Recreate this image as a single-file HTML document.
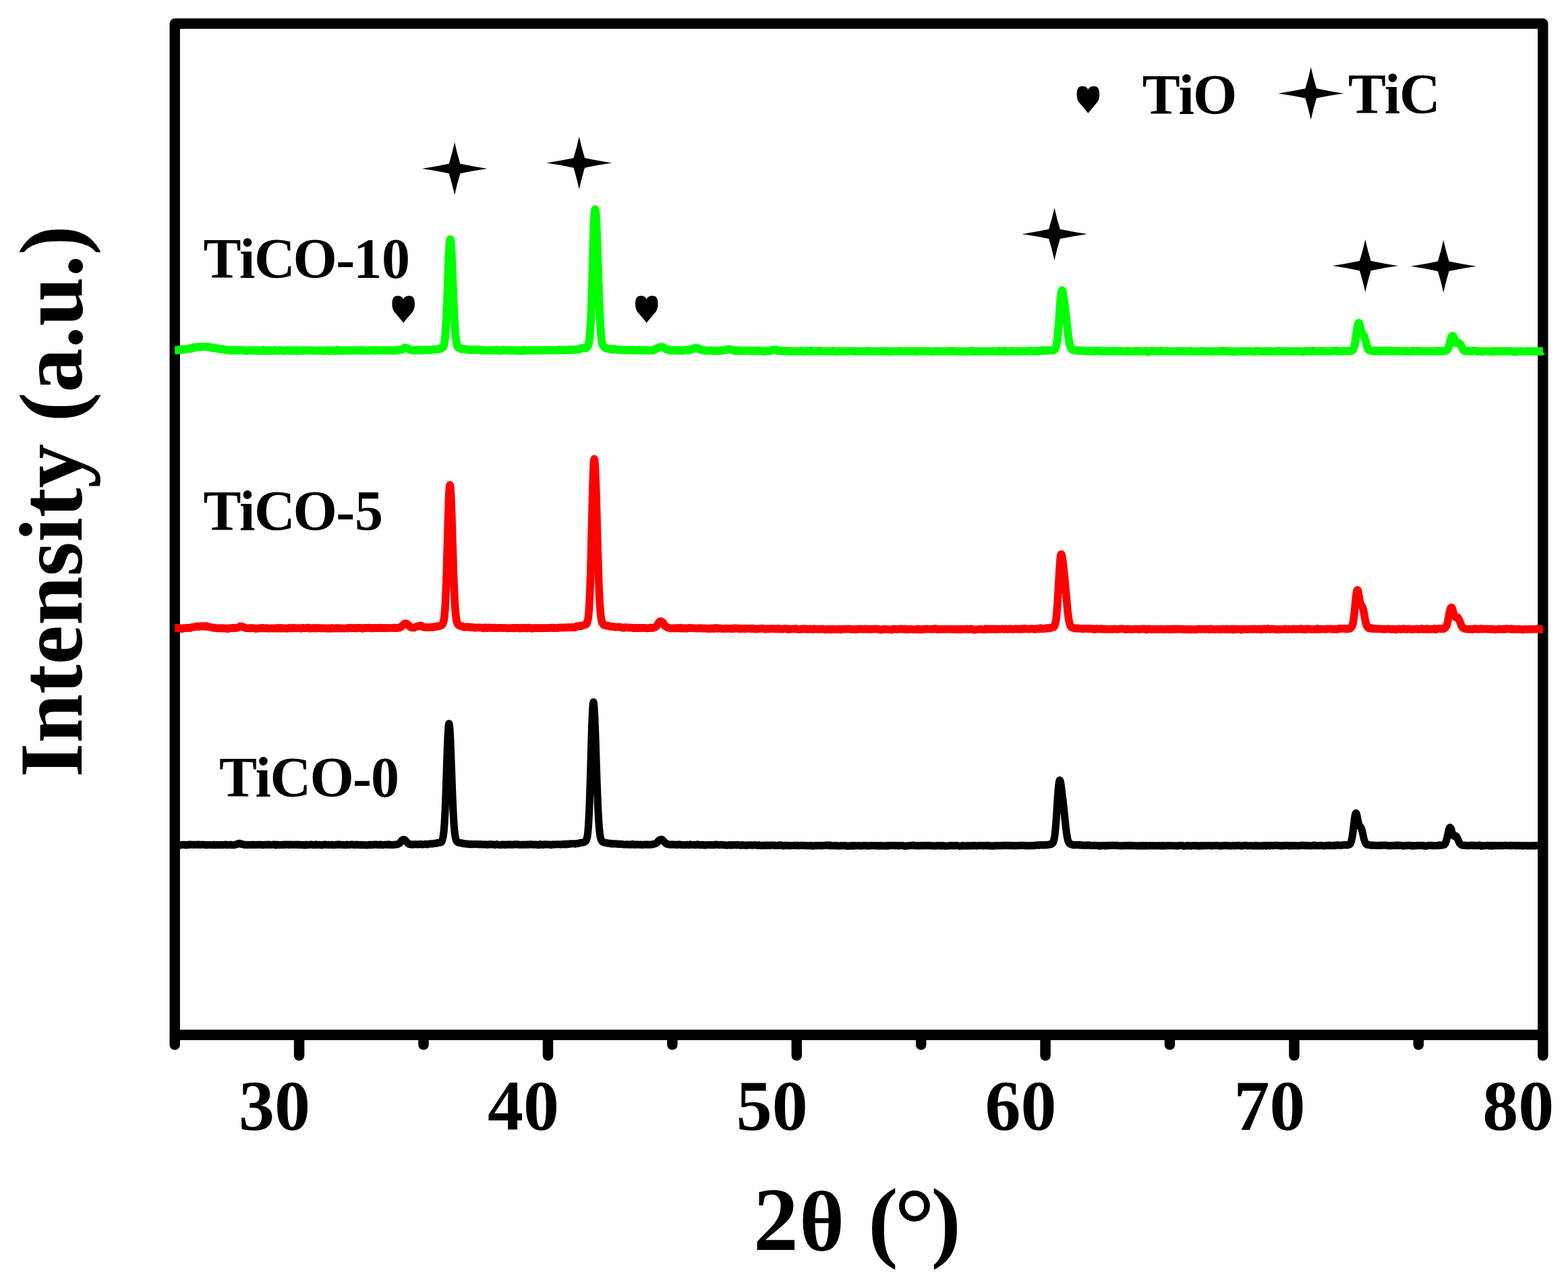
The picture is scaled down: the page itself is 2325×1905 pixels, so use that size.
<!DOCTYPE html>
<html lang="en"><head><meta charset="utf-8"><title>XRD patterns of TiCO-0, TiCO-5 and TiCO-10</title>
<style>
html,body{margin:0;padding:0;background:#fff;}
body{width:2325px;height:1905px;overflow:hidden;}
svg{display:block;}
text{font-family:"Liberation Serif","DejaVu Serif",serif;font-weight:bold;fill:#000;font-kerning:none;font-variant-ligatures:none;}
.ax{fill:none;stroke:#000;stroke-linecap:round;stroke-linejoin:round;}
.cv{fill:none;stroke-linejoin:round;stroke-linecap:butt;}
</style></head><body>
<svg width="2325" height="1905" viewBox="0 0 2325 1905">
<rect x="0" y="0" width="2325" height="1905" fill="#fff"/>
<g class="ax" stroke-width="15.4">
<rect x="259.2" y="35.0" width="2028.6" height="1499.3"/>
<line x1="259.2" y1="1535.8" x2="259.2" y2="1548.8" stroke-width="15.5"/>
<line x1="443.6" y1="1535.8" x2="443.6" y2="1564.8" stroke-width="15.5"/>
<line x1="628.0" y1="1535.8" x2="628.0" y2="1548.8" stroke-width="15.5"/>
<line x1="812.5" y1="1535.8" x2="812.5" y2="1564.8" stroke-width="15.5"/>
<line x1="996.9" y1="1535.8" x2="996.9" y2="1548.8" stroke-width="15.5"/>
<line x1="1181.3" y1="1535.8" x2="1181.3" y2="1564.8" stroke-width="15.5"/>
<line x1="1365.7" y1="1535.8" x2="1365.7" y2="1548.8" stroke-width="15.5"/>
<line x1="1550.1" y1="1535.8" x2="1550.1" y2="1564.8" stroke-width="15.5"/>
<line x1="1734.5" y1="1535.8" x2="1734.5" y2="1548.8" stroke-width="15.5"/>
<line x1="1919.0" y1="1535.8" x2="1919.0" y2="1564.8" stroke-width="15.5"/>
<line x1="2103.4" y1="1535.8" x2="2103.4" y2="1548.8" stroke-width="15.5"/>
<line x1="2287.8" y1="1535.8" x2="2287.8" y2="1564.8" stroke-width="15.5"/>
</g>
<path class="cv" stroke="#00ff00" stroke-width="12.0" d="M259.2 519.2L260.0 519.2L260.8 519.0L261.6 519.3L262.4 519.4L263.2 519.2L264.0 518.7L264.8 518.8L265.6 519.1L266.4 519.1L267.2 518.7L268.0 518.1L268.8 518.0L269.6 518.0L270.4 518.2L271.2 517.8L272.0 517.8L272.8 517.7L273.6 518.3L274.4 518.1L275.2 517.8L276.0 517.5L276.8 517.4L277.6 517.3L278.4 517.0L279.2 516.6L280.0 516.5L280.8 516.8L281.6 516.7L282.4 516.9L283.2 516.4L284.0 516.7L284.8 516.2L285.6 516.2L286.4 515.8L287.2 515.0L288.0 514.7L288.8 514.5L289.6 515.2L290.4 515.1L291.2 515.0L292.0 514.7L292.8 514.5L293.6 514.5L294.4 514.6L295.2 514.5L296.0 514.6L296.8 514.0L297.6 514.1L298.4 513.8L299.2 514.1L300.0 513.8L300.8 514.1L301.6 513.9L302.4 514.1L303.2 513.8L304.0 513.9L304.8 513.9L305.6 514.3L306.4 514.4L307.2 514.4L308.0 514.0L308.8 514.4L309.6 514.4L310.4 514.8L311.2 514.8L312.0 514.9L312.8 515.1L313.6 515.4L314.4 515.8L315.2 516.1L316.0 516.0L316.8 515.7L317.6 515.6L318.4 515.6L319.2 515.9L320.0 516.1L320.8 516.4L321.6 516.6L322.4 516.5L323.2 516.7L324.0 517.2L324.8 517.3L325.6 517.3L326.4 517.1L327.2 517.4L328.0 517.8L328.8 517.6L329.6 517.6L330.4 517.4L331.2 517.9L332.0 518.3L332.8 518.5L333.6 518.8L334.4 518.8L335.2 518.5L336.0 518.5L336.8 518.6L337.6 518.6L338.4 518.9L339.2 518.8L340.0 518.9L340.8 518.9L341.6 519.4L342.4 519.8L343.2 519.8L344.0 519.4L344.8 518.9L345.6 519.2L346.4 519.3L347.2 519.5L348.0 519.4L348.8 519.8L349.6 519.8L350.4 519.4L351.2 518.8L352.0 519.1L352.8 519.6L353.6 519.8L354.4 519.1L355.2 519.0L356.0 519.0L356.8 519.2L357.6 519.3L358.4 519.0L359.2 519.4L360.0 519.5L360.8 519.7L361.6 519.3L362.4 519.1L363.2 519.2L364.0 519.8L364.8 520.0L365.6 520.2L366.4 520.0L367.2 519.7L368.0 519.7L368.8 519.4L369.6 519.5L370.4 519.5L371.2 519.7L372.0 519.6L372.8 519.4L373.6 519.5L374.4 519.6L375.2 520.0L376.0 519.6L376.8 519.3L377.6 519.1L378.4 519.5L379.2 520.0L380.0 519.9L380.8 519.8L381.6 519.2L382.4 519.1L383.2 519.3L384.0 520.2L384.8 520.0L385.6 519.8L386.4 519.6L387.2 519.9L388.0 520.2L388.8 519.2L389.6 519.1L390.4 518.7L391.2 519.3L392.0 519.9L392.8 520.1L393.6 520.3L394.4 519.8L395.2 520.2L396.0 520.1L396.8 520.0L397.6 519.3L398.4 519.3L399.2 519.8L400.0 520.0L400.8 519.6L401.6 519.5L402.4 519.8L403.2 520.1L404.0 520.1L404.8 520.1L405.6 519.7L406.4 519.4L407.2 518.9L408.0 519.1L408.8 519.3L409.6 519.8L410.4 519.9L411.2 520.1L412.0 520.2L412.8 520.1L413.6 519.6L414.4 519.1L415.2 519.0L416.0 519.2L416.8 519.5L417.6 519.7L418.4 519.8L419.2 519.9L420.0 520.2L420.8 520.4L421.6 520.2L422.4 519.9L423.2 519.7L424.0 519.4L424.8 519.4L425.6 519.2L426.4 519.3L427.2 519.4L428.0 519.9L428.8 520.0L429.6 520.0L430.4 519.4L431.2 519.4L432.0 519.1L432.8 519.2L433.6 519.7L434.4 519.7L435.2 520.0L436.0 519.7L436.8 520.0L437.6 519.7L438.4 519.4L439.2 519.1L440.0 519.6L440.8 519.8L441.6 520.5L442.4 520.2L443.2 520.0L444.0 519.7L444.8 519.6L445.6 519.7L446.4 519.3L447.2 519.5L448.0 519.7L448.8 520.1L449.6 519.6L450.4 519.2L451.2 519.1L452.0 519.4L452.8 519.6L453.6 519.5L454.4 519.6L455.2 519.7L456.0 519.9L456.8 520.0L457.6 519.7L458.4 519.3L459.2 519.2L460.0 519.5L460.8 519.6L461.6 519.6L462.4 519.7L463.2 519.6L464.0 519.6L464.8 519.7L465.6 519.8L466.4 520.1L467.2 520.1L468.0 519.8L468.8 520.1L469.6 519.9L470.4 520.2L471.2 519.9L472.0 519.8L472.8 519.5L473.6 519.4L474.4 519.4L475.2 519.7L476.0 519.8L476.8 519.6L477.6 519.5L478.4 519.7L479.2 520.1L480.0 520.3L480.8 520.3L481.6 519.9L482.4 519.6L483.2 519.4L484.0 519.3L484.8 519.5L485.6 519.3L486.4 519.4L487.2 519.6L488.0 520.0L488.8 520.3L489.6 519.9L490.4 519.4L491.2 519.4L492.0 519.4L492.8 519.7L493.6 519.5L494.4 519.8L495.2 519.8L496.0 520.1L496.8 520.2L497.6 520.3L498.4 519.9L499.2 519.3L500.0 518.6L500.8 518.8L501.6 519.5L502.4 520.0L503.2 520.2L504.0 519.5L504.8 519.3L505.6 519.3L506.4 519.4L507.2 519.5L508.0 519.6L508.8 519.9L509.6 520.0L510.4 519.7L511.2 519.6L512.0 519.6L512.8 519.6L513.6 519.7L514.4 519.8L515.2 519.6L516.0 519.4L516.8 519.2L517.6 519.7L518.4 519.8L519.2 519.8L520.0 519.7L520.8 519.5L521.6 519.7L522.4 519.4L523.2 519.6L524.0 519.5L524.8 519.3L525.6 519.4L526.4 519.1L527.2 519.5L528.0 519.6L528.8 519.8L529.6 519.8L530.4 519.7L531.2 519.7L532.0 519.2L532.8 519.5L533.6 519.6L534.4 519.5L535.2 518.9L536.0 519.0L536.8 519.5L537.6 519.8L538.4 519.9L539.2 519.9L540.0 519.9L540.8 519.7L541.6 519.4L542.4 519.4L543.2 519.6L544.0 519.7L544.8 519.8L545.6 519.6L546.4 519.9L547.2 519.7L548.0 519.8L548.8 519.8L549.6 519.4L550.4 519.3L551.2 519.3L552.0 519.5L552.8 519.2L553.6 519.1L554.4 519.1L555.2 519.6L556.0 519.9L556.8 520.0L557.6 519.6L558.4 519.2L559.2 519.1L560.0 519.2L560.8 519.5L561.6 519.6L562.4 519.5L563.2 519.4L564.0 519.4L564.8 519.6L565.6 519.9L566.4 519.6L567.2 519.2L568.0 518.9L568.8 518.9L569.6 519.0L570.4 519.2L571.2 519.2L572.0 519.6L572.8 519.6L573.6 519.9L574.4 519.5L575.2 519.6L576.0 519.5L576.8 519.5L577.6 519.2L578.4 519.3L579.2 519.5L580.0 519.6L580.8 519.7L581.6 519.4L582.4 519.7L583.2 519.5L584.0 519.9L584.8 519.7L585.6 519.7L586.4 519.6L587.2 519.3L588.0 519.1L588.8 518.3L589.6 518.5L590.4 518.7L591.2 519.3L592.0 519.0L592.8 518.8L593.6 518.6L594.4 518.6L595.2 518.4L596.0 518.1L596.8 517.8L597.6 517.4L598.4 516.7L599.2 516.0L600.0 515.4L600.8 515.5L601.6 515.9L602.4 515.9L603.2 516.0L604.0 516.3L604.8 516.9L605.6 517.6L606.4 517.8L607.2 518.2L608.0 518.2L608.8 518.5L609.6 518.7L610.4 519.1L611.2 519.3L612.0 519.5L612.8 519.4L613.6 519.3L614.4 519.1L615.2 518.7L616.0 519.2L616.8 519.3L617.6 519.6L618.4 518.7L619.2 518.6L620.0 518.8L620.8 519.2L621.6 519.4L622.4 518.9L623.2 519.2L624.0 519.1L624.8 519.3L625.6 519.1L626.4 519.1L627.2 519.4L628.0 519.3L628.8 519.0L629.6 518.6L630.4 518.9L631.2 519.0L632.0 518.8L632.8 518.6L633.6 518.7L634.4 518.5L635.2 518.6L636.0 518.7L636.8 519.2L637.6 519.1L638.4 519.1L639.2 518.9L640.0 518.8L640.8 518.3L641.6 518.1L642.4 517.9L643.2 517.8L644.0 517.7L644.8 517.9L645.2 518.0L645.6 518.1L646.0 518.2L646.4 518.2L646.8 517.8L647.2 517.5L647.6 517.6L648.0 517.7L648.4 517.6L648.8 517.5L649.2 517.7L649.6 518.0L650.0 517.8L650.4 517.6L650.8 517.6L651.2 517.6L651.6 517.4L652.0 517.1L652.4 517.1L652.8 517.1L653.2 517.0L653.6 516.8L654.0 516.6L654.4 516.4L654.8 516.2L655.2 515.9L655.6 515.6L656.0 515.3L656.4 515.1L656.8 514.8L657.2 514.4L657.6 513.8L658.0 512.7L658.4 511.3L658.8 509.2L659.2 506.6L659.6 503.6L660.0 500.0L660.4 495.8L660.8 490.7L661.2 484.8L661.6 478.0L662.0 470.1L662.4 461.2L662.8 451.5L663.2 441.1L663.6 430.1L664.0 418.9L664.4 407.6L664.8 396.6L665.2 386.4L665.6 377.1L666.0 369.2L666.4 362.8L666.8 358.4L667.2 355.8L667.6 354.7L668.0 355.6L668.4 358.3L668.8 362.8L669.2 368.7L669.6 376.1L670.0 384.6L670.4 394.1L670.8 404.0L671.2 414.2L671.6 424.3L672.0 434.2L672.4 443.9L672.8 453.1L673.2 461.9L673.6 469.9L674.0 477.4L674.4 484.0L674.8 489.8L675.2 494.7L675.6 499.0L676.0 502.6L676.4 505.3L676.8 507.5L677.2 509.6L677.6 511.3L678.0 512.5L678.4 513.5L678.8 514.3L679.2 515.0L679.6 515.3L680.0 515.6L680.4 515.7L680.8 515.7L681.2 516.0L681.6 516.3L682.0 516.4L682.4 516.4L682.8 516.7L683.2 516.9L683.6 517.1L684.0 517.3L684.4 517.5L684.8 517.7L685.2 517.5L685.6 517.3L686.0 517.2L686.4 517.1L686.8 517.0L687.2 516.9L687.6 517.0L688.0 517.2L688.4 517.3L688.8 517.3L689.2 517.3L689.6 517.3L690.0 517.5L690.4 517.6L690.8 517.8L691.2 517.9L691.6 517.9L692.0 518.0L692.4 518.0L692.8 518.0L693.2 518.2L693.6 518.3L694.4 518.6L695.2 518.7L696.0 518.4L696.8 518.5L697.6 518.7L698.4 518.9L699.2 518.5L700.0 518.4L700.8 518.3L701.6 518.7L702.4 518.6L703.2 518.5L704.0 518.3L704.8 518.7L705.6 518.6L706.4 518.9L707.2 518.7L708.0 518.5L708.8 518.6L709.6 518.2L710.4 518.5L711.2 518.6L712.0 518.9L712.8 519.0L713.6 518.8L714.4 519.4L715.2 519.6L716.0 519.6L716.8 519.4L717.6 519.0L718.4 519.1L719.2 518.9L720.0 519.3L720.8 519.4L721.6 519.5L722.4 519.5L723.2 519.3L724.0 519.2L724.8 519.3L725.6 519.6L726.4 519.4L727.2 519.5L728.0 519.3L728.8 519.5L729.6 519.5L730.4 519.5L731.2 519.6L732.0 519.0L732.8 519.1L733.6 518.9L734.4 519.5L735.2 519.2L736.0 518.9L736.8 518.7L737.6 519.3L738.4 519.6L739.2 519.6L740.0 519.4L740.8 519.5L741.6 519.9L742.4 519.9L743.2 519.7L744.0 519.6L744.8 519.5L745.6 519.0L746.4 518.5L747.2 518.7L748.0 519.2L748.8 519.5L749.6 519.3L750.4 519.2L751.2 519.3L752.0 519.3L752.8 519.6L753.6 519.5L754.4 519.2L755.2 519.0L756.0 519.3L756.8 519.6L757.6 519.9L758.4 519.5L759.2 519.4L760.0 519.0L760.8 519.2L761.6 519.6L762.4 519.7L763.2 519.6L764.0 519.2L764.8 519.5L765.6 519.5L766.4 519.8L767.2 519.6L768.0 519.6L768.8 519.4L769.6 519.4L770.4 519.8L771.2 520.3L772.0 520.3L772.8 519.8L773.6 519.3L774.4 519.6L775.2 520.0L776.0 519.9L776.8 519.2L777.6 518.8L778.4 518.8L779.2 519.1L780.0 519.5L780.8 519.6L781.6 519.7L782.4 519.7L783.2 519.6L784.0 519.6L784.8 519.4L785.6 519.1L786.4 518.9L787.2 518.9L788.0 519.2L788.8 519.6L789.6 519.7L790.4 519.6L791.2 519.5L792.0 519.2L792.8 519.4L793.6 519.1L794.4 519.4L795.2 519.6L796.0 519.3L796.8 519.4L797.6 519.0L798.4 519.5L799.2 519.2L800.0 519.5L800.8 519.5L801.6 519.4L802.4 518.9L803.2 519.0L804.0 519.1L804.8 519.3L805.6 519.3L806.4 519.1L807.2 519.4L808.0 519.2L808.8 519.2L809.6 518.9L810.4 518.9L811.2 519.2L812.0 519.3L812.8 519.6L813.6 519.2L814.4 519.0L815.2 518.7L816.0 519.0L816.8 519.0L817.6 519.1L818.4 519.2L819.2 519.5L820.0 519.2L820.8 519.0L821.6 519.0L822.4 519.3L823.2 519.5L824.0 519.6L824.8 519.5L825.6 519.1L826.4 519.0L827.2 519.5L828.0 519.3L828.8 519.1L829.6 518.5L830.4 518.5L831.2 518.7L832.0 519.0L832.8 519.1L833.6 518.7L834.4 518.9L835.2 519.0L836.0 519.4L836.8 519.0L837.6 518.6L838.4 518.5L839.2 518.8L840.0 519.1L840.8 519.0L841.6 519.1L842.4 518.9L843.2 518.9L844.0 518.5L844.8 518.8L845.6 518.5L846.4 518.8L847.2 518.4L848.0 518.9L848.8 518.3L849.6 518.5L850.4 518.4L851.2 518.7L852.0 518.5L852.8 518.3L853.6 518.3L854.4 518.2L855.2 518.0L856.0 518.4L856.8 518.4L857.6 518.2L858.4 517.5L859.2 517.2L859.7 517.2L860.0 517.3L860.1 517.2L860.5 516.9L860.8 516.7L860.9 516.7L861.3 516.7L861.6 516.7L861.7 516.6L862.1 516.5L862.4 516.3L862.5 516.4L862.9 516.4L863.2 516.5L863.3 516.5L863.7 516.4L864.0 516.3L864.1 516.3L864.5 516.2L864.8 516.2L864.9 516.2L865.3 516.3L865.6 516.3L865.7 516.3L866.1 516.2L866.4 516.2L866.5 516.1L866.9 516.0L867.2 515.9L867.3 515.9L867.7 515.9L868.0 515.9L868.1 516.0L868.5 516.0L868.8 516.1L868.9 516.0L869.3 515.9L869.6 515.8L869.7 515.7L870.1 515.2L870.4 514.9L870.5 514.8L870.9 514.3L871.2 513.9L871.3 513.7L871.7 513.1L872.0 512.5L872.1 512.3L872.5 511.2L872.8 510.1L872.9 509.7L873.3 507.7L873.6 505.8L873.7 505.2L874.1 502.3L874.4 499.5L874.5 498.5L874.9 493.8L875.2 489.6L875.3 488.1L875.7 481.4L876.0 475.6L876.1 473.4L876.5 464.1L876.8 456.3L876.9 453.6L877.3 441.9L877.6 432.6L877.7 429.3L878.1 415.9L878.4 405.5L878.5 402.1L878.9 388.2L879.2 377.9L879.3 374.4L879.7 361.1L880.0 351.6L880.1 348.6L880.5 337.6L880.8 330.3L880.9 328.1L881.3 320.4L881.6 316.0L881.7 314.8L882.1 311.5L882.4 310.4L882.5 310.3L882.9 311.1L883.2 313.1L883.3 314.0L883.7 318.8L884.0 323.7L884.1 325.5L884.5 333.8L884.8 340.9L884.9 343.5L885.3 354.5L885.6 363.3L885.7 366.2L886.1 378.2L886.4 387.3L886.5 390.4L886.9 402.5L887.2 411.5L887.3 414.4L887.7 425.7L888.0 433.9L888.1 436.6L888.5 446.7L888.8 453.8L888.9 456.2L889.3 464.9L889.6 470.9L889.7 472.8L890.1 479.9L890.4 484.6L890.5 486.2L890.9 491.9L891.2 495.6L891.3 496.8L891.7 500.8L892.0 503.4L892.1 504.2L892.5 506.8L892.8 508.5L892.9 509.0L893.3 510.6L893.6 511.6L893.7 511.8L894.1 512.4L894.4 512.7L894.5 512.9L894.9 513.6L895.2 514.0L895.3 514.1L895.7 514.4L896.0 514.7L896.1 514.8L896.5 515.2L896.8 515.5L896.9 515.5L897.3 515.6L897.6 515.7L897.7 515.7L898.1 515.9L898.4 516.0L898.5 516.1L898.9 516.1L899.2 516.2L899.3 516.2L899.7 516.4L900.0 516.5L900.1 516.5L900.5 516.6L900.8 516.6L900.9 516.7L901.3 516.9L901.6 517.0L901.7 517.0L902.1 517.0L902.4 517.0L902.5 517.0L902.9 517.0L903.2 516.9L903.3 516.9L903.7 517.0L904.0 517.0L904.1 517.0L904.5 517.0L904.8 517.1L904.9 517.1L905.3 517.2L905.6 517.3L905.7 517.3L906.1 517.7L906.4 517.9L906.5 518.0L906.9 518.3L907.2 518.6L907.3 518.6L907.7 518.5L908.0 518.5L908.1 518.5L908.5 518.2L908.8 518.0L908.9 517.9L909.3 517.7L909.6 517.5L910.4 517.3L911.2 517.2L912.0 517.5L912.8 517.6L913.6 518.3L914.4 518.2L915.2 518.4L916.0 518.2L916.8 518.4L917.6 518.8L918.4 518.8L919.2 518.5L920.0 518.4L920.8 518.4L921.6 518.8L922.4 518.7L923.2 519.0L924.0 518.8L924.8 518.9L925.6 518.7L926.4 518.9L927.2 519.1L928.0 519.3L928.8 519.0L929.6 518.5L930.4 518.5L931.2 518.6L932.0 518.8L932.8 518.7L933.6 519.1L934.4 519.2L935.2 519.5L936.0 519.0L936.8 518.9L937.6 518.6L938.4 519.3L939.2 519.4L940.0 519.4L940.8 519.2L941.6 519.1L942.4 519.2L943.2 519.0L944.0 519.4L944.8 519.6L945.6 519.6L946.4 518.9L947.2 518.7L948.0 518.6L948.8 519.3L949.6 519.5L950.4 519.6L951.2 519.7L952.0 519.4L952.8 519.4L953.6 519.0L954.4 519.4L955.2 519.2L956.0 519.4L956.8 519.1L957.6 519.2L958.4 519.4L959.2 519.3L960.0 519.4L960.8 519.3L961.6 519.6L962.4 519.5L963.2 519.6L964.0 519.3L964.8 519.3L965.6 519.3L966.4 519.6L967.2 519.5L968.0 519.1L968.8 518.6L969.6 518.7L970.4 518.5L971.2 518.3L972.0 517.7L972.8 517.3L973.6 517.0L974.4 516.5L975.2 515.9L976.0 515.4L976.8 515.2L977.6 515.0L978.4 514.5L979.2 514.4L980.0 514.4L980.8 514.4L981.6 514.2L982.4 514.4L983.2 515.1L984.0 515.4L984.8 515.6L985.6 515.9L986.4 516.7L987.2 517.7L988.0 518.0L988.8 518.2L989.6 518.5L990.4 518.7L991.2 518.7L992.0 518.6L992.8 519.3L993.6 519.6L994.4 519.6L995.2 519.6L996.0 519.4L996.8 519.3L997.6 518.9L998.4 519.2L999.2 519.6L1000.0 519.6L1000.8 519.3L1001.6 518.9L1002.4 518.9L1003.2 519.1L1004.0 519.4L1004.8 520.0L1005.6 519.8L1006.4 519.3L1007.2 519.1L1008.0 519.3L1008.8 519.6L1009.6 519.4L1010.4 519.6L1011.2 519.9L1012.0 520.1L1012.8 519.5L1013.6 519.5L1014.4 519.1L1015.2 519.1L1016.0 518.6L1016.8 518.5L1017.6 518.5L1018.4 519.0L1019.2 519.2L1020.0 519.6L1020.8 519.3L1021.6 518.6L1022.4 518.6L1023.2 518.2L1024.0 518.7L1024.8 517.9L1025.6 517.5L1026.4 517.1L1027.2 516.8L1028.0 516.7L1028.8 516.2L1029.6 516.3L1030.4 516.3L1031.2 516.6L1032.0 516.6L1032.8 516.4L1033.6 516.4L1034.4 516.1L1035.2 516.4L1036.0 516.8L1036.8 517.6L1037.6 518.0L1038.4 518.4L1039.2 518.7L1040.0 518.6L1040.8 518.6L1041.6 518.6L1042.4 518.9L1043.2 518.9L1044.0 518.9L1044.8 518.9L1045.6 519.3L1046.4 519.5L1047.2 519.9L1048.0 519.8L1048.8 520.0L1049.6 519.9L1050.4 519.9L1051.2 519.8L1052.0 519.8L1052.8 519.9L1053.6 519.6L1054.4 519.6L1055.2 519.7L1056.0 519.9L1056.8 520.1L1057.6 520.1L1058.4 520.1L1059.2 520.2L1060.0 520.6L1060.8 520.6L1061.6 520.1L1062.4 519.8L1063.2 520.0L1064.0 520.1L1064.8 520.1L1065.6 520.1L1066.4 520.4L1067.2 520.0L1068.0 520.2L1068.8 519.7L1069.6 519.7L1070.4 519.1L1071.2 519.3L1072.0 519.5L1072.8 519.5L1073.6 519.5L1074.4 519.0L1075.2 519.0L1076.0 518.6L1076.8 518.6L1077.6 518.2L1078.4 517.9L1079.2 518.0L1080.0 518.1L1080.8 518.0L1081.6 517.8L1082.4 518.0L1083.2 518.4L1084.0 518.7L1084.8 518.5L1085.6 518.7L1086.4 518.7L1087.2 518.6L1088.0 519.0L1088.8 519.4L1089.6 520.2L1090.4 520.4L1091.2 520.1L1092.0 519.8L1092.8 519.3L1093.6 519.9L1094.4 520.1L1095.2 520.2L1096.0 519.7L1096.8 519.3L1097.6 519.5L1098.4 519.7L1099.2 519.8L1100.0 520.0L1100.8 519.9L1101.6 519.9L1102.4 519.9L1103.2 519.8L1104.0 519.9L1104.8 520.1L1105.6 520.3L1106.4 520.2L1107.2 520.1L1108.0 519.8L1108.8 519.7L1109.6 519.7L1110.4 519.9L1111.2 519.5L1112.0 519.7L1112.8 520.0L1113.6 520.4L1114.4 520.4L1115.2 519.8L1116.0 519.8L1116.8 519.7L1117.6 520.0L1118.4 520.3L1119.2 520.3L1120.0 520.4L1120.8 519.8L1121.6 520.1L1122.4 520.1L1123.2 520.3L1124.0 519.7L1124.8 519.5L1125.6 519.6L1126.4 519.8L1127.2 520.1L1128.0 520.4L1128.8 520.1L1129.6 520.3L1130.4 520.2L1131.2 520.6L1132.0 520.5L1132.8 520.9L1133.6 520.9L1134.4 520.7L1135.2 520.3L1136.0 520.0L1136.8 520.1L1137.6 520.2L1138.4 520.3L1139.2 520.0L1140.0 520.0L1140.8 520.2L1141.6 520.4L1142.4 519.9L1143.2 519.3L1144.0 519.1L1144.8 519.1L1145.6 519.0L1146.4 518.5L1147.2 518.6L1148.0 518.8L1148.8 518.8L1149.6 518.4L1150.4 518.2L1151.2 518.8L1152.0 519.4L1152.8 519.9L1153.6 519.8L1154.4 520.2L1155.2 520.3L1156.0 520.4L1156.8 520.1L1157.6 519.9L1158.4 519.9L1159.2 520.2L1160.0 520.5L1160.8 520.6L1161.6 520.4L1162.4 520.1L1163.2 519.7L1164.0 519.9L1164.8 520.1L1165.6 520.8L1166.4 520.7L1167.2 521.1L1168.0 520.5L1168.8 520.7L1169.6 520.4L1170.4 520.9L1171.2 520.9L1172.0 521.1L1172.8 520.6L1173.6 520.5L1174.4 520.5L1175.2 521.1L1176.0 521.2L1176.8 521.0L1177.6 520.9L1178.4 520.8L1179.2 520.7L1180.0 520.5L1180.8 520.7L1181.6 520.8L1182.4 520.9L1183.2 521.1L1184.0 520.9L1184.8 520.7L1185.6 520.8L1186.4 520.9L1187.2 520.7L1188.0 520.4L1188.8 520.1L1189.6 520.4L1190.4 520.5L1191.2 520.9L1192.0 521.1L1192.8 521.4L1193.6 521.3L1194.4 521.1L1195.2 520.7L1196.0 520.3L1196.8 520.3L1197.6 520.6L1198.4 520.8L1199.2 520.8L1200.0 520.3L1200.8 520.0L1201.6 519.8L1202.4 520.4L1203.2 520.8L1204.0 521.0L1204.8 520.9L1205.6 520.7L1206.4 520.6L1207.2 520.4L1208.0 520.4L1208.8 520.7L1209.6 521.0L1210.4 521.1L1211.2 520.7L1212.0 520.2L1212.8 520.0L1213.6 520.2L1214.4 520.4L1215.2 520.4L1216.0 520.2L1216.8 520.2L1217.6 520.7L1218.4 520.7L1219.2 520.8L1220.0 520.6L1220.8 520.7L1221.6 520.7L1222.4 520.6L1223.2 521.1L1224.0 521.1L1224.8 521.0L1225.6 520.7L1226.4 521.0L1227.2 521.0L1228.0 520.9L1228.8 520.5L1229.6 520.6L1230.4 520.8L1231.2 520.9L1232.0 520.9L1232.8 520.9L1233.6 520.7L1234.4 520.2L1235.2 520.0L1236.0 520.1L1236.8 521.0L1237.6 521.1L1238.4 521.0L1239.2 520.8L1240.0 520.9L1240.8 521.4L1241.6 521.2L1242.4 521.2L1243.2 520.7L1244.0 520.6L1244.8 520.5L1245.6 520.4L1246.4 520.6L1247.2 520.6L1248.0 520.9L1248.8 521.1L1249.6 520.8L1250.4 520.6L1251.2 520.6L1252.0 520.7L1252.8 521.0L1253.6 521.1L1254.4 521.0L1255.2 521.1L1256.0 520.6L1256.8 520.8L1257.6 520.4L1258.4 520.5L1259.2 520.4L1260.0 520.5L1260.8 520.4L1261.6 520.6L1262.4 520.5L1263.2 520.6L1264.0 520.5L1264.8 520.4L1265.6 520.4L1266.4 520.5L1267.2 520.9L1268.0 520.9L1268.8 520.9L1269.6 520.9L1270.4 521.0L1271.2 521.1L1272.0 521.0L1272.8 520.7L1273.6 520.6L1274.4 521.0L1275.2 520.8L1276.0 520.9L1276.8 520.7L1277.6 521.1L1278.4 521.0L1279.2 520.7L1280.0 520.7L1280.8 520.7L1281.6 521.2L1282.4 521.1L1283.2 521.1L1284.0 520.9L1284.8 520.8L1285.6 520.4L1286.4 520.1L1287.2 520.4L1288.0 520.5L1288.8 520.7L1289.6 520.6L1290.4 521.0L1291.2 520.9L1292.0 520.7L1292.8 520.6L1293.6 520.7L1294.4 520.9L1295.2 521.0L1296.0 520.7L1296.8 520.8L1297.6 520.8L1298.4 521.0L1299.2 521.0L1300.0 521.0L1300.8 521.3L1301.6 521.1L1302.4 520.9L1303.2 520.7L1304.0 520.5L1304.8 520.7L1305.6 520.6L1306.4 520.8L1307.2 520.7L1308.0 520.9L1308.8 520.8L1309.6 520.7L1310.4 520.6L1311.2 520.5L1312.0 520.5L1312.8 520.8L1313.6 521.2L1314.4 521.1L1315.2 520.8L1316.0 520.9L1316.8 521.4L1317.6 521.3L1318.4 520.9L1319.2 520.7L1320.0 521.2L1320.8 521.4L1321.6 521.2L1322.4 520.9L1323.2 521.0L1324.0 521.1L1324.8 521.0L1325.6 520.7L1326.4 520.5L1327.2 520.7L1328.0 520.7L1328.8 520.8L1329.6 520.5L1330.4 520.9L1331.2 520.8L1332.0 520.7L1332.8 520.3L1333.6 520.4L1334.4 520.5L1335.2 520.8L1336.0 520.7L1336.8 520.6L1337.6 520.3L1338.4 520.6L1339.2 520.9L1340.0 521.1L1340.8 521.1L1341.6 521.0L1342.4 520.9L1343.2 520.7L1344.0 520.5L1344.8 520.4L1345.6 520.5L1346.4 520.7L1347.2 521.0L1348.0 521.2L1348.8 520.9L1349.6 520.6L1350.4 520.5L1351.2 520.4L1352.0 520.8L1352.8 520.8L1353.6 520.7L1354.4 520.5L1355.2 520.3L1356.0 520.9L1356.8 521.3L1357.6 521.6L1358.4 521.1L1359.2 520.5L1360.0 520.5L1360.8 520.8L1361.6 521.3L1362.4 521.3L1363.2 521.1L1364.0 520.9L1364.8 520.4L1365.6 520.4L1366.4 520.5L1367.2 520.8L1368.0 520.9L1368.8 520.7L1369.6 520.5L1370.4 520.6L1371.2 520.6L1372.0 520.6L1372.8 520.6L1373.6 520.7L1374.4 520.7L1375.2 520.7L1376.0 520.9L1376.8 520.8L1377.6 520.7L1378.4 520.7L1379.2 520.8L1380.0 521.1L1380.8 521.0L1381.6 521.3L1382.4 521.1L1383.2 521.5L1384.0 521.3L1384.8 521.1L1385.6 520.8L1386.4 520.9L1387.2 520.8L1388.0 520.8L1388.8 520.3L1389.6 520.8L1390.4 520.9L1391.2 520.8L1392.0 520.8L1392.8 520.4L1393.6 520.5L1394.4 520.7L1395.2 520.8L1396.0 521.1L1396.8 520.8L1397.6 520.8L1398.4 520.9L1399.2 521.0L1400.0 520.9L1400.8 520.7L1401.6 520.6L1402.4 520.9L1403.2 520.8L1404.0 520.9L1404.8 520.7L1405.6 520.5L1406.4 520.4L1407.2 520.3L1408.0 520.4L1408.8 520.5L1409.6 520.9L1410.4 520.8L1411.2 520.5L1412.0 520.3L1412.8 520.5L1413.6 520.8L1414.4 520.6L1415.2 520.5L1416.0 520.7L1416.8 521.0L1417.6 521.2L1418.4 521.0L1419.2 521.1L1420.0 521.2L1420.8 520.9L1421.6 520.5L1422.4 520.6L1423.2 521.1L1424.0 521.4L1424.8 521.1L1425.6 521.2L1426.4 521.0L1427.2 521.2L1428.0 520.8L1428.8 520.8L1429.6 520.6L1430.4 520.9L1431.2 521.0L1432.0 520.9L1432.8 521.1L1433.6 521.4L1434.4 521.3L1435.2 520.9L1436.0 520.8L1436.8 521.1L1437.6 521.2L1438.4 521.2L1439.2 520.6L1440.0 520.7L1440.8 520.2L1441.6 520.7L1442.4 520.4L1443.2 520.6L1444.0 520.8L1444.8 520.5L1445.6 520.5L1446.4 520.4L1447.2 520.7L1448.0 520.8L1448.8 521.0L1449.6 521.0L1450.4 521.2L1451.2 520.8L1452.0 520.7L1452.8 520.9L1453.6 521.1L1454.4 521.0L1455.2 520.9L1456.0 521.1L1456.8 521.0L1457.6 520.8L1458.4 520.7L1459.2 521.1L1460.0 521.0L1460.8 521.1L1461.6 520.8L1462.4 520.8L1463.2 520.5L1464.0 520.6L1464.8 520.8L1465.6 520.9L1466.4 520.9L1467.2 520.8L1468.0 520.9L1468.8 520.9L1469.6 521.0L1470.4 521.0L1471.2 520.9L1472.0 520.6L1472.8 520.6L1473.6 520.5L1474.4 520.7L1475.2 520.6L1476.0 520.6L1476.8 520.7L1477.6 520.6L1478.4 520.7L1479.2 521.2L1480.0 521.3L1480.8 521.2L1481.6 520.2L1482.4 520.5L1483.2 520.6L1484.0 520.9L1484.8 520.8L1485.6 520.6L1486.4 520.6L1487.2 520.6L1488.0 521.0L1488.8 521.2L1489.6 520.6L1490.4 520.0L1491.2 520.4L1492.0 521.1L1492.8 521.4L1493.6 520.9L1494.4 520.7L1495.2 520.7L1496.0 520.7L1496.8 520.5L1497.6 520.6L1498.4 520.8L1499.2 520.6L1500.0 520.7L1500.8 520.3L1501.6 520.4L1502.4 520.4L1503.2 520.5L1504.0 520.7L1504.8 521.0L1505.6 521.1L1506.4 521.0L1507.2 520.9L1508.0 521.2L1508.8 521.0L1509.6 520.6L1510.4 520.6L1511.2 520.7L1512.0 520.9L1512.8 520.4L1513.6 520.5L1514.4 520.6L1515.2 520.9L1516.0 520.8L1516.8 520.7L1517.6 520.7L1518.4 520.8L1519.2 520.9L1520.0 520.7L1520.8 520.8L1521.6 520.9L1522.4 521.2L1523.2 520.8L1524.0 520.6L1524.8 520.3L1525.6 520.4L1526.4 520.4L1527.2 520.3L1528.0 520.4L1528.8 520.3L1529.6 520.5L1530.4 520.6L1531.2 520.8L1532.0 520.8L1532.8 520.8L1533.6 520.5L1534.4 520.4L1535.2 520.4L1536.0 520.3L1536.8 520.1L1537.6 520.0L1538.4 520.2L1539.2 520.4L1540.0 520.8L1540.8 520.7L1541.6 520.7L1542.4 519.9L1543.2 519.9L1544.0 519.7L1544.8 519.6L1545.6 519.1L1546.4 519.8L1547.2 519.9L1548.0 520.2L1548.8 519.6L1549.6 519.8L1550.4 519.9L1550.8 520.0L1551.2 520.0L1551.6 519.9L1552.0 519.7L1552.4 519.5L1552.8 519.4L1553.2 519.4L1553.6 519.3L1554.0 519.4L1554.4 519.5L1554.8 519.4L1555.2 519.4L1555.6 519.3L1556.0 519.2L1556.4 519.2L1556.8 519.2L1557.2 519.3L1557.6 519.4L1558.0 519.5L1558.4 519.6L1558.8 519.6L1559.2 519.5L1559.6 519.5L1560.0 519.4L1560.4 519.4L1560.8 519.5L1561.2 519.5L1561.6 519.5L1562.0 519.3L1562.4 519.0L1562.8 518.8L1563.2 518.5L1563.6 518.3L1564.0 517.9L1564.4 517.5L1564.8 517.0L1565.2 516.0L1565.6 514.7L1566.0 513.2L1566.4 511.4L1566.8 509.5L1567.2 507.2L1567.6 504.7L1568.0 501.7L1568.4 498.1L1568.8 494.1L1569.2 489.5L1569.6 484.4L1570.0 478.9L1570.4 473.2L1570.8 467.2L1571.2 461.3L1571.6 455.6L1572.0 450.2L1572.4 445.3L1572.8 441.0L1573.2 437.3L1573.6 434.5L1574.0 432.3L1574.4 431.0L1574.8 430.6L1575.2 430.9L1575.6 432.0L1576.0 433.7L1576.4 435.8L1576.8 438.4L1577.2 441.1L1577.6 444.0L1578.0 446.9L1578.4 449.9L1578.8 453.0L1579.2 456.1L1579.6 459.5L1580.0 463.0L1580.4 466.3L1580.8 469.7L1581.2 473.1L1581.6 476.7L1582.0 480.0L1582.4 483.4L1582.8 487.0L1583.2 490.6L1583.6 494.2L1584.0 497.7L1584.4 500.8L1584.8 503.7L1585.2 506.1L1585.6 508.2L1586.0 509.8L1586.4 511.0L1586.8 512.2L1587.2 513.1L1587.6 514.3L1588.0 515.3L1588.4 516.2L1588.8 517.0L1589.2 517.6L1589.6 518.0L1590.0 518.4L1590.4 518.6L1590.8 518.6L1591.2 518.6L1591.6 518.8L1592.0 519.1L1592.4 519.0L1592.8 518.9L1593.2 519.2L1593.6 519.6L1594.0 519.5L1594.4 519.4L1594.8 519.5L1595.2 519.6L1595.6 519.4L1596.0 519.3L1596.4 519.4L1596.8 519.6L1597.2 519.6L1597.6 519.7L1598.0 519.6L1598.4 519.6L1598.8 519.6L1599.2 519.6L1599.6 519.6L1600.0 519.6L1600.4 519.8L1600.8 519.9L1601.2 519.9L1601.6 519.8L1602.0 519.9L1602.4 520.0L1602.8 519.9L1603.2 519.9L1603.6 519.7L1604.0 519.6L1604.4 519.5L1604.8 519.5L1605.6 519.7L1606.4 520.2L1607.2 520.3L1608.0 520.0L1608.8 519.7L1609.6 520.0L1610.4 520.7L1611.2 521.0L1612.0 520.8L1612.8 520.5L1613.6 520.5L1614.4 520.5L1615.2 520.2L1616.0 520.1L1616.8 520.0L1617.6 520.4L1618.4 520.4L1619.2 520.5L1620.0 520.6L1620.8 520.4L1621.6 520.8L1622.4 520.8L1623.2 520.6L1624.0 520.1L1624.8 519.7L1625.6 520.0L1626.4 520.0L1627.2 520.3L1628.0 520.5L1628.8 520.4L1629.6 520.3L1630.4 520.3L1631.2 520.7L1632.0 520.5L1632.8 520.7L1633.6 520.7L1634.4 521.1L1635.2 521.1L1636.0 521.0L1636.8 520.7L1637.6 520.6L1638.4 520.8L1639.2 520.9L1640.0 520.7L1640.8 520.3L1641.6 520.5L1642.4 520.6L1643.2 520.7L1644.0 520.4L1644.8 520.3L1645.6 520.4L1646.4 520.9L1647.2 520.9L1648.0 520.8L1648.8 520.4L1649.6 520.2L1650.4 520.6L1651.2 520.6L1652.0 521.0L1652.8 520.6L1653.6 521.2L1654.4 521.1L1655.2 521.3L1656.0 520.7L1656.8 520.6L1657.6 520.2L1658.4 520.5L1659.2 520.2L1660.0 520.5L1660.8 520.1L1661.6 520.6L1662.4 520.7L1663.2 520.8L1664.0 520.8L1664.8 520.7L1665.6 521.1L1666.4 521.1L1667.2 521.0L1668.0 520.9L1668.8 520.8L1669.6 521.2L1670.4 520.9L1671.2 521.1L1672.0 520.4L1672.8 520.6L1673.6 520.7L1674.4 521.0L1675.2 520.9L1676.0 520.7L1676.8 520.7L1677.6 520.9L1678.4 520.9L1679.2 520.7L1680.0 520.9L1680.8 521.1L1681.6 521.4L1682.4 520.8L1683.2 520.3L1684.0 520.1L1684.8 520.3L1685.6 520.7L1686.4 520.7L1687.2 520.9L1688.0 520.8L1688.8 520.6L1689.6 520.8L1690.4 520.4L1691.2 520.8L1692.0 520.7L1692.8 520.9L1693.6 521.1L1694.4 520.9L1695.2 521.0L1696.0 521.1L1696.8 520.6L1697.6 520.6L1698.4 520.2L1699.2 520.7L1700.0 520.5L1700.8 520.9L1701.6 521.1L1702.4 521.8L1703.2 521.4L1704.0 521.1L1704.8 520.7L1705.6 520.8L1706.4 520.7L1707.2 520.0L1708.0 520.1L1708.8 520.0L1709.6 520.5L1710.4 520.4L1711.2 520.5L1712.0 520.7L1712.8 520.7L1713.6 520.5L1714.4 520.7L1715.2 521.0L1716.0 521.2L1716.8 520.7L1717.6 520.5L1718.4 520.8L1719.2 521.0L1720.0 520.8L1720.8 520.1L1721.6 520.3L1722.4 520.0L1723.2 520.5L1724.0 520.4L1724.8 520.7L1725.6 520.8L1726.4 521.1L1727.2 520.8L1728.0 520.4L1728.8 520.4L1729.6 520.5L1730.4 520.5L1731.2 520.3L1732.0 520.4L1732.8 520.5L1733.6 520.8L1734.4 520.9L1735.2 521.0L1736.0 520.9L1736.8 521.0L1737.6 521.0L1738.4 520.8L1739.2 520.5L1740.0 520.8L1740.8 520.9L1741.6 521.0L1742.4 520.9L1743.2 520.8L1744.0 520.9L1744.8 520.6L1745.6 520.7L1746.4 520.8L1747.2 520.9L1748.0 520.6L1748.8 520.7L1749.6 520.9L1750.4 521.2L1751.2 520.6L1752.0 520.3L1752.8 520.4L1753.6 520.9L1754.4 521.0L1755.2 520.8L1756.0 520.4L1756.8 520.5L1757.6 520.9L1758.4 520.5L1759.2 520.7L1760.0 520.9L1760.8 521.1L1761.6 520.9L1762.4 520.5L1763.2 520.6L1764.0 520.3L1764.8 520.2L1765.6 520.3L1766.4 520.5L1767.2 520.9L1768.0 521.2L1768.8 521.1L1769.6 521.0L1770.4 521.1L1771.2 521.3L1772.0 521.3L1772.8 520.8L1773.6 520.9L1774.4 520.9L1775.2 521.1L1776.0 520.9L1776.8 521.0L1777.6 520.8L1778.4 521.1L1779.2 520.9L1780.0 520.6L1780.8 520.3L1781.6 520.2L1782.4 520.4L1783.2 520.7L1784.0 521.0L1784.8 521.0L1785.6 520.8L1786.4 520.8L1787.2 520.7L1788.0 520.9L1788.8 520.8L1789.6 520.9L1790.4 521.0L1791.2 520.8L1792.0 520.8L1792.8 520.6L1793.6 520.8L1794.4 521.2L1795.2 521.5L1796.0 521.6L1796.8 521.1L1797.6 520.9L1798.4 520.6L1799.2 521.0L1800.0 521.1L1800.8 521.3L1801.6 520.9L1802.4 521.0L1803.2 521.0L1804.0 521.1L1804.8 520.7L1805.6 520.7L1806.4 520.6L1807.2 520.6L1808.0 520.8L1808.8 520.8L1809.6 521.0L1810.4 520.9L1811.2 520.8L1812.0 520.2L1812.8 519.8L1813.6 520.0L1814.4 520.6L1815.2 521.0L1816.0 520.8L1816.8 520.6L1817.6 520.7L1818.4 520.7L1819.2 520.7L1820.0 520.2L1820.8 520.4L1821.6 520.9L1822.4 521.3L1823.2 521.4L1824.0 521.0L1824.8 520.6L1825.6 520.7L1826.4 520.7L1827.2 521.0L1828.0 520.9L1828.8 521.0L1829.6 521.3L1830.4 521.7L1831.2 521.5L1832.0 521.3L1832.8 520.8L1833.6 521.0L1834.4 521.0L1835.2 521.2L1836.0 521.2L1836.8 521.1L1837.6 520.8L1838.4 520.5L1839.2 520.6L1840.0 520.8L1840.8 520.6L1841.6 520.4L1842.4 520.4L1843.2 520.9L1844.0 521.1L1844.8 520.9L1845.6 520.9L1846.4 520.5L1847.2 521.0L1848.0 520.9L1848.8 521.3L1849.6 520.7L1850.4 520.9L1851.2 521.1L1852.0 521.0L1852.8 520.4L1853.6 520.3L1854.4 520.6L1855.2 521.0L1856.0 520.9L1856.8 521.1L1857.6 521.3L1858.4 521.7L1859.2 521.5L1860.0 521.3L1860.8 520.8L1861.6 520.6L1862.4 520.2L1863.2 520.3L1864.0 520.3L1864.8 520.4L1865.6 520.4L1866.4 520.5L1867.2 520.4L1868.0 520.8L1868.8 521.0L1869.6 521.3L1870.4 521.0L1871.2 520.8L1872.0 520.7L1872.8 521.0L1873.6 521.3L1874.4 520.9L1875.2 520.8L1876.0 520.7L1876.8 521.0L1877.6 521.0L1878.4 520.7L1879.2 520.7L1880.0 520.7L1880.8 520.7L1881.6 520.4L1882.4 520.6L1883.2 520.7L1884.0 521.1L1884.8 520.7L1885.6 521.4L1886.4 521.4L1887.2 521.3L1888.0 520.9L1888.8 520.9L1889.6 521.0L1890.4 520.9L1891.2 520.9L1892.0 521.0L1892.8 520.7L1893.6 520.3L1894.4 520.1L1895.2 520.7L1896.0 521.1L1896.8 521.2L1897.6 520.9L1898.4 520.5L1899.2 520.5L1900.0 520.6L1900.8 521.0L1901.6 520.8L1902.4 521.0L1903.2 520.8L1904.0 520.6L1904.8 520.6L1905.6 520.7L1906.4 520.9L1907.2 521.1L1908.0 520.7L1908.8 521.0L1909.6 520.8L1910.4 521.3L1911.2 520.7L1912.0 520.8L1912.8 520.7L1913.6 520.6L1914.4 520.6L1915.2 520.6L1916.0 521.0L1916.8 520.9L1917.6 520.9L1918.4 520.9L1919.2 521.0L1920.0 520.7L1920.8 520.6L1921.6 520.4L1922.4 520.5L1923.2 520.5L1924.0 520.7L1924.8 520.5L1925.6 520.5L1926.4 520.6L1927.2 520.6L1928.0 520.9L1928.8 521.0L1929.6 521.4L1930.4 521.1L1931.2 521.2L1932.0 521.3L1932.8 521.6L1933.6 521.3L1934.4 521.2L1935.2 520.5L1936.0 520.4L1936.8 520.4L1937.6 520.6L1938.4 520.7L1939.2 520.3L1940.0 520.8L1940.8 520.6L1941.6 520.5L1942.4 520.4L1943.2 520.8L1944.0 521.1L1944.8 520.9L1945.6 520.3L1946.4 519.9L1947.2 519.7L1948.0 520.2L1948.8 520.6L1949.6 520.8L1950.4 520.8L1951.2 520.8L1952.0 520.9L1952.8 520.7L1953.6 520.6L1954.4 520.5L1955.2 520.7L1956.0 520.8L1956.8 520.9L1957.6 520.6L1958.4 520.5L1959.2 520.2L1960.0 520.4L1960.8 520.3L1961.6 520.8L1962.4 520.8L1963.2 521.0L1964.0 520.9L1964.8 520.8L1965.6 521.0L1966.4 520.9L1967.2 521.0L1968.0 520.8L1968.8 520.8L1969.6 520.9L1970.4 521.0L1971.2 520.9L1972.0 521.0L1972.8 520.9L1973.6 520.6L1974.4 520.4L1975.2 520.3L1976.0 520.4L1976.8 520.5L1977.6 520.4L1978.4 520.0L1979.2 520.1L1980.0 519.9L1980.8 520.5L1981.6 520.0L1982.4 520.7L1983.2 520.4L1984.0 520.6L1984.8 520.5L1985.6 520.9L1986.4 521.1L1987.2 521.0L1988.0 520.7L1988.8 520.5L1989.6 520.8L1990.4 520.9L1991.2 520.8L1992.0 520.3L1992.1 520.2L1992.5 520.0L1992.8 519.9L1992.9 519.9L1993.3 520.1L1993.6 520.3L1993.7 520.3L1994.1 520.3L1994.4 520.2L1994.5 520.3L1994.9 520.4L1995.2 520.5L1995.3 520.5L1995.7 520.2L1996.0 520.0L1996.1 520.0L1996.5 520.2L1996.8 520.3L1996.9 520.3L1997.3 520.4L1997.6 520.5L1997.7 520.5L1998.1 520.6L1998.4 520.6L1998.5 520.6L1998.9 520.4L1999.2 520.3L1999.3 520.3L1999.7 520.3L2000.0 520.4L2000.1 520.3L2000.5 520.3L2000.8 520.2L2000.9 520.2L2001.3 520.2L2001.6 520.2L2001.7 520.1L2002.1 519.8L2002.4 519.6L2002.5 519.7L2002.9 519.9L2003.2 520.1L2003.3 520.1L2003.7 519.9L2004.0 519.8L2004.1 519.8L2004.5 519.8L2004.8 519.8L2004.9 519.7L2005.3 519.3L2005.6 518.9L2005.7 518.8L2006.1 518.4L2006.4 518.0L2006.5 517.8L2006.9 516.8L2007.2 516.0L2007.3 515.8L2007.7 514.7L2008.0 513.6L2008.1 513.3L2008.5 511.8L2008.8 510.6L2008.9 510.1L2009.3 508.0L2009.6 506.3L2009.7 505.7L2010.1 503.2L2010.4 501.2L2010.5 500.4L2010.9 497.5L2011.2 495.2L2011.3 494.5L2011.7 491.7L2012.0 489.7L2012.1 489.0L2012.5 486.3L2012.8 484.6L2012.9 484.0L2013.3 482.0L2013.6 480.9L2013.7 480.5L2014.1 479.3L2014.4 478.8L2014.5 478.7L2014.9 478.7L2015.2 479.1L2015.3 479.3L2015.7 480.3L2016.0 481.3L2016.1 481.7L2016.5 483.5L2016.8 484.9L2016.9 485.4L2017.3 487.1L2017.6 488.3L2017.7 488.7L2018.1 490.3L2018.4 491.4L2018.5 491.7L2018.9 493.0L2019.2 493.8L2019.3 494.0L2019.7 494.8L2020.0 495.3L2020.1 495.4L2020.5 495.8L2020.8 496.0L2020.9 496.1L2021.3 496.4L2021.6 496.7L2021.7 496.8L2022.1 497.3L2022.4 497.8L2022.5 498.1L2022.9 499.1L2023.2 500.0L2023.3 500.3L2023.7 501.3L2024.0 502.2L2024.1 502.6L2024.5 504.2L2024.8 505.4L2024.9 505.8L2025.3 507.3L2025.6 508.4L2025.7 508.8L2026.1 510.5L2026.4 511.7L2026.5 512.0L2026.9 513.3L2027.2 514.1L2027.3 514.4L2027.7 515.5L2028.0 516.2L2028.1 516.4L2028.5 517.2L2028.8 517.8L2028.9 517.9L2029.3 518.5L2029.6 518.8L2029.7 519.0L2030.1 519.4L2030.4 519.6L2030.5 519.6L2030.9 519.5L2031.2 519.4L2031.3 519.5L2031.7 519.5L2032.0 519.6L2032.1 519.5L2032.5 519.5L2032.8 519.5L2032.9 519.5L2033.3 519.6L2033.6 519.7L2033.7 519.8L2034.1 520.1L2034.4 520.4L2034.5 520.3L2034.9 520.2L2035.2 520.1L2035.3 520.2L2035.7 520.3L2036.0 520.4L2036.1 520.4L2036.5 520.1L2036.8 519.9L2036.9 519.8L2037.3 519.8L2037.6 519.7L2037.7 519.7L2038.1 519.8L2038.4 519.9L2038.5 519.9L2038.9 520.1L2039.2 520.1L2039.3 520.2L2039.7 520.4L2040.0 520.6L2040.1 520.5L2040.5 520.4L2040.8 520.2L2040.9 520.3L2041.3 520.4L2041.6 520.5L2041.7 520.5L2042.1 520.7L2042.4 520.8L2042.5 520.7L2042.9 520.6L2043.2 520.6L2043.3 520.6L2043.7 520.5L2044.0 520.4L2044.1 520.4L2044.5 520.2L2044.8 520.1L2045.6 520.7L2046.4 520.8L2047.2 521.2L2048.0 520.9L2048.8 520.6L2049.6 520.2L2050.4 520.3L2051.2 520.5L2052.0 520.5L2052.8 520.5L2053.6 520.4L2054.4 520.2L2055.2 519.7L2056.0 519.9L2056.8 520.5L2057.6 520.6L2058.4 520.3L2059.2 519.8L2060.0 520.1L2060.8 520.3L2061.6 520.4L2062.4 520.3L2063.2 520.0L2064.0 520.4L2064.8 520.4L2065.6 520.7L2066.4 520.6L2067.2 520.7L2068.0 520.7L2068.8 520.2L2069.6 520.2L2070.4 520.1L2071.2 520.6L2072.0 520.6L2072.8 520.7L2073.6 520.6L2074.4 520.5L2075.2 520.3L2076.0 520.6L2076.8 520.8L2077.6 521.0L2078.4 521.0L2079.2 520.8L2080.0 520.9L2080.8 520.7L2081.6 520.7L2082.4 520.7L2083.2 520.5L2084.0 520.3L2084.8 520.3L2085.6 520.5L2086.4 520.6L2087.2 520.6L2088.0 520.8L2088.8 520.8L2089.6 521.1L2090.4 521.3L2091.2 521.4L2092.0 520.8L2092.8 520.7L2093.6 520.6L2094.4 520.3L2095.2 520.1L2096.0 520.3L2096.8 520.7L2097.6 520.9L2098.4 520.8L2099.2 520.8L2100.0 520.4L2100.8 520.3L2101.6 520.3L2102.4 520.4L2103.2 520.6L2104.0 520.3L2104.8 520.6L2105.6 520.7L2106.4 521.1L2107.2 520.8L2108.0 520.6L2108.8 520.5L2109.6 520.4L2110.4 520.5L2111.2 520.7L2112.0 520.9L2112.8 521.2L2113.6 521.0L2114.4 521.0L2115.2 520.6L2116.0 520.4L2116.8 520.5L2117.6 520.9L2118.4 520.9L2119.2 520.9L2120.0 520.7L2120.8 520.7L2121.6 520.6L2122.4 520.3L2123.2 520.5L2124.0 520.4L2124.8 520.8L2125.6 521.1L2126.4 521.2L2127.2 521.2L2128.0 520.5L2128.8 520.5L2129.0 520.5L2129.4 520.6L2129.6 520.6L2129.8 520.7L2130.2 520.8L2130.4 520.8L2130.6 520.8L2131.0 520.8L2131.2 520.8L2131.4 520.8L2131.8 520.6L2132.0 520.5L2132.2 520.5L2132.6 520.5L2132.8 520.5L2133.0 520.4L2133.4 520.3L2133.6 520.2L2133.8 520.2L2134.2 520.2L2134.4 520.1L2134.6 520.2L2135.0 520.2L2135.2 520.2L2135.4 520.2L2135.8 520.2L2136.0 520.2L2136.2 520.4L2136.6 520.7L2136.8 520.8L2137.0 520.8L2137.4 520.7L2137.6 520.6L2137.8 520.7L2138.2 520.9L2138.4 521.0L2138.6 520.9L2139.0 520.7L2139.2 520.6L2139.4 520.5L2139.8 520.4L2140.0 520.3L2140.2 520.3L2140.6 520.2L2140.8 520.1L2141.0 520.1L2141.4 520.1L2141.6 520.1L2141.8 520.0L2142.2 520.0L2142.4 519.9L2142.6 519.9L2143.0 519.9L2143.2 519.9L2143.4 519.9L2143.8 519.8L2144.0 519.8L2144.2 519.7L2144.6 519.5L2144.8 519.4L2145.0 519.2L2145.4 518.8L2145.6 518.5L2145.8 518.3L2146.2 517.9L2146.4 517.6L2146.6 517.3L2147.0 516.7L2147.2 516.3L2147.4 515.9L2147.8 514.9L2148.0 514.4L2148.2 513.8L2148.6 512.4L2148.8 511.7L2149.0 511.1L2149.4 509.7L2149.6 509.0L2149.8 508.3L2150.2 506.9L2150.4 506.1L2150.6 505.4L2151.0 503.8L2151.2 503.1L2151.4 502.4L2151.8 501.2L2152.0 500.6L2152.2 500.1L2152.6 499.1L2152.8 498.7L2153.0 498.4L2153.4 498.1L2153.6 498.1L2153.8 498.0L2154.2 498.0L2154.4 498.1L2154.6 498.3L2155.0 498.7L2155.2 499.0L2155.4 499.3L2155.8 500.2L2156.0 500.6L2156.2 501.1L2156.6 502.2L2156.8 502.7L2157.0 503.5L2157.4 504.9L2157.6 505.6L2157.8 506.1L2158.2 506.9L2158.4 507.3L2158.6 507.6L2159.0 508.3L2159.2 508.6L2159.4 508.7L2159.8 508.8L2160.0 508.8L2160.2 508.8L2160.6 508.9L2160.8 508.9L2161.0 508.7L2161.4 508.4L2161.6 508.2L2161.8 508.2L2162.2 508.3L2162.4 508.3L2162.6 508.3L2163.0 508.3L2163.2 508.3L2163.4 508.5L2163.8 508.9L2164.0 509.1L2164.2 509.2L2164.6 509.5L2164.8 509.7L2165.0 509.9L2165.4 510.5L2165.6 510.8L2165.8 511.2L2166.2 512.1L2166.4 512.6L2166.6 512.9L2167.0 513.5L2167.2 513.8L2167.4 514.3L2167.8 515.1L2168.0 515.5L2168.2 515.8L2168.6 516.4L2168.8 516.7L2169.0 517.1L2169.4 518.0L2169.6 518.4L2169.8 518.7L2170.2 519.1L2170.4 519.3L2170.6 519.5L2171.0 519.9L2171.2 520.1L2171.4 520.1L2171.8 520.1L2172.0 520.1L2172.2 520.2L2172.6 520.4L2172.8 520.4L2173.0 520.4L2173.4 520.3L2173.6 520.2L2173.8 520.3L2174.2 520.4L2174.4 520.5L2174.6 520.5L2175.0 520.4L2175.2 520.4L2175.4 520.4L2175.8 520.2L2176.0 520.1L2176.2 520.0L2176.6 519.9L2176.8 519.8L2177.0 519.8L2177.4 519.8L2177.6 519.8L2177.8 519.9L2178.2 520.3L2178.4 520.4L2178.6 520.4L2179.0 520.4L2179.2 520.4L2179.4 520.5L2179.8 520.6L2180.0 520.7L2180.2 520.8L2180.6 520.8L2180.8 520.8L2181.0 520.8L2181.4 520.9L2181.6 520.9L2181.8 520.8L2182.2 520.7L2182.4 520.7L2182.6 520.6L2183.0 520.3L2183.2 520.2L2183.4 520.2L2183.8 520.3L2184.0 520.3L2184.2 520.2L2184.6 520.0L2184.8 519.8L2185.0 519.8L2185.4 519.8L2185.6 519.8L2185.8 519.8L2186.2 519.8L2186.4 519.8L2186.6 519.9L2187.0 520.2L2187.2 520.3L2187.4 520.4L2187.8 520.5L2188.0 520.5L2188.2 520.5L2188.8 520.4L2189.6 520.2L2190.4 520.9L2191.2 521.2L2192.0 521.3L2192.8 520.8L2193.6 520.8L2194.4 520.5L2195.2 520.8L2196.0 520.6L2196.8 521.2L2197.6 521.4L2198.4 521.7L2199.2 521.4L2200.0 521.2L2200.8 521.2L2201.6 520.9L2202.4 520.6L2203.2 520.5L2204.0 520.6L2204.8 520.8L2205.6 521.0L2206.4 521.3L2207.2 521.3L2208.0 521.3L2208.8 521.1L2209.6 520.9L2210.4 520.6L2211.2 520.3L2212.0 520.6L2212.8 521.1L2213.6 521.6L2214.4 521.0L2215.2 520.5L2216.0 520.4L2216.8 520.5L2217.6 520.7L2218.4 520.3L2219.2 520.6L2220.0 520.6L2220.8 520.8L2221.6 520.9L2222.4 520.9L2223.2 520.7L2224.0 520.4L2224.8 520.6L2225.6 521.0L2226.4 521.0L2227.2 521.0L2228.0 520.9L2228.8 520.6L2229.6 520.5L2230.4 520.4L2231.2 520.6L2232.0 520.6L2232.8 520.9L2233.6 520.7L2234.4 520.5L2235.2 520.5L2236.0 520.8L2236.8 521.0L2237.6 520.9L2238.4 520.5L2239.2 520.5L2240.0 520.5L2240.8 521.0L2241.6 521.0L2242.4 520.9L2243.2 520.9L2244.0 521.3L2244.8 521.7L2245.6 521.3L2246.4 521.1L2247.2 521.4L2248.0 521.7L2248.8 521.7L2249.6 521.1L2250.4 520.9L2251.2 520.9L2252.0 520.7L2252.8 520.6L2253.6 520.5L2254.4 520.4L2255.2 520.6L2256.0 520.7L2256.8 521.0L2257.6 521.2L2258.4 521.1L2259.2 521.3L2260.0 521.2L2260.8 521.1L2261.6 521.3L2262.4 521.2L2263.2 521.2L2264.0 520.7L2264.8 520.7L2265.6 520.7L2266.4 520.7L2267.2 521.0L2268.0 520.9L2268.8 520.7L2269.6 520.8L2270.4 521.1L2271.2 521.5L2272.0 521.0L2272.8 521.0L2273.6 521.0L2274.4 520.9L2275.2 520.7L2276.0 520.4L2276.8 520.7L2277.6 520.8L2278.4 520.8L2279.2 520.7L2280.0 520.6L2280.8 520.7L2281.6 520.8L2282.4 520.5L2283.2 520.6L2284.0 520.8L2284.8 521.2L2285.6 521.3L2286.4 520.5L2287.2 520.4L2287.8 520.4"/>
<path class="cv" stroke="#ff0000" stroke-width="11.6" d="M259.2 930.6L260.0 930.6L260.8 930.6L261.6 930.5L262.4 931.1L263.2 931.3L264.0 931.5L264.8 931.5L265.6 931.4L266.4 931.1L267.2 931.3L268.0 931.5L268.8 931.9L269.6 932.1L270.4 932.1L271.2 931.8L272.0 931.7L272.8 931.1L273.6 931.3L274.4 931.2L275.2 931.3L276.0 930.9L276.8 931.1L277.6 930.8L278.4 931.0L279.2 930.6L280.0 930.8L280.8 930.7L281.6 931.1L282.4 931.0L283.2 930.4L284.0 930.1L284.8 929.7L285.6 929.8L286.4 929.6L287.2 929.6L288.0 929.4L288.8 929.3L289.6 929.4L290.4 929.4L291.2 929.1L292.0 928.4L292.8 928.4L293.6 928.6L294.4 928.9L295.2 929.1L296.0 928.6L296.8 928.4L297.6 928.2L298.4 928.5L299.2 928.4L300.0 928.4L300.8 928.0L301.6 928.4L302.4 928.4L303.2 928.8L304.0 928.9L304.8 928.4L305.6 928.1L306.4 928.1L307.2 928.6L308.0 929.4L308.8 929.2L309.6 929.3L310.4 929.2L311.2 929.6L312.0 929.9L312.8 929.9L313.6 930.0L314.4 930.4L315.2 930.6L316.0 930.8L316.8 930.5L317.6 930.6L318.4 930.5L319.2 931.1L320.0 931.2L320.8 931.4L321.6 931.3L322.4 931.3L323.2 931.3L324.0 931.5L324.8 931.3L325.6 931.1L326.4 931.0L327.2 931.0L328.0 931.4L328.8 931.6L329.6 931.7L330.4 931.3L331.2 931.0L332.0 931.3L332.8 931.6L333.6 931.7L334.4 931.5L335.2 931.5L336.0 931.7L336.8 931.9L337.6 932.3L338.4 931.7L339.2 931.4L340.0 931.2L340.8 931.5L341.6 931.4L342.4 931.1L343.2 931.1L344.0 931.2L344.8 930.9L345.6 930.7L346.4 930.8L347.2 931.2L348.0 931.2L348.8 931.0L349.6 930.9L350.4 930.9L351.2 930.9L352.0 930.7L352.8 930.4L353.6 930.0L354.4 929.9L355.2 929.2L356.0 928.7L356.8 928.5L357.6 928.5L358.4 928.9L359.2 928.9L360.0 929.4L360.8 929.7L361.6 929.9L362.4 930.4L363.2 930.5L364.0 931.0L364.8 931.1L365.6 931.4L366.4 931.3L367.2 931.2L368.0 931.1L368.8 931.3L369.6 931.4L370.4 931.3L371.2 931.4L372.0 931.1L372.8 931.2L373.6 931.1L374.4 931.3L375.2 931.4L376.0 931.4L376.8 931.4L377.6 931.3L378.4 931.7L379.2 932.1L380.0 932.0L380.8 931.8L381.6 931.5L382.4 931.6L383.2 931.6L384.0 931.2L384.8 931.2L385.6 931.0L386.4 931.5L387.2 931.4L388.0 931.2L388.8 930.7L389.6 930.7L390.4 931.0L391.2 931.5L392.0 931.4L392.8 931.4L393.6 931.2L394.4 931.5L395.2 931.2L396.0 931.1L396.8 931.3L397.6 931.5L398.4 931.9L399.2 931.6L400.0 931.5L400.8 931.5L401.6 931.4L402.4 931.4L403.2 931.3L404.0 931.6L404.8 931.7L405.6 931.5L406.4 931.3L407.2 931.3L408.0 931.3L408.8 931.8L409.6 931.8L410.4 931.7L411.2 931.0L412.0 930.8L412.8 931.1L413.6 931.6L414.4 931.9L415.2 931.2L416.0 930.9L416.8 930.9L417.6 931.7L418.4 931.7L419.2 931.7L420.0 931.2L420.8 931.2L421.6 931.6L422.4 931.7L423.2 931.6L424.0 931.3L424.8 931.5L425.6 931.8L426.4 932.0L427.2 931.3L428.0 930.8L428.8 930.7L429.6 930.9L430.4 931.3L431.2 931.3L432.0 931.7L432.8 931.6L433.6 931.3L434.4 930.8L435.2 930.6L436.0 930.8L436.8 931.1L437.6 931.3L438.4 931.2L439.2 931.4L440.0 931.3L440.8 931.3L441.6 931.0L442.4 931.2L443.2 931.2L444.0 931.3L444.8 931.3L445.6 931.8L446.4 931.9L447.2 931.6L448.0 931.3L448.8 930.7L449.6 930.8L450.4 930.9L451.2 931.3L452.0 931.3L452.8 931.1L453.6 931.1L454.4 931.1L455.2 930.7L456.0 930.5L456.8 930.5L457.6 931.2L458.4 931.7L459.2 931.7L460.0 931.7L460.8 931.3L461.6 931.5L462.4 931.2L463.2 931.0L464.0 931.1L464.8 931.5L465.6 931.6L466.4 931.2L467.2 930.9L468.0 930.8L468.8 931.4L469.6 931.6L470.4 931.5L471.2 931.2L472.0 931.1L472.8 931.1L473.6 931.0L474.4 931.0L475.2 931.2L476.0 931.7L476.8 931.6L477.6 931.5L478.4 931.3L479.2 931.1L480.0 931.2L480.8 931.2L481.6 931.3L482.4 931.4L483.2 931.7L484.0 931.9L484.8 931.6L485.6 931.3L486.4 931.3L487.2 931.8L488.0 931.4L488.8 931.7L489.6 931.5L490.4 931.8L491.2 931.1L492.0 930.9L492.8 931.0L493.6 931.7L494.4 931.7L495.2 931.8L496.0 931.7L496.8 931.6L497.6 931.1L498.4 931.2L499.2 931.0L500.0 931.6L500.8 931.0L501.6 931.4L502.4 931.1L503.2 931.5L504.0 931.4L504.8 931.3L505.6 931.3L506.4 931.5L507.2 931.6L508.0 931.5L508.8 931.4L509.6 931.5L510.4 931.8L511.2 931.6L512.0 931.4L512.8 931.3L513.6 931.2L514.4 931.3L515.2 931.1L516.0 931.6L516.8 931.4L517.6 931.2L518.4 930.5L519.2 930.8L520.0 931.0L520.8 931.2L521.6 931.0L522.4 931.1L523.2 931.2L524.0 931.2L524.8 930.9L525.6 931.0L526.4 930.9L527.2 931.3L528.0 931.2L528.8 931.6L529.6 931.3L530.4 931.3L531.2 930.8L532.0 930.7L532.8 930.8L533.6 930.8L534.4 930.8L535.2 931.2L536.0 931.6L536.8 931.9L537.6 931.6L538.4 931.7L539.2 931.5L540.0 931.3L540.8 930.7L541.6 930.9L542.4 930.9L543.2 931.4L544.0 931.1L544.8 930.9L545.6 930.5L546.4 930.5L547.2 930.8L548.0 930.9L548.8 931.2L549.6 931.2L550.4 931.5L551.2 930.9L552.0 931.0L552.8 931.1L553.6 931.4L554.4 931.1L555.2 930.8L556.0 930.7L556.8 931.1L557.6 931.3L558.4 931.2L559.2 931.0L560.0 931.0L560.8 931.3L561.6 931.1L562.4 930.7L563.2 930.5L564.0 930.9L564.8 930.9L565.6 931.1L566.4 930.9L567.2 931.2L568.0 931.0L568.8 931.1L569.6 930.9L570.4 930.8L571.2 931.0L572.0 931.4L572.8 931.2L573.6 931.0L574.4 931.1L575.2 931.2L576.0 931.0L576.8 930.8L577.6 930.9L578.4 931.0L579.2 931.0L580.0 931.0L580.8 931.0L581.6 930.8L582.4 931.1L583.2 930.6L584.0 930.9L584.8 930.6L585.6 931.2L586.4 931.1L587.2 931.3L588.0 930.9L588.8 931.1L589.6 931.0L590.4 930.7L591.2 930.6L592.0 930.4L592.8 930.5L593.6 930.1L594.4 929.6L595.2 928.7L596.0 928.1L596.8 927.3L597.6 926.6L598.4 925.8L599.2 924.9L600.0 924.4L600.8 924.3L601.6 924.3L602.4 924.5L603.2 924.7L604.0 925.4L604.8 926.1L605.6 927.1L606.4 927.7L607.2 928.7L608.0 929.1L608.8 929.9L609.6 930.0L610.4 930.5L611.2 930.4L612.0 930.4L612.8 930.4L613.6 930.5L614.4 930.4L615.2 930.2L616.0 929.6L616.8 929.3L617.6 929.0L618.4 928.9L619.2 928.5L620.0 928.2L620.8 928.1L621.6 928.2L622.4 927.8L623.2 927.4L624.0 927.2L624.8 927.7L625.6 928.6L626.4 929.2L627.2 929.4L628.0 929.5L628.8 929.6L629.6 930.0L630.4 930.0L631.2 930.2L632.0 930.0L632.8 930.0L633.6 929.9L634.4 930.1L635.2 930.1L636.0 930.3L636.8 930.2L637.6 930.1L638.4 929.8L639.2 929.9L640.0 929.9L640.8 930.0L641.6 929.9L642.4 929.7L643.2 929.6L644.0 929.4L644.4 929.2L644.8 928.9L645.2 928.9L645.6 928.9L646.0 928.7L646.4 928.6L646.8 928.8L647.2 929.1L647.6 928.9L648.0 928.7L648.4 928.6L648.8 928.5L649.2 928.3L649.6 928.0L650.0 928.2L650.4 928.4L650.8 928.4L651.2 928.3L651.6 928.3L652.0 928.3L652.4 927.9L652.8 927.6L653.2 927.5L653.6 927.4L654.0 927.2L654.4 927.0L654.8 926.9L655.2 926.7L655.6 926.2L656.0 925.7L656.4 924.9L656.8 924.0L657.2 923.1L657.6 921.8L658.0 920.2L658.4 918.0L658.8 915.1L659.2 911.5L659.6 906.8L660.0 901.1L660.4 894.4L660.8 886.4L661.2 877.4L661.6 867.2L662.0 855.6L662.4 842.9L662.8 829.5L663.2 815.4L663.6 801.1L664.0 786.9L664.4 773.1L664.8 760.1L665.2 748.3L665.6 738.2L666.0 729.8L666.4 723.5L666.8 720.0L667.2 718.9L667.6 720.2L668.0 724.0L668.4 729.8L668.8 737.6L669.2 747.0L669.6 757.8L670.0 769.7L670.4 782.5L670.8 796.0L671.2 809.6L671.6 822.7L672.0 835.3L672.4 847.2L672.8 858.3L673.2 868.3L673.6 877.4L674.0 885.9L674.4 893.3L674.8 899.6L675.2 905.0L675.6 909.7L676.0 913.5L676.4 916.5L676.8 918.8L677.2 920.9L677.6 922.6L678.0 923.7L678.4 924.5L678.8 925.4L679.2 926.1L679.6 926.4L680.0 926.7L680.4 927.0L680.8 927.3L681.2 927.4L681.6 927.5L682.0 927.7L682.4 927.9L682.8 928.0L683.2 928.0L683.6 928.0L684.0 928.0L684.4 928.0L684.8 928.0L685.2 928.3L685.6 928.5L686.0 928.8L686.4 929.0L686.8 929.3L687.2 929.6L687.6 929.5L688.0 929.5L688.4 929.7L688.8 929.8L689.2 929.7L689.6 929.5L690.0 929.6L690.4 929.7L690.8 929.5L691.2 929.4L691.6 929.4L692.0 929.4L692.4 929.4L692.8 929.5L693.2 929.5L693.6 929.4L694.4 929.7L695.2 929.3L696.0 929.7L696.8 929.8L697.6 930.2L698.4 929.9L699.2 929.8L700.0 929.7L700.8 930.3L701.6 930.4L702.4 930.5L703.2 930.3L704.0 930.5L704.8 930.8L705.6 930.5L706.4 930.6L707.2 930.2L708.0 930.4L708.8 930.2L709.6 930.3L710.4 930.3L711.2 930.4L712.0 930.5L712.8 930.6L713.6 930.5L714.4 930.6L715.2 931.1L716.0 931.2L716.8 931.4L717.6 930.7L718.4 930.5L719.2 930.2L720.0 930.4L720.8 931.0L721.6 931.1L722.4 931.3L723.2 930.6L724.0 930.8L724.8 930.3L725.6 930.7L726.4 930.8L727.2 930.9L728.0 930.9L728.8 930.5L729.6 930.6L730.4 930.9L731.2 931.0L732.0 931.2L732.8 930.7L733.6 930.7L734.4 930.6L735.2 931.1L736.0 931.0L736.8 931.3L737.6 931.1L738.4 931.1L739.2 930.8L740.0 930.9L740.8 930.8L741.6 931.0L742.4 930.8L743.2 931.0L744.0 930.7L744.8 931.0L745.6 931.1L746.4 931.1L747.2 931.1L748.0 930.8L748.8 930.9L749.6 931.0L750.4 931.2L751.2 931.4L752.0 931.2L752.8 931.4L753.6 931.3L754.4 931.2L755.2 931.1L756.0 931.2L756.8 931.2L757.6 931.3L758.4 931.3L759.2 931.2L760.0 930.7L760.8 930.9L761.6 931.2L762.4 931.4L763.2 931.1L764.0 930.8L764.8 930.8L765.6 930.7L766.4 931.0L767.2 930.7L768.0 930.8L768.8 930.9L769.6 931.3L770.4 931.6L771.2 931.6L772.0 931.6L772.8 931.1L773.6 930.8L774.4 930.9L775.2 931.1L776.0 931.2L776.8 930.9L777.6 930.6L778.4 930.7L779.2 931.1L780.0 931.3L780.8 931.6L781.6 931.5L782.4 931.2L783.2 930.6L784.0 930.6L784.8 930.7L785.6 930.7L786.4 930.9L787.2 931.2L788.0 931.6L788.8 931.8L789.6 931.4L790.4 931.3L791.2 931.0L792.0 931.1L792.8 931.0L793.6 930.9L794.4 931.1L795.2 931.1L796.0 931.2L796.8 930.9L797.6 931.2L798.4 931.1L799.2 931.4L800.0 931.2L800.8 931.3L801.6 930.8L802.4 931.0L803.2 931.1L804.0 931.1L804.8 931.4L805.6 931.1L806.4 931.2L807.2 930.9L808.0 931.0L808.8 931.1L809.6 931.1L810.4 931.0L811.2 931.1L812.0 930.9L812.8 931.1L813.6 931.0L814.4 931.2L815.2 931.1L816.0 931.0L816.8 930.6L817.6 930.5L818.4 930.5L819.2 930.6L820.0 931.1L820.8 930.7L821.6 931.1L822.4 930.9L823.2 931.0L824.0 931.1L824.8 931.0L825.6 931.1L826.4 931.2L827.2 931.0L828.0 930.9L828.8 930.6L829.6 930.3L830.4 930.6L831.2 930.2L832.0 930.4L832.8 930.2L833.6 930.5L834.4 930.7L835.2 930.5L836.0 930.7L836.8 930.5L837.6 930.5L838.4 930.2L839.2 930.0L840.0 930.2L840.8 930.5L841.6 930.5L842.4 930.4L843.2 929.9L844.0 930.3L844.8 930.2L845.6 930.3L846.4 930.0L847.2 930.2L848.0 930.2L848.8 929.9L849.6 929.7L850.4 929.8L851.2 930.1L852.0 930.1L852.8 930.1L853.6 929.3L854.4 929.1L855.2 928.4L856.0 928.7L856.8 928.6L857.6 928.6L858.4 928.4L858.8 928.1L859.2 927.9L859.6 927.8L860.0 927.7L860.4 927.8L860.8 928.0L861.2 928.1L861.6 928.2L862.0 928.2L862.4 928.2L862.8 927.9L863.2 927.6L863.6 927.5L864.0 927.4L864.4 927.3L864.8 927.1L865.2 927.0L865.6 926.9L866.0 926.7L866.4 926.4L866.8 926.4L867.2 926.3L867.6 926.3L868.0 926.3L868.4 926.1L868.8 925.8L869.2 925.5L869.6 925.1L870.0 924.4L870.4 923.6L870.8 922.7L871.2 921.5L871.6 919.8L872.0 917.6L872.4 914.8L872.8 911.2L873.2 906.6L873.6 901.0L874.0 894.0L874.4 885.7L874.8 876.2L875.2 865.2L875.6 852.6L876.0 838.7L876.4 823.9L876.8 808.1L877.2 791.5L877.6 774.5L878.0 758.2L878.4 742.4L878.8 727.5L879.2 714.1L879.6 702.7L880.0 693.5L880.4 686.4L880.8 682.0L881.2 680.4L881.6 681.5L882.0 685.1L882.4 691.1L882.8 699.3L883.2 709.4L883.6 720.9L884.0 733.7L884.4 747.2L884.8 761.3L885.2 775.6L885.6 789.9L886.0 804.2L886.4 818.0L886.8 831.2L887.2 843.6L887.6 855.5L888.0 866.4L888.4 875.9L888.8 884.4L889.2 891.8L889.6 898.2L890.0 903.5L890.4 908.0L890.8 912.0L891.2 915.2L891.6 917.8L892.0 919.9L892.4 921.6L892.8 923.1L893.2 923.8L893.6 924.4L894.0 925.2L894.4 925.9L894.8 926.0L895.2 926.1L895.6 926.5L896.0 926.9L896.4 926.9L896.8 926.8L897.2 926.9L897.6 927.1L898.0 927.2L898.4 927.2L898.8 927.5L899.2 927.7L899.6 927.7L900.0 927.6L900.4 927.5L900.8 927.4L901.2 927.5L901.6 927.5L902.0 927.8L902.4 928.0L902.8 928.1L903.2 928.1L903.6 928.2L904.0 928.3L904.4 928.4L904.8 928.5L905.2 928.5L905.6 928.5L906.0 928.8L906.4 929.0L906.8 928.9L907.2 928.9L907.6 929.0L908.0 929.1L908.8 928.8L909.6 928.9L910.4 929.1L911.2 929.4L912.0 929.6L912.8 929.8L913.6 929.5L914.4 929.5L915.2 929.5L916.0 929.5L916.8 929.4L917.6 929.7L918.4 929.5L919.2 929.7L920.0 929.6L920.8 929.8L921.6 930.4L922.4 930.6L923.2 930.9L924.0 930.6L924.8 930.6L925.6 930.7L926.4 930.4L927.2 930.2L928.0 930.0L928.8 930.1L929.6 930.2L930.4 930.3L931.2 930.6L932.0 930.6L932.8 930.5L933.6 930.4L934.4 930.5L935.2 930.6L936.0 930.5L936.8 930.5L937.6 930.9L938.4 930.9L939.2 931.2L940.0 930.8L940.8 930.9L941.6 930.7L942.4 931.1L943.2 930.9L944.0 930.9L944.8 930.8L945.6 931.3L946.4 930.9L947.2 931.0L948.0 930.8L948.8 930.9L949.6 930.7L950.4 931.0L951.2 931.2L952.0 931.1L952.8 930.7L953.6 930.8L954.4 930.9L955.2 930.7L956.0 930.8L956.8 931.1L957.6 931.3L958.4 931.2L959.2 931.4L960.0 931.4L960.8 931.2L961.6 931.2L962.4 930.9L963.2 931.0L964.0 930.6L964.8 930.6L965.6 930.8L966.4 931.2L967.2 931.1L968.0 930.9L968.8 930.4L969.6 930.3L970.4 930.2L971.2 929.9L972.0 929.6L972.8 928.9L973.6 928.2L974.4 927.2L975.2 925.9L976.0 924.3L976.8 923.1L977.6 921.9L978.4 921.4L979.2 921.0L980.0 921.1L980.8 921.3L981.6 921.9L982.4 922.5L983.2 923.1L984.0 924.2L984.8 926.0L985.6 927.6L986.4 928.7L987.2 928.8L988.0 929.1L988.8 929.5L989.6 930.0L990.4 930.5L991.2 930.6L992.0 930.9L992.8 931.2L993.6 931.4L994.4 931.5L995.2 931.5L996.0 931.3L996.8 931.3L997.6 931.3L998.4 931.3L999.2 931.4L1000.0 931.3L1000.8 931.5L1001.6 931.3L1002.4 931.2L1003.2 931.1L1004.0 931.2L1004.8 931.1L1005.6 931.2L1006.4 931.5L1007.2 931.3L1008.0 931.2L1008.8 930.7L1009.6 931.2L1010.4 931.5L1011.2 931.8L1012.0 931.6L1012.8 931.4L1013.6 931.2L1014.4 931.4L1015.2 931.6L1016.0 931.3L1016.8 931.4L1017.6 931.3L1018.4 931.8L1019.2 931.5L1020.0 931.1L1020.8 930.9L1021.6 930.9L1022.4 931.2L1023.2 931.0L1024.0 931.0L1024.8 930.9L1025.6 931.3L1026.4 931.1L1027.2 931.1L1028.0 931.0L1028.8 931.4L1029.6 931.4L1030.4 931.5L1031.2 931.4L1032.0 931.6L1032.8 931.6L1033.6 931.4L1034.4 931.5L1035.2 931.6L1036.0 931.5L1036.8 931.5L1037.6 931.0L1038.4 931.2L1039.2 931.3L1040.0 931.8L1040.8 931.8L1041.6 931.6L1042.4 931.4L1043.2 931.5L1044.0 931.7L1044.8 931.6L1045.6 931.5L1046.4 931.4L1047.2 931.8L1048.0 931.9L1048.8 932.0L1049.6 931.7L1050.4 931.9L1051.2 931.9L1052.0 932.1L1052.8 932.1L1053.6 931.9L1054.4 931.8L1055.2 931.3L1056.0 931.2L1056.8 931.4L1057.6 931.6L1058.4 932.1L1059.2 931.6L1060.0 931.5L1060.8 931.0L1061.6 930.8L1062.4 931.3L1063.2 931.5L1064.0 932.0L1064.8 931.7L1065.6 931.6L1066.4 931.3L1067.2 931.3L1068.0 931.6L1068.8 931.6L1069.6 932.0L1070.4 932.2L1071.2 932.1L1072.0 931.9L1072.8 931.8L1073.6 931.9L1074.4 932.2L1075.2 931.9L1076.0 931.7L1076.8 931.5L1077.6 931.7L1078.4 931.9L1079.2 932.0L1080.0 931.8L1080.8 931.6L1081.6 931.8L1082.4 931.7L1083.2 932.1L1084.0 931.8L1084.8 932.2L1085.6 932.1L1086.4 932.1L1087.2 931.9L1088.0 931.3L1088.8 931.4L1089.6 931.4L1090.4 931.9L1091.2 931.8L1092.0 931.6L1092.8 931.4L1093.6 931.5L1094.4 931.6L1095.2 932.2L1096.0 932.2L1096.8 932.4L1097.6 931.9L1098.4 932.1L1099.2 931.8L1100.0 931.9L1100.8 931.7L1101.6 932.2L1102.4 931.9L1103.2 932.3L1104.0 931.7L1104.8 932.1L1105.6 931.9L1106.4 932.3L1107.2 932.0L1108.0 931.9L1108.8 931.9L1109.6 931.8L1110.4 931.9L1111.2 931.9L1112.0 931.8L1112.8 932.1L1113.6 931.8L1114.4 932.2L1115.2 931.5L1116.0 931.6L1116.8 931.8L1117.6 932.3L1118.4 932.3L1119.2 932.3L1120.0 932.4L1120.8 932.6L1121.6 932.3L1122.4 932.4L1123.2 932.4L1124.0 932.4L1124.8 932.2L1125.6 932.0L1126.4 932.0L1127.2 932.1L1128.0 932.0L1128.8 931.8L1129.6 931.7L1130.4 931.6L1131.2 931.6L1132.0 932.1L1132.8 932.0L1133.6 932.6L1134.4 932.5L1135.2 932.8L1136.0 932.4L1136.8 932.0L1137.6 932.0L1138.4 932.4L1139.2 932.5L1140.0 932.4L1140.8 932.3L1141.6 932.1L1142.4 932.0L1143.2 931.7L1144.0 932.1L1144.8 932.3L1145.6 932.2L1146.4 932.2L1147.2 931.9L1148.0 932.3L1148.8 932.3L1149.6 932.4L1150.4 932.3L1151.2 932.2L1152.0 932.5L1152.8 932.1L1153.6 932.1L1154.4 931.8L1155.2 932.0L1156.0 932.4L1156.8 932.6L1157.6 932.6L1158.4 932.4L1159.2 932.5L1160.0 932.5L1160.8 932.7L1161.6 932.3L1162.4 932.2L1163.2 932.0L1164.0 932.1L1164.8 932.2L1165.6 932.0L1166.4 932.2L1167.2 932.4L1168.0 933.0L1168.8 932.7L1169.6 932.8L1170.4 932.4L1171.2 932.6L1172.0 932.4L1172.8 932.5L1173.6 932.7L1174.4 932.6L1175.2 932.5L1176.0 932.3L1176.8 932.6L1177.6 932.4L1178.4 932.5L1179.2 932.1L1180.0 932.2L1180.8 932.1L1181.6 932.5L1182.4 932.8L1183.2 933.0L1184.0 933.0L1184.8 933.0L1185.6 933.2L1186.4 933.0L1187.2 932.9L1188.0 932.4L1188.8 932.5L1189.6 932.2L1190.4 932.4L1191.2 932.4L1192.0 932.7L1192.8 932.4L1193.6 932.2L1194.4 932.1L1195.2 932.4L1196.0 932.7L1196.8 933.0L1197.6 933.0L1198.4 933.0L1199.2 932.5L1200.0 932.5L1200.8 932.2L1201.6 932.5L1202.4 932.5L1203.2 932.6L1204.0 933.0L1204.8 933.3L1205.6 933.1L1206.4 932.6L1207.2 932.2L1208.0 932.6L1208.8 932.6L1209.6 932.7L1210.4 932.7L1211.2 932.7L1212.0 932.7L1212.8 932.5L1213.6 932.8L1214.4 932.9L1215.2 932.7L1216.0 932.6L1216.8 932.4L1217.6 932.7L1218.4 932.7L1219.2 932.5L1220.0 932.4L1220.8 932.6L1221.6 932.8L1222.4 933.1L1223.2 933.1L1224.0 933.5L1224.8 933.1L1225.6 933.1L1226.4 932.8L1227.2 933.1L1228.0 932.6L1228.8 932.6L1229.6 932.6L1230.4 933.2L1231.2 933.4L1232.0 933.6L1232.8 933.1L1233.6 933.1L1234.4 932.5L1235.2 932.8L1236.0 932.9L1236.8 933.0L1237.6 933.1L1238.4 932.9L1239.2 933.0L1240.0 933.0L1240.8 933.2L1241.6 933.1L1242.4 932.7L1243.2 932.5L1244.0 932.7L1244.8 933.1L1245.6 933.3L1246.4 933.5L1247.2 933.2L1248.0 933.0L1248.8 932.7L1249.6 932.6L1250.4 932.6L1251.2 932.5L1252.0 932.7L1252.8 932.8L1253.6 932.7L1254.4 932.8L1255.2 932.6L1256.0 932.6L1256.8 932.4L1257.6 932.4L1258.4 932.3L1259.2 932.4L1260.0 932.7L1260.8 932.9L1261.6 933.1L1262.4 932.8L1263.2 932.9L1264.0 932.8L1264.8 933.1L1265.6 933.0L1266.4 933.2L1267.2 933.4L1268.0 933.1L1268.8 933.0L1269.6 932.6L1270.4 932.9L1271.2 933.3L1272.0 933.1L1272.8 932.8L1273.6 932.3L1274.4 932.5L1275.2 932.7L1276.0 932.5L1276.8 932.4L1277.6 932.4L1278.4 932.6L1279.2 932.6L1280.0 933.0L1280.8 933.0L1281.6 932.9L1282.4 932.4L1283.2 932.3L1284.0 932.4L1284.8 932.7L1285.6 932.6L1286.4 932.8L1287.2 932.9L1288.0 932.8L1288.8 932.8L1289.6 932.5L1290.4 933.0L1291.2 933.0L1292.0 933.0L1292.8 932.7L1293.6 932.6L1294.4 932.6L1295.2 932.5L1296.0 932.4L1296.8 932.3L1297.6 932.6L1298.4 932.8L1299.2 932.7L1300.0 932.4L1300.8 932.5L1301.6 932.7L1302.4 932.9L1303.2 932.8L1304.0 933.2L1304.8 933.5L1305.6 933.7L1306.4 933.6L1307.2 933.4L1308.0 933.4L1308.8 933.2L1309.6 933.0L1310.4 932.6L1311.2 932.6L1312.0 932.6L1312.8 932.9L1313.6 932.9L1314.4 933.1L1315.2 933.3L1316.0 933.0L1316.8 933.0L1317.6 932.9L1318.4 933.3L1319.2 933.3L1320.0 933.4L1320.8 933.4L1321.6 933.5L1322.4 933.6L1323.2 933.1L1324.0 932.7L1324.8 932.4L1325.6 932.5L1326.4 932.5L1327.2 932.5L1328.0 932.8L1328.8 932.7L1329.6 932.9L1330.4 932.9L1331.2 933.1L1332.0 932.8L1332.8 932.7L1333.6 932.6L1334.4 932.6L1335.2 932.3L1336.0 932.2L1336.8 932.4L1337.6 932.8L1338.4 932.9L1339.2 932.8L1340.0 932.6L1340.8 932.3L1341.6 932.4L1342.4 932.7L1343.2 933.1L1344.0 933.5L1344.8 933.3L1345.6 933.3L1346.4 932.8L1347.2 933.0L1348.0 932.8L1348.8 932.9L1349.6 932.9L1350.4 932.8L1351.2 932.9L1352.0 932.9L1352.8 933.0L1353.6 933.0L1354.4 933.1L1355.2 933.2L1356.0 933.1L1356.8 933.0L1357.6 932.8L1358.4 932.8L1359.2 933.1L1360.0 932.8L1360.8 932.4L1361.6 932.4L1362.4 933.0L1363.2 933.5L1364.0 933.1L1364.8 933.2L1365.6 932.9L1366.4 933.3L1367.2 933.0L1368.0 933.2L1368.8 933.0L1369.6 933.1L1370.4 932.7L1371.2 932.4L1372.0 932.4L1372.8 932.5L1373.6 932.4L1374.4 932.8L1375.2 932.5L1376.0 932.8L1376.8 932.6L1377.6 932.7L1378.4 932.7L1379.2 932.7L1380.0 932.8L1380.8 932.5L1381.6 932.7L1382.4 932.7L1383.2 932.9L1384.0 932.7L1384.8 932.5L1385.6 932.1L1386.4 932.0L1387.2 932.1L1388.0 932.7L1388.8 932.9L1389.6 933.1L1390.4 932.9L1391.2 932.8L1392.0 932.8L1392.8 932.9L1393.6 933.2L1394.4 933.1L1395.2 933.1L1396.0 932.9L1396.8 932.8L1397.6 932.8L1398.4 932.8L1399.2 933.0L1400.0 932.8L1400.8 932.9L1401.6 932.9L1402.4 932.8L1403.2 932.7L1404.0 932.6L1404.8 932.5L1405.6 932.6L1406.4 932.9L1407.2 932.8L1408.0 932.8L1408.8 932.7L1409.6 932.7L1410.4 932.5L1411.2 932.4L1412.0 933.2L1412.8 933.2L1413.6 933.3L1414.4 932.9L1415.2 933.2L1416.0 933.0L1416.8 932.9L1417.6 932.5L1418.4 932.6L1419.2 933.3L1420.0 933.5L1420.8 933.4L1421.6 933.2L1422.4 933.3L1423.2 933.0L1424.0 932.6L1424.8 932.5L1425.6 932.9L1426.4 933.3L1427.2 933.3L1428.0 933.1L1428.8 932.9L1429.6 932.5L1430.4 932.5L1431.2 932.6L1432.0 932.5L1432.8 932.4L1433.6 932.4L1434.4 933.0L1435.2 933.1L1436.0 933.2L1436.8 932.9L1437.6 932.6L1438.4 932.7L1439.2 932.4L1440.0 932.8L1440.8 932.4L1441.6 932.9L1442.4 932.7L1443.2 933.3L1444.0 933.4L1444.8 933.8L1445.6 933.4L1446.4 933.2L1447.2 933.2L1448.0 933.2L1448.8 933.3L1449.6 933.1L1450.4 933.2L1451.2 933.0L1452.0 932.8L1452.8 932.7L1453.6 932.7L1454.4 932.5L1455.2 932.7L1456.0 932.7L1456.8 933.2L1457.6 933.1L1458.4 933.5L1459.2 933.4L1460.0 933.0L1460.8 932.7L1461.6 932.2L1462.4 932.5L1463.2 932.3L1464.0 933.1L1464.8 932.8L1465.6 932.9L1466.4 932.3L1467.2 932.6L1468.0 932.9L1468.8 933.0L1469.6 932.5L1470.4 932.2L1471.2 932.2L1472.0 932.9L1472.8 932.9L1473.6 933.0L1474.4 932.5L1475.2 933.0L1476.0 933.0L1476.8 933.2L1477.6 932.8L1478.4 932.4L1479.2 932.5L1480.0 932.6L1480.8 932.6L1481.6 932.7L1482.4 932.8L1483.2 932.9L1484.0 932.6L1484.8 932.4L1485.6 932.3L1486.4 932.4L1487.2 932.4L1488.0 932.6L1488.8 932.8L1489.6 932.9L1490.4 932.3L1491.2 932.2L1492.0 932.5L1492.8 932.8L1493.6 932.8L1494.4 932.9L1495.2 932.8L1496.0 932.4L1496.8 932.3L1497.6 932.3L1498.4 932.5L1499.2 932.4L1500.0 932.8L1500.8 933.0L1501.6 933.0L1502.4 932.8L1503.2 932.8L1504.0 932.7L1504.8 932.4L1505.6 932.2L1506.4 932.4L1507.2 932.4L1508.0 932.6L1508.8 932.4L1509.6 932.3L1510.4 932.3L1511.2 932.5L1512.0 933.0L1512.8 932.6L1513.6 932.4L1514.4 932.1L1515.2 932.5L1516.0 932.3L1516.8 932.7L1517.6 932.4L1518.4 932.4L1519.2 931.7L1520.0 931.8L1520.8 932.0L1521.6 932.3L1522.4 932.5L1523.2 932.5L1524.0 932.6L1524.8 932.5L1525.6 932.7L1526.4 932.6L1527.2 932.5L1528.0 932.1L1528.8 932.0L1529.6 932.0L1530.4 932.3L1531.2 932.1L1532.0 932.3L1532.8 932.5L1533.6 932.9L1534.4 932.9L1535.2 932.7L1536.0 932.2L1536.8 931.9L1537.6 931.8L1538.4 932.3L1539.2 932.5L1540.0 932.6L1540.8 931.8L1541.6 931.4L1542.4 931.1L1543.2 931.8L1544.0 932.1L1544.8 932.3L1545.6 932.0L1546.4 932.2L1547.2 931.9L1548.0 931.9L1548.8 932.0L1549.6 932.1L1549.7 932.1L1550.1 931.9L1550.4 931.8L1550.5 931.7L1550.9 931.5L1551.2 931.3L1551.3 931.2L1551.7 931.1L1552.0 931.0L1552.1 931.1L1552.5 931.3L1552.8 931.4L1552.9 931.4L1553.3 931.4L1553.6 931.3L1553.7 931.3L1554.1 931.3L1554.4 931.3L1554.5 931.3L1554.9 931.1L1555.2 930.9L1555.3 931.0L1555.7 931.1L1556.0 931.2L1556.1 931.3L1556.5 931.4L1556.8 931.4L1556.9 931.4L1557.3 931.2L1557.6 931.1L1557.7 931.1L1558.1 930.8L1558.4 930.6L1558.5 930.6L1558.9 930.3L1559.2 930.1L1559.3 930.0L1559.7 930.0L1560.0 929.9L1560.1 929.9L1560.5 929.9L1560.8 929.9L1560.9 929.9L1561.3 929.9L1561.6 929.8L1561.7 929.8L1562.1 929.9L1562.4 929.8L1562.5 929.7L1562.9 929.1L1563.2 928.5L1563.3 928.4L1563.7 927.5L1564.0 926.8L1564.1 926.5L1564.5 925.1L1564.8 923.9L1564.9 923.5L1565.3 921.8L1565.6 920.2L1565.7 919.5L1566.1 916.7L1566.4 914.2L1566.5 913.2L1566.9 909.0L1567.2 905.4L1567.3 904.2L1567.7 899.0L1568.0 894.8L1568.1 893.3L1568.5 887.2L1568.8 882.4L1568.9 880.7L1569.3 873.8L1569.6 868.5L1569.7 866.7L1570.1 859.4L1570.4 854.1L1570.5 852.3L1570.9 845.3L1571.2 840.4L1571.3 839.0L1571.7 833.6L1572.0 830.2L1572.1 829.1L1572.5 825.5L1572.8 823.4L1572.9 823.0L1573.3 821.8L1573.6 821.5L1573.7 821.5L1574.1 822.0L1574.4 822.9L1574.5 823.3L1574.9 825.4L1575.2 827.4L1575.3 828.0L1575.7 830.9L1576.0 833.3L1576.1 834.1L1576.5 837.6L1576.8 840.3L1576.9 841.3L1577.3 845.0L1577.6 847.9L1577.7 848.9L1578.1 852.8L1578.4 855.8L1578.5 856.8L1578.9 860.7L1579.2 863.7L1579.3 864.8L1579.7 868.9L1580.0 872.0L1580.1 873.0L1580.5 877.2L1580.8 880.3L1580.9 881.5L1581.3 886.0L1581.6 889.5L1581.7 890.6L1582.1 895.0L1582.4 898.3L1582.5 899.4L1582.9 903.7L1583.2 906.8L1583.3 907.7L1583.7 911.2L1584.0 913.6L1584.1 914.3L1584.5 917.0L1584.8 918.9L1584.9 919.4L1585.3 921.3L1585.6 922.4L1585.7 922.9L1586.1 924.5L1586.4 925.5L1586.5 925.8L1586.9 927.0L1587.2 927.8L1587.3 928.0L1587.7 928.8L1588.0 929.4L1588.1 929.5L1588.5 929.8L1588.8 930.0L1588.9 930.1L1589.3 930.1L1589.6 930.2L1589.7 930.2L1590.1 930.4L1590.4 930.5L1590.5 930.6L1590.9 930.7L1591.2 930.8L1591.3 930.8L1591.7 931.0L1592.0 931.1L1592.1 931.1L1592.5 931.0L1592.8 931.0L1592.9 931.1L1593.3 931.2L1593.6 931.4L1593.7 931.4L1594.1 931.3L1594.4 931.3L1594.5 931.4L1594.9 931.6L1595.2 931.7L1595.3 931.7L1595.7 931.5L1596.0 931.3L1596.1 931.3L1596.5 931.5L1596.8 931.6L1596.9 931.5L1597.3 931.4L1597.6 931.3L1597.7 931.3L1598.1 931.5L1598.4 931.7L1598.5 931.7L1598.9 931.6L1599.2 931.5L1599.3 931.5L1599.7 931.6L1600.0 931.6L1600.1 931.6L1600.5 931.7L1600.8 931.8L1600.9 931.8L1601.3 931.7L1601.6 931.7L1601.7 931.7L1602.1 931.8L1602.4 931.9L1602.5 931.8L1602.9 931.8L1603.2 931.8L1603.3 931.8L1603.7 931.9L1604.0 932.0L1604.8 932.4L1605.6 932.5L1606.4 932.4L1607.2 932.1L1608.0 931.8L1608.8 931.9L1609.6 931.8L1610.4 931.8L1611.2 931.8L1612.0 931.9L1612.8 932.2L1613.6 932.2L1614.4 931.9L1615.2 931.9L1616.0 931.9L1616.8 932.3L1617.6 932.2L1618.4 932.1L1619.2 932.3L1620.0 932.0L1620.8 932.3L1621.6 932.4L1622.4 933.2L1623.2 933.1L1624.0 932.5L1624.8 932.1L1625.6 932.2L1626.4 932.1L1627.2 932.4L1628.0 932.3L1628.8 932.6L1629.6 932.3L1630.4 932.3L1631.2 932.6L1632.0 932.4L1632.8 932.4L1633.6 932.1L1634.4 932.6L1635.2 932.9L1636.0 932.7L1636.8 932.6L1637.6 932.3L1638.4 932.8L1639.2 932.9L1640.0 932.8L1640.8 932.7L1641.6 932.6L1642.4 932.6L1643.2 932.9L1644.0 932.8L1644.8 932.7L1645.6 932.6L1646.4 932.7L1647.2 932.8L1648.0 933.0L1648.8 932.9L1649.6 933.0L1650.4 932.6L1651.2 932.2L1652.0 932.2L1652.8 932.5L1653.6 932.8L1654.4 932.8L1655.2 932.7L1656.0 932.8L1656.8 932.9L1657.6 932.7L1658.4 932.7L1659.2 932.6L1660.0 932.6L1660.8 932.3L1661.6 932.2L1662.4 932.2L1663.2 932.1L1664.0 932.3L1664.8 932.2L1665.6 932.4L1666.4 932.5L1667.2 932.9L1668.0 932.9L1668.8 933.1L1669.6 933.3L1670.4 933.1L1671.2 932.6L1672.0 932.2L1672.8 932.2L1673.6 932.5L1674.4 932.9L1675.2 932.9L1676.0 933.0L1676.8 933.0L1677.6 933.2L1678.4 933.1L1679.2 932.9L1680.0 932.9L1680.8 932.7L1681.6 932.7L1682.4 932.6L1683.2 932.6L1684.0 932.5L1684.8 932.5L1685.6 932.6L1686.4 932.9L1687.2 932.9L1688.0 932.9L1688.8 932.6L1689.6 932.9L1690.4 932.8L1691.2 932.8L1692.0 932.6L1692.8 932.7L1693.6 932.6L1694.4 932.4L1695.2 932.2L1696.0 932.6L1696.8 932.4L1697.6 932.3L1698.4 932.4L1699.2 932.8L1700.0 933.6L1700.8 933.4L1701.6 933.2L1702.4 932.4L1703.2 932.4L1704.0 932.3L1704.8 932.7L1705.6 932.9L1706.4 933.3L1707.2 933.3L1708.0 933.0L1708.8 932.7L1709.6 932.8L1710.4 932.8L1711.2 932.8L1712.0 932.7L1712.8 933.2L1713.6 933.0L1714.4 932.9L1715.2 932.7L1716.0 932.7L1716.8 933.0L1717.6 933.1L1718.4 932.9L1719.2 932.7L1720.0 932.6L1720.8 932.7L1721.6 932.5L1722.4 932.5L1723.2 932.9L1724.0 933.1L1724.8 933.1L1725.6 932.8L1726.4 933.0L1727.2 933.0L1728.0 933.1L1728.8 932.7L1729.6 932.6L1730.4 932.6L1731.2 932.7L1732.0 932.9L1732.8 932.5L1733.6 932.9L1734.4 932.7L1735.2 933.3L1736.0 932.9L1736.8 932.8L1737.6 932.4L1738.4 932.6L1739.2 932.9L1740.0 933.3L1740.8 933.2L1741.6 932.9L1742.4 932.2L1743.2 932.2L1744.0 932.4L1744.8 932.6L1745.6 932.9L1746.4 932.5L1747.2 932.6L1748.0 932.4L1748.8 932.8L1749.6 932.8L1750.4 932.7L1751.2 932.4L1752.0 932.5L1752.8 932.7L1753.6 933.0L1754.4 933.4L1755.2 933.1L1756.0 932.8L1756.8 932.7L1757.6 932.9L1758.4 932.9L1759.2 932.9L1760.0 933.1L1760.8 932.9L1761.6 932.8L1762.4 932.8L1763.2 933.3L1764.0 933.5L1764.8 933.3L1765.6 933.2L1766.4 932.8L1767.2 932.8L1768.0 932.9L1768.8 933.1L1769.6 933.2L1770.4 933.1L1771.2 933.3L1772.0 933.4L1772.8 933.4L1773.6 933.2L1774.4 932.9L1775.2 932.7L1776.0 932.6L1776.8 932.5L1777.6 932.3L1778.4 932.7L1779.2 932.8L1780.0 932.9L1780.8 932.8L1781.6 932.6L1782.4 932.8L1783.2 932.7L1784.0 932.7L1784.8 932.5L1785.6 932.5L1786.4 933.0L1787.2 932.7L1788.0 932.8L1788.8 932.5L1789.6 932.8L1790.4 932.6L1791.2 932.7L1792.0 932.9L1792.8 933.4L1793.6 932.9L1794.4 932.8L1795.2 932.3L1796.0 932.3L1796.8 932.5L1797.6 932.8L1798.4 933.2L1799.2 933.1L1800.0 933.0L1800.8 933.4L1801.6 933.3L1802.4 933.1L1803.2 932.7L1804.0 932.8L1804.8 932.9L1805.6 933.0L1806.4 932.9L1807.2 932.9L1808.0 932.8L1808.8 933.2L1809.6 933.1L1810.4 933.1L1811.2 932.6L1812.0 932.7L1812.8 932.6L1813.6 932.7L1814.4 932.6L1815.2 932.9L1816.0 933.3L1816.8 933.0L1817.6 932.8L1818.4 932.4L1819.2 933.0L1820.0 933.0L1820.8 933.2L1821.6 933.0L1822.4 932.7L1823.2 932.9L1824.0 932.8L1824.8 933.2L1825.6 932.5L1826.4 932.4L1827.2 932.4L1828.0 932.9L1828.8 933.6L1829.6 933.4L1830.4 933.3L1831.2 932.4L1832.0 932.7L1832.8 932.8L1833.6 933.0L1834.4 932.7L1835.2 932.7L1836.0 932.7L1836.8 932.8L1837.6 932.9L1838.4 932.7L1839.2 933.0L1840.0 933.1L1840.8 933.7L1841.6 933.1L1842.4 933.0L1843.2 932.5L1844.0 932.6L1844.8 932.5L1845.6 932.7L1846.4 932.9L1847.2 932.8L1848.0 933.0L1848.8 932.8L1849.6 933.1L1850.4 932.9L1851.2 933.0L1852.0 933.0L1852.8 932.7L1853.6 932.9L1854.4 932.6L1855.2 932.8L1856.0 932.5L1856.8 932.4L1857.6 932.5L1858.4 932.9L1859.2 932.9L1860.0 932.6L1860.8 932.2L1861.6 932.5L1862.4 932.6L1863.2 932.9L1864.0 932.9L1864.8 933.1L1865.6 932.7L1866.4 933.0L1867.2 932.7L1868.0 932.5L1868.8 932.4L1869.6 932.7L1870.4 933.5L1871.2 933.0L1872.0 932.8L1872.8 932.4L1873.6 932.7L1874.4 932.7L1875.2 932.3L1876.0 932.4L1876.8 932.6L1877.6 933.1L1878.4 932.7L1879.2 932.1L1880.0 932.0L1880.8 932.0L1881.6 932.7L1882.4 932.6L1883.2 933.1L1884.0 932.8L1884.8 932.7L1885.6 932.3L1886.4 932.3L1887.2 932.5L1888.0 932.6L1888.8 932.9L1889.6 932.8L1890.4 933.0L1891.2 932.8L1892.0 932.7L1892.8 932.7L1893.6 933.0L1894.4 933.3L1895.2 933.4L1896.0 933.2L1896.8 933.0L1897.6 933.0L1898.4 932.9L1899.2 933.0L1900.0 933.1L1900.8 933.0L1901.6 932.8L1902.4 932.9L1903.2 932.8L1904.0 932.8L1904.8 932.5L1905.6 932.4L1906.4 932.2L1907.2 932.7L1908.0 932.8L1908.8 933.2L1909.6 933.0L1910.4 933.1L1911.2 932.9L1912.0 932.8L1912.8 932.6L1913.6 932.8L1914.4 932.7L1915.2 932.9L1916.0 933.1L1916.8 932.9L1917.6 932.7L1918.4 932.2L1919.2 932.4L1920.0 932.6L1920.8 932.8L1921.6 932.9L1922.4 932.6L1923.2 932.8L1924.0 932.8L1924.8 932.9L1925.6 932.8L1926.4 932.6L1927.2 932.7L1928.0 932.2L1928.8 932.5L1929.6 932.2L1930.4 932.8L1931.2 932.7L1932.0 933.2L1932.8 932.8L1933.6 932.9L1934.4 932.7L1935.2 933.2L1936.0 933.4L1936.8 932.8L1937.6 932.4L1938.4 932.0L1939.2 932.5L1940.0 932.6L1940.8 932.5L1941.6 932.5L1942.4 932.6L1943.2 933.0L1944.0 933.1L1944.8 933.1L1945.6 932.9L1946.4 933.0L1947.2 933.0L1948.0 932.8L1948.8 932.8L1949.6 932.8L1950.4 933.2L1951.2 932.9L1952.0 932.5L1952.8 932.3L1953.6 931.9L1954.4 932.4L1955.2 932.4L1956.0 933.1L1956.8 932.7L1957.6 932.8L1958.4 932.6L1959.2 932.8L1960.0 932.7L1960.8 932.8L1961.6 932.7L1962.4 932.8L1963.2 932.6L1964.0 932.6L1964.8 932.6L1965.6 932.9L1966.4 932.8L1967.2 932.7L1968.0 932.3L1968.8 932.4L1969.6 932.3L1970.4 932.5L1971.2 932.3L1972.0 932.4L1972.8 932.4L1973.6 932.2L1974.4 932.4L1975.2 932.6L1976.0 933.1L1976.8 933.0L1977.6 932.9L1978.4 932.6L1979.2 932.5L1980.0 932.5L1980.8 932.7L1981.6 932.9L1982.4 933.2L1983.2 933.1L1984.0 932.7L1984.8 932.2L1985.6 931.7L1986.4 931.7L1987.2 931.6L1988.0 931.8L1988.8 932.1L1989.6 932.0L1990.3 932.1L1990.4 932.1L1990.7 932.0L1991.1 931.8L1991.2 931.8L1991.5 931.8L1991.9 931.9L1992.0 931.9L1992.3 931.9L1992.7 931.8L1992.8 931.7L1993.1 931.8L1993.5 931.9L1993.6 931.9L1993.9 931.9L1994.3 931.7L1994.4 931.7L1994.7 931.9L1995.1 932.1L1995.2 932.2L1995.5 932.2L1995.9 932.3L1996.0 932.3L1996.3 932.4L1996.7 932.5L1996.8 932.6L1997.1 932.4L1997.5 932.2L1997.6 932.1L1997.9 932.2L1998.3 932.2L1998.4 932.2L1998.7 932.1L1999.1 931.9L1999.2 931.9L1999.5 932.0L1999.9 932.0L2000.0 932.1L2000.3 931.9L2000.7 931.7L2000.8 931.6L2001.1 931.7L2001.5 931.8L2001.6 931.8L2001.9 931.6L2002.3 931.3L2002.4 931.3L2002.7 931.1L2003.1 930.8L2003.2 930.7L2003.5 930.3L2003.9 929.7L2004.0 929.6L2004.3 929.1L2004.7 928.4L2004.8 928.2L2005.1 927.5L2005.5 926.4L2005.6 926.1L2005.9 924.9L2006.3 923.1L2006.4 922.6L2006.7 920.9L2007.1 918.3L2007.2 917.6L2007.5 915.3L2007.9 911.9L2008.0 911.0L2008.3 908.3L2008.7 904.5L2008.8 903.5L2009.1 900.4L2009.5 896.2L2009.6 895.2L2009.9 892.1L2010.3 888.0L2010.4 887.1L2010.7 884.4L2011.1 881.2L2011.2 880.5L2011.5 878.5L2011.9 876.4L2012.0 876.0L2012.3 875.1L2012.7 874.6L2012.8 874.6L2013.1 874.7L2013.5 875.5L2013.6 875.8L2013.9 877.1L2014.3 879.3L2014.4 880.0L2014.7 881.7L2015.1 884.2L2015.2 884.8L2015.5 886.7L2015.9 889.0L2016.0 889.6L2016.3 891.0L2016.7 892.7L2016.8 893.1L2017.1 894.2L2017.5 895.3L2017.6 895.6L2017.9 896.4L2018.3 897.3L2018.4 897.5L2018.7 897.9L2019.1 898.4L2019.2 898.5L2019.5 898.8L2019.9 899.4L2020.0 899.5L2020.3 900.0L2020.7 900.9L2020.8 901.2L2021.1 902.1L2021.5 903.7L2021.6 904.1L2021.9 905.5L2022.3 907.7L2022.4 908.2L2022.7 910.0L2023.1 912.4L2023.2 913.0L2023.5 914.7L2023.9 917.0L2024.0 917.6L2024.3 919.2L2024.7 921.3L2024.8 921.8L2025.1 922.9L2025.5 924.3L2025.6 924.6L2025.9 925.7L2026.3 927.0L2026.4 927.3L2026.7 927.9L2027.1 928.5L2027.2 928.6L2027.5 929.2L2027.9 929.8L2028.0 929.9L2028.3 930.2L2028.7 930.5L2028.8 930.6L2029.1 930.9L2029.5 931.4L2029.6 931.5L2029.9 931.6L2030.3 931.6L2030.4 931.6L2030.7 931.5L2031.1 931.3L2031.2 931.2L2031.5 931.1L2031.9 930.9L2032.0 930.9L2032.3 930.9L2032.7 930.8L2032.8 930.8L2033.1 931.1L2033.5 931.5L2033.6 931.6L2033.9 931.7L2034.3 931.9L2034.4 932.0L2034.7 932.1L2035.1 932.3L2035.2 932.3L2035.5 932.2L2035.9 931.9L2036.0 931.9L2036.3 931.9L2036.7 931.8L2036.8 931.8L2037.1 931.9L2037.5 932.0L2037.6 932.0L2037.9 932.0L2038.3 932.1L2038.4 932.1L2038.7 932.0L2039.1 931.9L2039.2 931.8L2039.5 931.8L2039.9 931.8L2040.0 931.8L2040.3 931.9L2040.7 932.0L2040.8 932.0L2041.1 932.1L2041.5 932.3L2041.6 932.4L2041.9 932.4L2042.3 932.4L2042.4 932.4L2042.7 932.3L2043.2 932.2L2044.0 932.3L2044.8 932.2L2045.6 932.2L2046.4 932.4L2047.2 932.3L2048.0 932.5L2048.8 932.5L2049.6 932.6L2050.4 932.9L2051.2 932.5L2052.0 932.6L2052.8 932.4L2053.6 932.7L2054.4 932.9L2055.2 932.6L2056.0 932.6L2056.8 932.4L2057.6 932.4L2058.4 932.3L2059.2 932.3L2060.0 932.3L2060.8 932.6L2061.6 932.5L2062.4 933.0L2063.2 932.9L2064.0 933.1L2064.8 932.7L2065.6 932.7L2066.4 932.5L2067.2 932.7L2068.0 933.0L2068.8 933.3L2069.6 933.5L2070.4 933.1L2071.2 933.0L2072.0 932.8L2072.8 932.7L2073.6 932.3L2074.4 932.3L2075.2 932.2L2076.0 932.6L2076.8 932.7L2077.6 933.0L2078.4 932.8L2079.2 932.5L2080.0 932.5L2080.8 932.1L2081.6 932.2L2082.4 932.3L2083.2 932.7L2084.0 933.0L2084.8 933.0L2085.6 933.0L2086.4 932.6L2087.2 932.7L2088.0 932.5L2088.8 932.5L2089.6 932.4L2090.4 932.2L2091.2 932.7L2092.0 933.0L2092.8 933.2L2093.6 933.3L2094.4 933.0L2095.2 933.2L2096.0 932.9L2096.8 932.9L2097.6 932.6L2098.4 932.7L2099.2 932.7L2100.0 932.7L2100.8 932.4L2101.6 932.3L2102.4 932.5L2103.2 932.5L2104.0 933.0L2104.8 932.7L2105.6 932.7L2106.4 932.3L2107.2 932.4L2108.0 931.8L2108.8 932.2L2109.6 932.4L2110.4 933.0L2111.2 932.9L2112.0 932.9L2112.8 932.6L2113.6 932.9L2114.4 933.0L2115.2 932.8L2116.0 932.1L2116.8 932.2L2117.6 932.3L2118.4 932.9L2119.2 932.9L2120.0 933.0L2120.8 932.9L2121.6 932.7L2122.4 932.7L2123.2 932.5L2124.0 932.9L2124.8 932.7L2125.6 932.8L2126.4 932.1L2127.1 931.9L2127.2 931.8L2127.5 931.9L2127.9 932.0L2128.0 932.0L2128.3 932.3L2128.7 932.6L2128.8 932.7L2129.1 932.9L2129.5 933.1L2129.6 933.2L2129.9 933.0L2130.3 932.9L2130.4 932.8L2130.7 932.7L2131.1 932.4L2131.2 932.4L2131.5 932.3L2131.9 932.1L2132.0 932.1L2132.3 932.1L2132.7 932.0L2132.8 932.0L2133.1 932.0L2133.5 931.9L2133.6 931.9L2133.9 931.9L2134.3 932.0L2134.4 932.0L2134.7 932.0L2135.1 931.9L2135.2 931.9L2135.5 932.0L2135.9 932.2L2136.0 932.2L2136.3 932.1L2136.7 932.0L2136.8 932.0L2137.1 932.0L2137.5 932.0L2137.6 932.0L2137.9 932.0L2138.3 932.0L2138.4 932.0L2138.7 932.1L2139.1 932.3L2139.2 932.3L2139.5 932.3L2139.9 932.3L2140.0 932.3L2140.3 932.1L2140.7 931.8L2140.8 931.8L2141.1 931.7L2141.5 931.6L2141.6 931.5L2141.9 931.3L2142.3 931.1L2142.4 931.0L2142.7 930.8L2143.1 930.4L2143.2 930.3L2143.5 930.0L2143.9 929.4L2144.0 929.2L2144.3 928.8L2144.7 928.1L2144.8 927.8L2145.1 927.2L2145.5 926.2L2145.6 925.9L2145.9 924.8L2146.3 923.2L2146.4 922.8L2146.7 921.5L2147.1 919.5L2147.2 919.0L2147.5 917.3L2147.9 915.0L2148.0 914.4L2148.3 912.8L2148.7 910.7L2148.8 910.2L2149.1 908.7L2149.5 906.7L2149.6 906.3L2149.9 905.2L2150.3 903.9L2150.4 903.6L2150.7 902.6L2151.1 901.5L2151.2 901.3L2151.5 900.9L2151.9 900.7L2152.0 900.7L2152.3 900.6L2152.7 900.8L2152.8 901.0L2153.1 901.5L2153.5 902.6L2153.6 902.9L2153.9 903.8L2154.3 905.2L2154.4 905.5L2154.7 906.7L2155.1 908.2L2155.2 908.6L2155.5 909.8L2155.9 911.2L2156.0 911.6L2156.3 912.3L2156.7 913.0L2156.8 913.2L2157.1 913.8L2157.5 914.4L2157.6 914.6L2157.9 914.9L2158.3 915.1L2158.4 915.1L2158.7 915.3L2159.1 915.6L2159.2 915.6L2159.5 915.4L2159.9 915.2L2160.0 915.1L2160.3 915.1L2160.7 915.1L2160.8 915.1L2161.1 915.2L2161.5 915.4L2161.6 915.5L2161.9 916.0L2162.3 916.8L2162.4 917.1L2162.7 917.6L2163.1 918.4L2163.2 918.6L2163.5 919.1L2163.9 919.8L2164.0 919.9L2164.3 920.6L2164.7 921.5L2164.8 921.7L2165.1 922.5L2165.5 923.5L2165.6 923.7L2165.9 924.6L2166.3 925.8L2166.4 926.0L2166.7 926.8L2167.1 927.8L2167.2 928.0L2167.5 928.5L2167.9 929.2L2168.0 929.3L2168.3 929.7L2168.7 930.2L2168.8 930.4L2169.1 930.5L2169.5 930.7L2169.6 930.8L2169.9 931.0L2170.3 931.3L2170.4 931.3L2170.7 931.6L2171.1 931.8L2171.2 931.9L2171.5 931.9L2171.9 932.0L2172.0 932.0L2172.3 932.0L2172.7 932.0L2172.8 932.0L2173.1 932.1L2173.5 932.2L2173.6 932.3L2173.9 932.4L2174.3 932.5L2174.4 932.6L2174.7 932.7L2175.1 932.8L2175.2 932.8L2175.5 932.8L2175.9 932.7L2176.0 932.7L2176.3 932.7L2176.7 932.5L2176.8 932.5L2177.1 932.5L2177.5 932.6L2177.6 932.6L2177.9 932.6L2178.3 932.6L2178.4 932.6L2178.7 932.7L2179.1 932.9L2179.2 932.9L2179.5 933.0L2179.9 933.0L2180.0 933.0L2180.3 932.9L2180.7 932.7L2180.8 932.7L2181.1 932.8L2181.5 933.0L2181.6 933.0L2181.9 932.9L2182.3 932.7L2182.4 932.6L2182.7 932.8L2183.1 933.1L2183.2 933.1L2183.5 933.1L2183.9 933.0L2184.0 933.0L2184.3 932.9L2184.7 932.9L2184.8 932.9L2185.1 932.7L2185.5 932.4L2185.6 932.4L2185.9 932.2L2186.3 932.1L2186.4 932.1L2187.2 932.1L2188.0 932.3L2188.8 932.4L2189.6 932.5L2190.4 932.7L2191.2 932.9L2192.0 932.7L2192.8 932.4L2193.6 932.4L2194.4 932.7L2195.2 932.5L2196.0 932.0L2196.8 932.0L2197.6 932.4L2198.4 932.6L2199.2 932.6L2200.0 932.4L2200.8 932.5L2201.6 932.3L2202.4 932.4L2203.2 932.5L2204.0 932.7L2204.8 932.3L2205.6 932.3L2206.4 932.5L2207.2 932.7L2208.0 932.8L2208.8 932.6L2209.6 932.5L2210.4 933.0L2211.2 933.0L2212.0 933.1L2212.8 932.3L2213.6 932.6L2214.4 932.9L2215.2 933.1L2216.0 933.1L2216.8 933.0L2217.6 933.5L2218.4 933.3L2219.2 933.1L2220.0 933.0L2220.8 932.9L2221.6 932.8L2222.4 932.3L2223.2 932.3L2224.0 932.4L2224.8 933.0L2225.6 932.9L2226.4 933.0L2227.2 932.6L2228.0 932.7L2228.8 932.5L2229.6 933.0L2230.4 932.7L2231.2 933.2L2232.0 932.8L2232.8 932.4L2233.6 932.0L2234.4 932.1L2235.2 932.2L2236.0 932.2L2236.8 932.3L2237.6 932.4L2238.4 932.4L2239.2 932.8L2240.0 932.8L2240.8 933.0L2241.6 932.1L2242.4 932.3L2243.2 932.5L2244.0 932.9L2244.8 933.1L2245.6 933.1L2246.4 933.0L2247.2 932.7L2248.0 932.7L2248.8 932.9L2249.6 933.1L2250.4 932.7L2251.2 933.0L2252.0 932.7L2252.8 933.0L2253.6 932.7L2254.4 933.2L2255.2 933.1L2256.0 933.0L2256.8 933.0L2257.6 933.4L2258.4 933.6L2259.2 933.5L2260.0 933.0L2260.8 933.0L2261.6 932.6L2262.4 932.8L2263.2 932.7L2264.0 932.9L2264.8 932.9L2265.6 933.1L2266.4 932.8L2267.2 932.9L2268.0 932.7L2268.8 933.0L2269.6 932.8L2270.4 932.9L2271.2 932.8L2272.0 933.0L2272.8 932.8L2273.6 932.8L2274.4 932.7L2275.2 932.8L2276.0 932.8L2276.8 932.8L2277.6 932.7L2278.4 932.5L2279.2 932.4L2280.0 932.2L2280.8 932.5L2281.6 932.4L2282.4 932.9L2283.2 932.9L2284.0 933.1L2284.8 932.8L2285.6 933.0L2286.4 933.1L2287.2 933.0L2287.8 933.0"/>
<path class="cv" stroke="#000000" stroke-width="11.1" d="M259.2 1252.6L260.0 1252.6L260.8 1252.6L261.6 1252.6L262.4 1252.9L263.2 1252.7L264.0 1252.6L264.8 1252.5L265.6 1252.7L266.4 1253.0L267.2 1252.9L268.0 1252.9L268.8 1252.6L269.6 1252.4L270.4 1252.4L271.2 1252.4L272.0 1252.4L272.8 1252.4L273.6 1252.4L274.4 1252.6L275.2 1252.7L276.0 1252.9L276.8 1252.7L277.6 1252.4L278.4 1252.3L279.2 1252.4L280.0 1252.6L280.8 1252.2L281.6 1252.0L282.4 1252.0L283.2 1252.2L284.0 1252.2L284.8 1252.3L285.6 1252.3L286.4 1252.4L287.2 1252.3L288.0 1252.3L288.8 1252.2L289.6 1252.2L290.4 1252.3L291.2 1252.4L292.0 1252.3L292.8 1252.2L293.6 1252.1L294.4 1252.1L295.2 1252.1L296.0 1252.5L296.8 1252.5L297.6 1252.5L298.4 1252.3L299.2 1252.2L300.0 1252.2L300.8 1252.2L301.6 1252.3L302.4 1252.3L303.2 1252.4L304.0 1252.5L304.8 1252.7L305.6 1252.6L306.4 1252.7L307.2 1252.7L308.0 1252.7L308.8 1252.5L309.6 1252.5L310.4 1252.5L311.2 1252.5L312.0 1252.5L312.8 1252.5L313.6 1252.5L314.4 1252.6L315.2 1252.6L316.0 1252.7L316.8 1252.3L317.6 1252.3L318.4 1252.3L319.2 1252.7L320.0 1252.7L320.8 1252.5L321.6 1252.4L322.4 1252.5L323.2 1252.7L324.0 1252.8L324.8 1252.7L325.6 1252.6L326.4 1252.5L327.2 1252.3L328.0 1252.4L328.8 1252.5L329.6 1252.7L330.4 1252.6L331.2 1252.5L332.0 1252.5L332.8 1252.3L333.6 1252.3L334.4 1252.1L335.2 1252.2L336.0 1252.4L336.8 1252.7L337.6 1252.8L338.4 1252.5L339.2 1252.4L340.0 1252.5L340.8 1252.6L341.6 1252.3L342.4 1252.2L343.2 1252.3L344.0 1252.7L344.8 1252.8L345.6 1252.8L346.4 1252.8L347.2 1252.6L348.0 1252.5L348.8 1252.2L349.6 1252.0L350.4 1251.6L351.2 1251.6L352.0 1251.4L352.8 1251.2L353.6 1250.7L354.4 1250.3L355.2 1250.3L356.0 1250.6L356.8 1251.1L357.6 1251.3L358.4 1251.5L359.2 1251.2L360.0 1251.6L360.8 1252.0L361.6 1252.3L362.4 1252.4L363.2 1252.2L364.0 1252.4L364.8 1252.4L365.6 1252.3L366.4 1252.6L367.2 1252.6L368.0 1252.6L368.8 1252.5L369.6 1252.3L370.4 1252.4L371.2 1252.5L372.0 1252.5L372.8 1252.5L373.6 1252.2L374.4 1252.5L375.2 1252.2L376.0 1252.2L376.8 1252.2L377.6 1252.6L378.4 1252.5L379.2 1252.3L380.0 1252.3L380.8 1252.3L381.6 1252.5L382.4 1252.4L383.2 1252.4L384.0 1252.3L384.8 1252.3L385.6 1252.3L386.4 1252.4L387.2 1252.4L388.0 1252.4L388.8 1252.5L389.6 1252.7L390.4 1252.7L391.2 1252.6L392.0 1252.3L392.8 1252.3L393.6 1252.2L394.4 1252.3L395.2 1252.4L396.0 1252.5L396.8 1252.2L397.6 1252.1L398.4 1252.1L399.2 1252.4L400.0 1252.4L400.8 1252.4L401.6 1252.5L402.4 1252.5L403.2 1252.4L404.0 1252.2L404.8 1252.3L405.6 1252.1L406.4 1252.0L407.2 1252.1L408.0 1252.6L408.8 1253.0L409.6 1252.6L410.4 1252.2L411.2 1252.1L412.0 1252.3L412.8 1252.5L413.6 1252.5L414.4 1252.7L415.2 1252.5L416.0 1252.5L416.8 1252.5L417.6 1252.6L418.4 1252.5L419.2 1252.1L420.0 1252.3L420.8 1252.3L421.6 1252.6L422.4 1252.2L423.2 1252.1L424.0 1252.2L424.8 1252.3L425.6 1252.3L426.4 1252.0L427.2 1252.1L428.0 1252.4L428.8 1252.6L429.6 1252.3L430.4 1252.1L431.2 1252.1L432.0 1252.2L432.8 1252.2L433.6 1252.3L434.4 1252.4L435.2 1252.4L436.0 1252.4L436.8 1252.1L437.6 1252.2L438.4 1252.3L439.2 1252.4L440.0 1252.3L440.8 1252.0L441.6 1252.2L442.4 1252.4L443.2 1252.6L444.0 1252.2L444.8 1252.4L445.6 1252.3L446.4 1252.7L447.2 1252.5L448.0 1252.5L448.8 1252.3L449.6 1252.6L450.4 1252.9L451.2 1253.0L452.0 1252.6L452.8 1252.3L453.6 1252.4L454.4 1252.4L455.2 1252.8L456.0 1252.6L456.8 1252.6L457.6 1252.2L458.4 1252.4L459.2 1252.2L460.0 1252.3L460.8 1252.0L461.6 1252.0L462.4 1252.1L463.2 1252.3L464.0 1252.6L464.8 1252.7L465.6 1252.6L466.4 1252.6L467.2 1252.2L468.0 1252.0L468.8 1252.2L469.6 1252.5L470.4 1252.6L471.2 1252.3L472.0 1252.2L472.8 1252.4L473.6 1252.5L474.4 1252.4L475.2 1252.5L476.0 1252.7L476.8 1252.9L477.6 1252.8L478.4 1252.5L479.2 1252.4L480.0 1252.2L480.8 1252.2L481.6 1252.0L482.4 1252.1L483.2 1252.2L484.0 1252.4L484.8 1252.5L485.6 1252.5L486.4 1252.5L487.2 1252.3L488.0 1252.3L488.8 1252.5L489.6 1252.6L490.4 1252.5L491.2 1252.3L492.0 1252.3L492.8 1252.3L493.6 1252.6L494.4 1252.6L495.2 1252.7L496.0 1252.6L496.8 1252.5L497.6 1252.4L498.4 1252.4L499.2 1252.4L500.0 1252.3L500.8 1251.9L501.6 1252.0L502.4 1252.2L503.2 1252.4L504.0 1252.1L504.8 1252.2L505.6 1252.2L506.4 1252.4L507.2 1252.2L508.0 1252.4L508.8 1252.4L509.6 1252.6L510.4 1252.5L511.2 1252.6L512.0 1252.6L512.8 1252.7L513.6 1252.3L514.4 1252.1L515.2 1252.1L516.0 1252.4L516.8 1252.5L517.6 1252.5L518.4 1252.5L519.2 1252.4L520.0 1252.2L520.8 1252.1L521.6 1252.0L522.4 1252.1L523.2 1252.2L524.0 1252.4L524.8 1252.5L525.6 1252.6L526.4 1252.4L527.2 1252.2L528.0 1252.1L528.8 1252.3L529.6 1252.5L530.4 1252.4L531.2 1252.4L532.0 1252.3L532.8 1252.5L533.6 1252.6L534.4 1252.7L535.2 1252.4L536.0 1252.4L536.8 1252.4L537.6 1252.6L538.4 1252.6L539.2 1252.6L540.0 1252.8L540.8 1252.8L541.6 1252.6L542.4 1252.8L543.2 1252.8L544.0 1253.0L544.8 1252.7L545.6 1252.7L546.4 1252.4L547.2 1252.5L548.0 1252.3L548.8 1252.6L549.6 1252.2L550.4 1252.5L551.2 1252.3L552.0 1252.7L552.8 1252.6L553.6 1252.3L554.4 1252.1L555.2 1252.1L556.0 1252.3L556.8 1252.1L557.6 1252.0L558.4 1252.1L559.2 1252.2L560.0 1252.3L560.8 1252.5L561.6 1252.6L562.4 1252.6L563.2 1252.2L564.0 1252.0L564.8 1252.0L565.6 1252.4L566.4 1252.5L567.2 1252.8L568.0 1252.5L568.8 1252.6L569.6 1252.3L570.4 1252.3L571.2 1252.2L572.0 1252.3L572.8 1252.1L573.6 1252.2L574.4 1252.3L575.2 1252.4L576.0 1251.9L576.8 1251.9L577.6 1252.1L578.4 1252.4L579.2 1252.5L580.0 1252.3L580.8 1252.5L581.6 1252.4L582.4 1252.5L583.2 1252.4L584.0 1252.3L584.8 1252.3L585.6 1252.0L586.4 1252.0L587.2 1252.0L588.0 1252.0L588.8 1251.8L589.6 1251.6L590.4 1251.4L591.2 1250.9L592.0 1250.5L592.8 1249.7L593.6 1249.0L594.4 1247.9L595.2 1246.9L596.0 1245.7L596.8 1245.1L597.6 1244.8L598.4 1244.7L599.2 1244.7L600.0 1244.9L600.8 1245.8L601.6 1246.5L602.4 1247.4L603.2 1248.3L604.0 1249.2L604.8 1250.0L605.6 1250.5L606.4 1251.4L607.2 1251.5L608.0 1251.8L608.8 1251.6L609.6 1252.0L610.4 1252.1L611.2 1252.1L612.0 1251.9L612.8 1251.7L613.6 1251.9L614.4 1251.9L615.2 1251.9L616.0 1251.6L616.8 1251.7L617.6 1251.7L618.4 1251.8L619.2 1252.0L620.0 1252.0L620.8 1251.9L621.6 1251.5L622.4 1251.5L623.2 1251.5L624.0 1251.4L624.8 1251.7L625.6 1251.8L626.4 1252.1L627.2 1252.0L628.0 1251.8L628.8 1251.8L629.6 1251.5L630.4 1251.5L631.2 1251.2L632.0 1251.4L632.8 1251.6L633.6 1252.0L634.4 1251.7L635.2 1251.6L636.0 1251.2L636.8 1251.1L637.6 1250.7L638.4 1250.8L639.2 1250.9L640.0 1251.0L640.8 1251.1L641.6 1250.9L642.4 1250.7L643.0 1250.5L643.2 1250.5L643.4 1250.5L643.8 1250.4L644.0 1250.4L644.2 1250.4L644.6 1250.4L644.8 1250.4L645.0 1250.4L645.4 1250.2L645.6 1250.1L645.8 1250.2L646.2 1250.2L646.4 1250.2L646.6 1250.3L647.0 1250.3L647.2 1250.3L647.4 1250.2L647.8 1250.0L648.0 1249.9L648.2 1249.8L648.6 1249.6L648.8 1249.5L649.0 1249.4L649.4 1249.3L649.6 1249.2L649.8 1249.2L650.2 1249.2L650.4 1249.2L650.6 1249.2L651.0 1249.3L651.2 1249.3L651.4 1249.2L651.8 1249.1L652.0 1249.0L652.2 1249.0L652.6 1249.0L652.8 1249.0L653.0 1249.0L653.4 1248.9L653.6 1248.8L653.8 1248.7L654.2 1248.6L654.4 1248.4L654.6 1248.2L655.0 1247.6L655.2 1247.3L655.4 1246.8L655.8 1245.7L656.0 1245.1L656.2 1244.4L656.6 1242.8L656.8 1241.8L657.0 1240.8L657.4 1238.3L657.6 1236.9L657.8 1235.3L658.2 1231.4L658.4 1229.2L658.6 1226.8L659.0 1221.3L659.2 1218.1L659.4 1214.7L659.8 1207.0L660.0 1202.8L660.2 1198.2L660.6 1188.3L660.8 1183.0L661.0 1177.5L661.4 1166.1L661.6 1160.1L661.8 1154.2L662.2 1142.1L662.4 1136.0L662.6 1130.0L663.0 1118.4L663.2 1112.8L663.4 1107.4L663.8 1097.5L664.0 1093.0L664.2 1088.9L664.6 1081.8L664.8 1079.0L665.0 1076.8L665.4 1073.7L665.6 1073.0L665.8 1072.7L666.2 1073.7L666.4 1074.9L666.6 1076.7L667.0 1081.6L667.2 1084.7L667.4 1088.2L667.8 1096.2L668.0 1100.7L668.2 1105.4L668.6 1115.6L668.8 1120.9L669.0 1126.4L669.4 1137.5L669.6 1143.1L669.8 1148.7L670.2 1159.8L670.4 1165.2L670.6 1170.5L671.0 1180.6L671.2 1185.5L671.4 1190.1L671.8 1198.8L672.0 1202.9L672.2 1206.8L672.6 1213.9L672.8 1217.2L673.0 1220.1L673.4 1225.5L673.6 1227.8L673.8 1230.1L674.2 1234.1L674.4 1235.9L674.6 1237.4L675.0 1239.9L675.2 1241.0L675.4 1242.0L675.8 1243.8L676.0 1244.5L676.2 1245.0L676.6 1245.9L676.8 1246.2L677.0 1246.6L677.4 1247.3L677.6 1247.6L677.8 1247.9L678.2 1248.3L678.4 1248.4L678.6 1248.5L679.0 1248.7L679.2 1248.8L679.4 1248.9L679.8 1249.1L680.0 1249.1L680.2 1249.1L680.6 1249.1L680.8 1249.1L681.0 1249.2L681.4 1249.4L681.6 1249.5L681.8 1249.5L682.2 1249.5L682.4 1249.5L682.6 1249.6L683.0 1249.8L683.2 1249.9L683.4 1249.8L683.8 1249.7L684.0 1249.7L684.2 1249.7L684.6 1249.8L684.8 1249.8L685.0 1249.9L685.4 1250.0L685.6 1250.1L685.8 1250.2L686.2 1250.3L686.4 1250.4L686.6 1250.4L687.0 1250.6L687.2 1250.7L687.4 1250.6L687.8 1250.5L688.0 1250.5L688.2 1250.5L688.6 1250.6L688.8 1250.7L689.0 1250.7L689.4 1250.7L689.6 1250.7L689.8 1250.8L690.2 1250.9L690.4 1251.0L690.6 1251.0L691.0 1251.0L691.2 1251.1L691.4 1251.1L691.8 1251.0L692.0 1251.0L692.8 1251.0L693.6 1251.2L694.4 1251.2L695.2 1251.4L696.0 1251.5L696.8 1251.8L697.6 1251.5L698.4 1251.4L699.2 1251.3L700.0 1251.7L700.8 1251.7L701.6 1251.7L702.4 1251.6L703.2 1251.5L704.0 1251.6L704.8 1251.5L705.6 1251.6L706.4 1251.7L707.2 1251.6L708.0 1251.6L708.8 1251.7L709.6 1251.7L710.4 1251.8L711.2 1251.9L712.0 1251.8L712.8 1251.6L713.6 1251.6L714.4 1251.9L715.2 1252.0L716.0 1251.9L716.8 1252.0L717.6 1252.0L718.4 1252.0L719.2 1251.9L720.0 1251.9L720.8 1252.1L721.6 1252.4L722.4 1252.4L723.2 1252.0L724.0 1251.9L724.8 1252.2L725.6 1252.1L726.4 1251.9L727.2 1251.6L728.0 1251.8L728.8 1251.7L729.6 1252.0L730.4 1252.0L731.2 1251.9L732.0 1252.0L732.8 1252.3L733.6 1252.4L734.4 1252.4L735.2 1252.0L736.0 1251.9L736.8 1251.6L737.6 1252.0L738.4 1252.0L739.2 1252.4L740.0 1252.5L740.8 1252.5L741.6 1252.4L742.4 1252.4L743.2 1252.6L744.0 1252.3L744.8 1252.1L745.6 1252.0L746.4 1252.0L747.2 1252.2L748.0 1252.3L748.8 1252.5L749.6 1252.6L750.4 1252.3L751.2 1252.2L752.0 1252.0L752.8 1252.2L753.6 1252.1L754.4 1252.2L755.2 1251.9L756.0 1252.0L756.8 1251.9L757.6 1252.3L758.4 1252.3L759.2 1252.4L760.0 1252.1L760.8 1252.1L761.6 1252.2L762.4 1252.1L763.2 1251.9L764.0 1251.7L764.8 1251.7L765.6 1251.9L766.4 1251.8L767.2 1252.1L768.0 1251.9L768.8 1252.1L769.6 1252.2L770.4 1252.4L771.2 1252.3L772.0 1252.3L772.8 1252.3L773.6 1252.4L774.4 1252.3L775.2 1252.2L776.0 1252.2L776.8 1252.1L777.6 1252.2L778.4 1252.2L779.2 1252.4L780.0 1252.1L780.8 1252.2L781.6 1252.0L782.4 1252.2L783.2 1252.1L784.0 1252.2L784.8 1251.9L785.6 1251.9L786.4 1251.8L787.2 1251.9L788.0 1251.8L788.8 1251.8L789.6 1252.1L790.4 1252.3L791.2 1252.2L792.0 1252.2L792.8 1252.1L793.6 1252.2L794.4 1252.0L795.2 1252.1L796.0 1252.2L796.8 1252.6L797.6 1252.6L798.4 1252.7L799.2 1252.2L800.0 1251.9L800.8 1251.5L801.6 1251.7L802.4 1251.8L803.2 1252.2L804.0 1252.2L804.8 1252.5L805.6 1252.2L806.4 1252.2L807.2 1251.8L808.0 1252.0L808.8 1251.9L809.6 1252.0L810.4 1251.9L811.2 1252.0L812.0 1251.9L812.8 1252.1L813.6 1252.1L814.4 1252.3L815.2 1252.1L816.0 1252.4L816.8 1252.4L817.6 1252.6L818.4 1252.1L819.2 1252.1L820.0 1251.8L820.8 1252.1L821.6 1252.0L822.4 1252.1L823.2 1252.0L824.0 1251.9L824.8 1251.8L825.6 1251.7L826.4 1251.8L827.2 1251.7L828.0 1251.7L828.8 1251.7L829.6 1251.8L830.4 1252.0L831.2 1252.1L832.0 1251.9L832.8 1251.6L833.6 1251.5L834.4 1251.8L835.2 1251.9L836.0 1251.7L836.8 1251.3L837.6 1251.2L838.4 1251.4L839.2 1251.9L840.0 1251.9L840.8 1251.5L841.6 1251.1L842.4 1251.2L843.2 1251.4L844.0 1251.4L844.8 1251.1L845.6 1250.9L846.4 1250.7L847.2 1251.0L848.0 1251.0L848.8 1250.9L849.6 1250.7L850.4 1250.7L851.2 1250.8L852.0 1250.8L852.8 1251.1L853.6 1251.1L854.4 1250.9L855.2 1250.6L856.0 1250.5L856.8 1250.4L857.1 1250.4L857.5 1250.5L857.6 1250.5L857.9 1250.3L858.3 1250.1L858.4 1250.0L858.7 1250.0L859.1 1249.9L859.2 1249.9L859.5 1249.7L859.9 1249.5L860.0 1249.5L860.3 1249.5L860.7 1249.4L860.8 1249.4L861.1 1249.4L861.5 1249.3L861.6 1249.3L861.9 1249.3L862.3 1249.2L862.4 1249.2L862.7 1249.2L863.1 1249.3L863.2 1249.3L863.5 1249.2L863.9 1249.1L864.0 1249.0L864.3 1248.9L864.7 1248.8L864.8 1248.8L865.1 1248.7L865.5 1248.5L865.6 1248.5L865.9 1248.4L866.3 1248.3L866.4 1248.2L866.7 1248.2L867.1 1248.0L867.2 1248.0L867.5 1247.8L867.9 1247.6L868.0 1247.5L868.3 1247.1L868.7 1246.6L868.8 1246.4L869.1 1246.0L869.5 1245.2L869.6 1245.0L869.9 1244.1L870.3 1242.6L870.4 1242.2L870.7 1240.9L871.1 1238.6L871.2 1237.9L871.5 1235.5L871.9 1231.5L872.0 1230.4L872.3 1226.7L872.7 1221.0L872.8 1219.3L873.1 1213.9L873.5 1205.5L873.6 1203.3L873.9 1196.1L874.3 1185.6L874.4 1182.8L874.7 1174.0L875.1 1161.3L875.2 1158.1L875.5 1148.0L875.9 1134.2L876.0 1130.7L876.3 1120.1L876.7 1106.2L876.8 1102.7L877.1 1092.8L877.5 1080.3L877.6 1077.3L877.9 1069.0L878.3 1059.3L878.4 1057.2L878.7 1051.4L879.1 1045.7L879.2 1044.6L879.5 1042.1L879.9 1040.8L880.0 1040.8L880.3 1041.8L880.7 1044.9L880.8 1046.1L881.1 1050.0L881.5 1056.8L881.6 1058.8L881.9 1065.2L882.3 1074.9L882.4 1077.5L882.7 1085.6L883.1 1097.1L883.2 1100.0L883.5 1109.1L883.9 1121.4L884.0 1124.5L884.3 1133.8L884.7 1146.0L884.8 1149.0L885.1 1157.7L885.5 1168.7L885.6 1171.4L885.9 1179.2L886.3 1188.9L886.4 1191.2L886.7 1197.7L887.1 1205.5L887.2 1207.4L887.5 1212.8L887.9 1219.3L888.0 1220.8L888.3 1224.8L888.7 1229.4L888.8 1230.4L889.1 1233.3L889.5 1236.6L889.6 1237.3L889.9 1239.1L890.3 1241.2L890.4 1241.6L890.7 1242.8L891.1 1244.1L891.2 1244.4L891.5 1245.1L891.9 1245.8L892.0 1246.0L892.3 1246.5L892.7 1247.1L892.8 1247.2L893.1 1247.6L893.5 1248.0L893.6 1248.1L893.9 1248.3L894.3 1248.6L894.4 1248.6L894.7 1248.7L895.1 1248.7L895.2 1248.7L895.5 1248.8L895.9 1249.0L896.0 1249.0L896.3 1249.1L896.7 1249.1L896.8 1249.2L897.1 1249.2L897.5 1249.3L897.6 1249.3L897.9 1249.4L898.3 1249.4L898.4 1249.4L898.7 1249.5L899.1 1249.5L899.2 1249.5L899.5 1249.6L899.9 1249.7L900.0 1249.8L900.3 1249.8L900.7 1249.9L900.8 1249.9L901.1 1250.0L901.5 1250.3L901.6 1250.3L901.9 1250.3L902.3 1250.3L902.4 1250.3L902.7 1250.3L903.1 1250.3L903.2 1250.3L903.5 1250.2L903.9 1250.0L904.0 1250.0L904.3 1250.1L904.7 1250.2L904.8 1250.2L905.1 1250.3L905.5 1250.5L905.6 1250.6L905.9 1250.8L906.3 1251.0L906.4 1251.0L906.7 1251.0L907.2 1251.1L908.0 1250.8L908.8 1250.9L909.6 1251.0L910.4 1250.9L911.2 1250.7L912.0 1250.7L912.8 1250.9L913.6 1251.1L914.4 1251.1L915.2 1251.0L916.0 1251.0L916.8 1251.2L917.6 1251.5L918.4 1251.4L919.2 1251.5L920.0 1251.2L920.8 1251.4L921.6 1251.3L922.4 1251.4L923.2 1251.6L924.0 1251.9L924.8 1252.0L925.6 1252.0L926.4 1252.0L927.2 1252.1L928.0 1251.9L928.8 1251.8L929.6 1251.7L930.4 1251.8L931.2 1251.8L932.0 1252.2L932.8 1252.3L933.6 1252.3L934.4 1252.0L935.2 1252.1L936.0 1252.1L936.8 1251.7L937.6 1251.4L938.4 1251.4L939.2 1252.0L940.0 1252.3L940.8 1252.4L941.6 1252.3L942.4 1252.1L943.2 1252.2L944.0 1252.1L944.8 1252.2L945.6 1252.1L946.4 1252.2L947.2 1252.2L948.0 1252.2L948.8 1252.1L949.6 1252.0L950.4 1252.2L951.2 1252.4L952.0 1252.5L952.8 1252.4L953.6 1252.4L954.4 1252.3L955.2 1252.0L956.0 1252.0L956.8 1252.0L957.6 1252.2L958.4 1252.1L959.2 1252.0L960.0 1252.2L960.8 1252.2L961.6 1252.1L962.4 1252.2L963.2 1252.2L964.0 1252.4L964.8 1252.1L965.6 1251.9L966.4 1251.9L967.2 1251.9L968.0 1251.9L968.8 1251.6L969.6 1251.2L970.4 1251.1L971.2 1250.7L972.0 1250.6L972.8 1249.9L973.6 1249.6L974.4 1248.8L975.2 1248.1L976.0 1247.0L976.8 1246.3L977.6 1245.4L978.4 1245.0L979.2 1244.6L980.0 1244.5L980.8 1244.5L981.6 1244.7L982.4 1245.3L983.2 1246.3L984.0 1247.3L984.8 1248.0L985.6 1248.8L986.4 1249.5L987.2 1250.3L988.0 1250.8L988.8 1251.2L989.6 1251.5L990.4 1251.7L991.2 1251.5L992.0 1251.9L992.8 1251.9L993.6 1252.2L994.4 1252.3L995.2 1252.2L996.0 1252.1L996.8 1251.9L997.6 1252.0L998.4 1252.2L999.2 1252.3L1000.0 1252.3L1000.8 1252.1L1001.6 1252.3L1002.4 1252.3L1003.2 1252.4L1004.0 1252.4L1004.8 1252.5L1005.6 1252.1L1006.4 1251.9L1007.2 1251.9L1008.0 1252.0L1008.8 1252.2L1009.6 1252.4L1010.4 1252.5L1011.2 1252.6L1012.0 1252.5L1012.8 1252.6L1013.6 1252.5L1014.4 1252.7L1015.2 1252.8L1016.0 1252.7L1016.8 1252.5L1017.6 1252.4L1018.4 1252.4L1019.2 1252.3L1020.0 1252.4L1020.8 1252.6L1021.6 1252.7L1022.4 1252.3L1023.2 1252.0L1024.0 1251.9L1024.8 1252.2L1025.6 1252.3L1026.4 1252.4L1027.2 1252.5L1028.0 1252.5L1028.8 1252.3L1029.6 1252.3L1030.4 1252.3L1031.2 1252.7L1032.0 1252.6L1032.8 1252.3L1033.6 1252.1L1034.4 1251.8L1035.2 1252.0L1036.0 1252.2L1036.8 1252.6L1037.6 1252.8L1038.4 1252.6L1039.2 1252.8L1040.0 1252.7L1040.8 1252.6L1041.6 1252.3L1042.4 1252.5L1043.2 1252.9L1044.0 1253.0L1044.8 1253.1L1045.6 1252.9L1046.4 1253.0L1047.2 1252.6L1048.0 1252.6L1048.8 1252.5L1049.6 1252.5L1050.4 1252.5L1051.2 1252.5L1052.0 1252.7L1052.8 1252.7L1053.6 1252.6L1054.4 1252.6L1055.2 1252.7L1056.0 1252.7L1056.8 1252.7L1057.6 1252.6L1058.4 1252.8L1059.2 1252.7L1060.0 1252.5L1060.8 1252.2L1061.6 1252.0L1062.4 1252.1L1063.2 1252.2L1064.0 1252.4L1064.8 1252.5L1065.6 1252.5L1066.4 1252.7L1067.2 1252.7L1068.0 1252.5L1068.8 1252.3L1069.6 1252.3L1070.4 1252.6L1071.2 1252.6L1072.0 1252.7L1072.8 1252.5L1073.6 1252.7L1074.4 1252.7L1075.2 1253.0L1076.0 1252.9L1076.8 1253.0L1077.6 1253.1L1078.4 1253.2L1079.2 1253.0L1080.0 1252.9L1080.8 1252.7L1081.6 1252.6L1082.4 1252.7L1083.2 1252.9L1084.0 1253.1L1084.8 1252.6L1085.6 1252.6L1086.4 1252.6L1087.2 1252.9L1088.0 1252.7L1088.8 1252.7L1089.6 1252.5L1090.4 1252.8L1091.2 1252.7L1092.0 1253.0L1092.8 1252.6L1093.6 1252.5L1094.4 1252.4L1095.2 1252.6L1096.0 1252.9L1096.8 1253.0L1097.6 1253.0L1098.4 1253.2L1099.2 1252.9L1100.0 1253.1L1100.8 1252.5L1101.6 1252.8L1102.4 1252.7L1103.2 1253.1L1104.0 1253.1L1104.8 1253.3L1105.6 1253.1L1106.4 1253.2L1107.2 1253.1L1108.0 1253.2L1108.8 1253.2L1109.6 1253.0L1110.4 1252.8L1111.2 1252.7L1112.0 1253.0L1112.8 1252.9L1113.6 1253.0L1114.4 1252.7L1115.2 1253.1L1116.0 1253.0L1116.8 1253.1L1117.6 1252.9L1118.4 1252.9L1119.2 1252.6L1120.0 1252.6L1120.8 1252.9L1121.6 1253.1L1122.4 1253.3L1123.2 1253.1L1124.0 1253.4L1124.8 1253.1L1125.6 1252.8L1126.4 1252.9L1127.2 1253.2L1128.0 1253.6L1128.8 1253.6L1129.6 1253.6L1130.4 1253.5L1131.2 1253.2L1132.0 1253.4L1132.8 1253.4L1133.6 1253.3L1134.4 1253.0L1135.2 1253.1L1136.0 1253.3L1136.8 1253.5L1137.6 1253.2L1138.4 1253.0L1139.2 1253.1L1140.0 1253.2L1140.8 1253.4L1141.6 1253.3L1142.4 1253.3L1143.2 1253.3L1144.0 1253.0L1144.8 1252.9L1145.6 1253.0L1146.4 1253.1L1147.2 1253.1L1148.0 1253.0L1148.8 1253.2L1149.6 1253.4L1150.4 1253.3L1151.2 1253.4L1152.0 1253.4L1152.8 1253.5L1153.6 1253.2L1154.4 1253.3L1155.2 1252.9L1156.0 1252.9L1156.8 1252.8L1157.6 1253.2L1158.4 1253.0L1159.2 1253.1L1160.0 1253.4L1160.8 1253.8L1161.6 1254.0L1162.4 1253.8L1163.2 1253.4L1164.0 1253.3L1164.8 1253.2L1165.6 1253.4L1166.4 1253.3L1167.2 1253.5L1168.0 1253.4L1168.8 1253.6L1169.6 1253.7L1170.4 1253.5L1171.2 1253.5L1172.0 1253.4L1172.8 1253.7L1173.6 1253.7L1174.4 1253.6L1175.2 1253.5L1176.0 1253.5L1176.8 1253.3L1177.6 1253.3L1178.4 1253.3L1179.2 1253.5L1180.0 1253.4L1180.8 1253.3L1181.6 1253.3L1182.4 1253.4L1183.2 1253.7L1184.0 1253.7L1184.8 1253.6L1185.6 1253.5L1186.4 1253.4L1187.2 1253.4L1188.0 1253.2L1188.8 1253.3L1189.6 1253.3L1190.4 1253.5L1191.2 1253.6L1192.0 1253.6L1192.8 1253.4L1193.6 1253.3L1194.4 1253.6L1195.2 1253.6L1196.0 1253.8L1196.8 1253.5L1197.6 1253.8L1198.4 1253.7L1199.2 1253.8L1200.0 1253.7L1200.8 1253.7L1201.6 1253.4L1202.4 1253.4L1203.2 1253.5L1204.0 1253.9L1204.8 1254.1L1205.6 1254.1L1206.4 1254.0L1207.2 1253.7L1208.0 1253.7L1208.8 1253.6L1209.6 1253.8L1210.4 1253.5L1211.2 1253.6L1212.0 1253.6L1212.8 1253.7L1213.6 1253.6L1214.4 1253.4L1215.2 1253.5L1216.0 1253.6L1216.8 1253.8L1217.6 1253.9L1218.4 1253.7L1219.2 1253.6L1220.0 1253.5L1220.8 1253.5L1221.6 1253.7L1222.4 1253.5L1223.2 1253.3L1224.0 1253.1L1224.8 1253.0L1225.6 1253.0L1226.4 1253.0L1227.2 1253.2L1228.0 1253.6L1228.8 1253.3L1229.6 1253.7L1230.4 1253.2L1231.2 1253.6L1232.0 1253.3L1232.8 1253.7L1233.6 1253.7L1234.4 1253.8L1235.2 1253.7L1236.0 1253.8L1236.8 1253.6L1237.6 1253.8L1238.4 1253.5L1239.2 1253.7L1240.0 1253.6L1240.8 1253.9L1241.6 1253.8L1242.4 1253.8L1243.2 1253.9L1244.0 1254.0L1244.8 1254.0L1245.6 1254.0L1246.4 1253.8L1247.2 1253.5L1248.0 1253.6L1248.8 1253.7L1249.6 1253.8L1250.4 1253.8L1251.2 1253.7L1252.0 1253.8L1252.8 1253.4L1253.6 1253.7L1254.4 1253.8L1255.2 1254.3L1256.0 1254.2L1256.8 1254.2L1257.6 1254.0L1258.4 1254.2L1259.2 1254.1L1260.0 1254.1L1260.8 1253.9L1261.6 1253.8L1262.4 1253.5L1263.2 1253.5L1264.0 1254.0L1264.8 1254.3L1265.6 1254.1L1266.4 1253.6L1267.2 1253.5L1268.0 1253.7L1268.8 1253.8L1269.6 1253.8L1270.4 1253.8L1271.2 1253.8L1272.0 1253.8L1272.8 1253.7L1273.6 1253.7L1274.4 1253.6L1275.2 1253.9L1276.0 1254.0L1276.8 1254.1L1277.6 1253.7L1278.4 1253.9L1279.2 1253.8L1280.0 1253.6L1280.8 1253.4L1281.6 1253.5L1282.4 1253.8L1283.2 1253.8L1284.0 1253.7L1284.8 1253.7L1285.6 1253.6L1286.4 1253.8L1287.2 1254.0L1288.0 1254.2L1288.8 1254.1L1289.6 1253.8L1290.4 1253.7L1291.2 1253.4L1292.0 1253.5L1292.8 1253.4L1293.6 1253.6L1294.4 1253.5L1295.2 1253.5L1296.0 1253.7L1296.8 1253.7L1297.6 1253.9L1298.4 1253.7L1299.2 1253.7L1300.0 1253.6L1300.8 1253.6L1301.6 1253.7L1302.4 1253.8L1303.2 1254.2L1304.0 1254.0L1304.8 1253.8L1305.6 1253.5L1306.4 1253.6L1307.2 1254.0L1308.0 1253.9L1308.8 1254.0L1309.6 1253.9L1310.4 1253.8L1311.2 1254.0L1312.0 1253.9L1312.8 1254.0L1313.6 1253.6L1314.4 1253.5L1315.2 1254.0L1316.0 1254.2L1316.8 1254.0L1317.6 1253.5L1318.4 1253.6L1319.2 1253.6L1320.0 1253.6L1320.8 1253.4L1321.6 1253.5L1322.4 1253.5L1323.2 1253.5L1324.0 1253.3L1324.8 1253.5L1325.6 1253.4L1326.4 1253.7L1327.2 1253.6L1328.0 1253.7L1328.8 1253.8L1329.6 1253.7L1330.4 1253.5L1331.2 1253.7L1332.0 1253.6L1332.8 1253.9L1333.6 1253.7L1334.4 1253.6L1335.2 1253.5L1336.0 1253.5L1336.8 1253.3L1337.6 1253.6L1338.4 1253.7L1339.2 1253.9L1340.0 1253.9L1340.8 1254.0L1341.6 1254.3L1342.4 1254.1L1343.2 1254.0L1344.0 1254.1L1344.8 1254.0L1345.6 1253.8L1346.4 1253.8L1347.2 1253.7L1348.0 1253.8L1348.8 1253.6L1349.6 1253.5L1350.4 1253.5L1351.2 1253.2L1352.0 1253.4L1352.8 1253.2L1353.6 1253.1L1354.4 1253.0L1355.2 1253.3L1356.0 1253.7L1356.8 1253.7L1357.6 1253.8L1358.4 1253.8L1359.2 1253.8L1360.0 1253.5L1360.8 1253.6L1361.6 1253.7L1362.4 1253.8L1363.2 1253.8L1364.0 1253.9L1364.8 1253.8L1365.6 1253.7L1366.4 1253.5L1367.2 1253.4L1368.0 1253.7L1368.8 1253.8L1369.6 1253.7L1370.4 1253.5L1371.2 1253.7L1372.0 1253.7L1372.8 1253.7L1373.6 1253.5L1374.4 1253.4L1375.2 1253.3L1376.0 1253.4L1376.8 1253.4L1377.6 1253.6L1378.4 1253.5L1379.2 1253.6L1380.0 1253.8L1380.8 1253.7L1381.6 1253.8L1382.4 1253.9L1383.2 1254.0L1384.0 1254.0L1384.8 1253.8L1385.6 1253.9L1386.4 1253.7L1387.2 1254.0L1388.0 1253.7L1388.8 1253.7L1389.6 1253.5L1390.4 1253.7L1391.2 1253.6L1392.0 1253.5L1392.8 1253.5L1393.6 1253.8L1394.4 1253.9L1395.2 1254.1L1396.0 1253.9L1396.8 1253.7L1397.6 1253.5L1398.4 1253.4L1399.2 1253.7L1400.0 1254.0L1400.8 1254.0L1401.6 1254.1L1402.4 1254.2L1403.2 1254.3L1404.0 1254.1L1404.8 1254.1L1405.6 1254.0L1406.4 1253.9L1407.2 1253.7L1408.0 1253.7L1408.8 1253.7L1409.6 1253.7L1410.4 1253.6L1411.2 1253.4L1412.0 1253.5L1412.8 1253.8L1413.6 1253.8L1414.4 1253.8L1415.2 1253.9L1416.0 1253.6L1416.8 1253.6L1417.6 1253.3L1418.4 1253.5L1419.2 1253.5L1420.0 1253.6L1420.8 1253.8L1421.6 1254.0L1422.4 1254.0L1423.2 1254.3L1424.0 1254.3L1424.8 1254.2L1425.6 1253.9L1426.4 1253.6L1427.2 1253.7L1428.0 1253.6L1428.8 1254.0L1429.6 1253.9L1430.4 1254.0L1431.2 1253.9L1432.0 1253.8L1432.8 1254.0L1433.6 1253.8L1434.4 1254.1L1435.2 1253.8L1436.0 1253.9L1436.8 1253.6L1437.6 1253.8L1438.4 1253.8L1439.2 1254.0L1440.0 1253.8L1440.8 1253.8L1441.6 1253.6L1442.4 1253.8L1443.2 1253.6L1444.0 1253.6L1444.8 1253.4L1445.6 1253.6L1446.4 1253.8L1447.2 1253.8L1448.0 1253.9L1448.8 1253.9L1449.6 1253.9L1450.4 1253.9L1451.2 1253.6L1452.0 1253.4L1452.8 1253.5L1453.6 1253.4L1454.4 1253.5L1455.2 1253.5L1456.0 1253.7L1456.8 1253.9L1457.6 1253.7L1458.4 1253.6L1459.2 1253.6L1460.0 1253.5L1460.8 1253.7L1461.6 1253.6L1462.4 1253.8L1463.2 1253.5L1464.0 1253.2L1464.8 1253.3L1465.6 1253.5L1466.4 1253.8L1467.2 1253.9L1468.0 1253.9L1468.8 1254.1L1469.6 1254.0L1470.4 1253.8L1471.2 1253.7L1472.0 1254.0L1472.8 1254.3L1473.6 1254.1L1474.4 1253.9L1475.2 1253.7L1476.0 1253.6L1476.8 1253.6L1477.6 1253.6L1478.4 1253.7L1479.2 1253.8L1480.0 1253.7L1480.8 1253.7L1481.6 1253.6L1482.4 1253.5L1483.2 1253.7L1484.0 1253.5L1484.8 1253.6L1485.6 1253.7L1486.4 1253.7L1487.2 1253.8L1488.0 1253.3L1488.8 1253.2L1489.6 1253.2L1490.4 1253.5L1491.2 1253.4L1492.0 1253.4L1492.8 1253.6L1493.6 1253.7L1494.4 1253.4L1495.2 1253.2L1496.0 1253.4L1496.8 1253.4L1497.6 1253.6L1498.4 1253.6L1499.2 1253.8L1500.0 1253.7L1500.8 1253.4L1501.6 1253.3L1502.4 1253.4L1503.2 1253.5L1504.0 1253.9L1504.8 1253.8L1505.6 1253.8L1506.4 1253.6L1507.2 1253.6L1508.0 1253.5L1508.8 1253.6L1509.6 1253.6L1510.4 1253.8L1511.2 1253.6L1512.0 1253.4L1512.8 1253.2L1513.6 1253.2L1514.4 1253.4L1515.2 1253.4L1516.0 1253.5L1516.8 1253.4L1517.6 1253.2L1518.4 1253.5L1519.2 1253.6L1520.0 1253.7L1520.8 1253.4L1521.6 1253.5L1522.4 1253.7L1523.2 1254.0L1524.0 1253.8L1524.8 1253.8L1525.6 1253.7L1526.4 1253.8L1527.2 1253.7L1528.0 1253.6L1528.8 1253.6L1529.6 1253.7L1530.4 1253.6L1531.2 1253.5L1532.0 1253.3L1532.8 1253.6L1533.6 1253.7L1534.4 1253.6L1535.2 1253.4L1536.0 1253.0L1536.8 1252.9L1537.6 1252.8L1538.4 1252.9L1539.2 1253.1L1540.0 1253.2L1540.8 1253.3L1541.6 1252.9L1542.4 1252.7L1543.2 1252.5L1544.0 1252.6L1544.8 1252.8L1545.6 1252.9L1546.4 1253.0L1547.2 1252.7L1547.4 1252.7L1547.8 1252.7L1548.0 1252.7L1548.2 1252.6L1548.6 1252.6L1548.8 1252.6L1549.0 1252.6L1549.4 1252.7L1549.6 1252.8L1549.8 1252.7L1550.2 1252.5L1550.4 1252.5L1550.6 1252.5L1551.0 1252.5L1551.2 1252.5L1551.4 1252.4L1551.8 1252.4L1552.0 1252.4L1552.2 1252.4L1552.6 1252.5L1552.8 1252.6L1553.0 1252.6L1553.4 1252.5L1553.6 1252.4L1553.8 1252.4L1554.2 1252.3L1554.4 1252.2L1554.6 1252.2L1555.0 1252.1L1555.2 1252.0L1555.4 1251.9L1555.8 1251.9L1556.0 1251.8L1556.2 1251.9L1556.6 1251.9L1556.8 1252.0L1557.0 1252.0L1557.4 1251.9L1557.6 1251.9L1557.8 1251.8L1558.2 1251.7L1558.4 1251.6L1558.6 1251.5L1559.0 1251.3L1559.2 1251.2L1559.4 1251.1L1559.8 1250.8L1560.0 1250.6L1560.2 1250.5L1560.6 1250.2L1560.8 1250.0L1561.0 1249.7L1561.4 1249.0L1561.6 1248.6L1561.8 1248.2L1562.2 1247.1L1562.4 1246.5L1562.6 1245.8L1563.0 1244.1L1563.2 1243.1L1563.4 1242.0L1563.8 1239.6L1564.0 1238.2L1564.2 1236.7L1564.6 1233.2L1564.8 1231.3L1565.0 1229.2L1565.4 1224.6L1565.6 1222.1L1565.8 1219.6L1566.2 1214.1L1566.4 1211.2L1566.6 1208.2L1567.0 1202.0L1567.2 1198.8L1567.4 1195.6L1567.8 1189.4L1568.0 1186.4L1568.2 1183.4L1568.6 1177.7L1568.8 1175.0L1569.0 1172.4L1569.4 1167.8L1569.6 1165.7L1569.8 1163.9L1570.2 1161.0L1570.4 1159.8L1570.6 1158.7L1571.0 1157.2L1571.2 1156.8L1571.4 1156.7L1571.8 1157.1L1572.0 1157.6L1572.2 1158.2L1572.6 1159.8L1572.8 1160.8L1573.0 1162.1L1573.4 1164.9L1573.6 1166.4L1573.8 1167.9L1574.2 1171.0L1574.4 1172.7L1574.6 1174.3L1575.0 1177.7L1575.2 1179.3L1575.4 1180.9L1575.8 1184.2L1576.0 1185.8L1576.2 1187.5L1576.6 1191.0L1576.8 1192.8L1577.0 1194.6L1577.4 1198.3L1577.6 1200.1L1577.8 1202.0L1578.2 1205.9L1578.4 1207.8L1578.6 1209.7L1579.0 1213.6L1579.2 1215.5L1579.4 1217.4L1579.8 1221.2L1580.0 1223.0L1580.2 1224.8L1580.6 1228.3L1580.8 1230.0L1581.0 1231.5L1581.4 1234.5L1581.6 1235.8L1581.8 1237.2L1582.2 1239.7L1582.4 1240.8L1582.6 1241.8L1583.0 1243.8L1583.2 1244.6L1583.4 1245.4L1583.8 1246.7L1584.0 1247.3L1584.2 1247.8L1584.6 1248.6L1584.8 1249.0L1585.0 1249.3L1585.4 1249.9L1585.6 1250.2L1585.8 1250.4L1586.2 1250.8L1586.4 1251.0L1586.6 1251.1L1587.0 1251.4L1587.2 1251.4L1587.4 1251.5L1587.8 1251.5L1588.0 1251.4L1588.2 1251.5L1588.6 1251.7L1588.8 1251.8L1589.0 1251.8L1589.4 1251.9L1589.6 1251.9L1589.8 1252.0L1590.2 1252.4L1590.4 1252.5L1590.6 1252.6L1591.0 1252.6L1591.2 1252.7L1591.4 1252.7L1591.8 1252.7L1592.0 1252.8L1592.2 1252.7L1592.6 1252.6L1592.8 1252.5L1593.0 1252.5L1593.4 1252.5L1593.6 1252.4L1593.8 1252.5L1594.2 1252.6L1594.4 1252.7L1594.6 1252.7L1595.0 1252.6L1595.2 1252.6L1595.4 1252.6L1595.8 1252.6L1596.0 1252.6L1596.2 1252.6L1596.6 1252.5L1596.8 1252.5L1597.0 1252.6L1597.4 1252.7L1597.6 1252.8L1597.8 1252.8L1598.2 1252.6L1598.4 1252.6L1598.6 1252.6L1599.0 1252.6L1599.2 1252.6L1599.4 1252.5L1599.8 1252.4L1600.0 1252.4L1600.2 1252.5L1600.6 1252.6L1600.8 1252.7L1601.0 1252.8L1601.4 1253.0L1601.6 1253.1L1602.4 1252.9L1603.2 1252.9L1604.0 1252.8L1604.8 1252.9L1605.6 1253.2L1606.4 1253.3L1607.2 1253.3L1608.0 1253.2L1608.8 1253.0L1609.6 1253.1L1610.4 1253.1L1611.2 1253.1L1612.0 1253.2L1612.8 1253.1L1613.6 1253.0L1614.4 1253.1L1615.2 1252.9L1616.0 1253.3L1616.8 1253.2L1617.6 1253.6L1618.4 1253.5L1619.2 1253.5L1620.0 1253.6L1620.8 1253.4L1621.6 1253.5L1622.4 1253.2L1623.2 1253.3L1624.0 1253.3L1624.8 1253.5L1625.6 1253.5L1626.4 1253.5L1627.2 1253.3L1628.0 1253.4L1628.8 1253.7L1629.6 1254.1L1630.4 1254.2L1631.2 1253.8L1632.0 1253.8L1632.8 1253.5L1633.6 1253.6L1634.4 1253.5L1635.2 1253.7L1636.0 1253.7L1636.8 1253.5L1637.6 1253.5L1638.4 1253.7L1639.2 1254.1L1640.0 1254.0L1640.8 1253.9L1641.6 1253.4L1642.4 1253.3L1643.2 1253.2L1644.0 1253.5L1644.8 1253.6L1645.6 1253.4L1646.4 1253.2L1647.2 1253.2L1648.0 1253.5L1648.8 1253.5L1649.6 1253.3L1650.4 1253.1L1651.2 1253.4L1652.0 1253.4L1652.8 1253.5L1653.6 1253.4L1654.4 1253.4L1655.2 1253.4L1656.0 1253.1L1656.8 1253.3L1657.6 1253.4L1658.4 1253.7L1659.2 1253.8L1660.0 1253.7L1660.8 1253.8L1661.6 1253.9L1662.4 1254.0L1663.2 1253.9L1664.0 1253.7L1664.8 1253.7L1665.6 1253.6L1666.4 1253.6L1667.2 1253.7L1668.0 1253.6L1668.8 1253.6L1669.6 1253.7L1670.4 1253.7L1671.2 1253.8L1672.0 1253.6L1672.8 1253.3L1673.6 1253.3L1674.4 1253.4L1675.2 1253.8L1676.0 1253.8L1676.8 1253.5L1677.6 1253.4L1678.4 1253.6L1679.2 1253.7L1680.0 1253.7L1680.8 1253.5L1681.6 1253.6L1682.4 1253.7L1683.2 1253.8L1684.0 1253.9L1684.8 1254.0L1685.6 1253.9L1686.4 1253.8L1687.2 1253.8L1688.0 1253.9L1688.8 1253.8L1689.6 1253.7L1690.4 1253.9L1691.2 1253.9L1692.0 1253.6L1692.8 1253.6L1693.6 1253.7L1694.4 1253.9L1695.2 1253.5L1696.0 1253.6L1696.8 1253.7L1697.6 1254.0L1698.4 1253.7L1699.2 1253.6L1700.0 1253.7L1700.8 1253.8L1701.6 1254.0L1702.4 1253.9L1703.2 1253.9L1704.0 1253.5L1704.8 1253.5L1705.6 1253.5L1706.4 1253.5L1707.2 1253.9L1708.0 1253.9L1708.8 1253.9L1709.6 1253.6L1710.4 1253.7L1711.2 1253.8L1712.0 1253.7L1712.8 1253.7L1713.6 1253.8L1714.4 1253.9L1715.2 1253.9L1716.0 1253.9L1716.8 1253.7L1717.6 1253.6L1718.4 1253.6L1719.2 1253.7L1720.0 1253.7L1720.8 1253.7L1721.6 1254.0L1722.4 1254.1L1723.2 1253.6L1724.0 1253.4L1724.8 1253.5L1725.6 1254.1L1726.4 1254.0L1727.2 1254.0L1728.0 1253.9L1728.8 1253.9L1729.6 1253.6L1730.4 1253.5L1731.2 1253.6L1732.0 1253.8L1732.8 1253.7L1733.6 1253.6L1734.4 1253.5L1735.2 1253.6L1736.0 1253.6L1736.8 1253.8L1737.6 1253.7L1738.4 1253.8L1739.2 1253.8L1740.0 1253.8L1740.8 1253.7L1741.6 1253.7L1742.4 1253.8L1743.2 1253.9L1744.0 1253.8L1744.8 1253.9L1745.6 1253.7L1746.4 1253.9L1747.2 1253.7L1748.0 1253.7L1748.8 1253.5L1749.6 1253.5L1750.4 1253.4L1751.2 1253.5L1752.0 1253.4L1752.8 1253.6L1753.6 1253.6L1754.4 1254.0L1755.2 1254.2L1756.0 1254.4L1756.8 1254.1L1757.6 1254.0L1758.4 1254.0L1759.2 1253.8L1760.0 1253.7L1760.8 1253.4L1761.6 1253.5L1762.4 1253.6L1763.2 1253.8L1764.0 1254.0L1764.8 1254.1L1765.6 1254.1L1766.4 1254.0L1767.2 1253.7L1768.0 1253.5L1768.8 1253.6L1769.6 1253.7L1770.4 1253.6L1771.2 1253.7L1772.0 1253.7L1772.8 1253.7L1773.6 1253.6L1774.4 1253.8L1775.2 1254.1L1776.0 1253.8L1776.8 1253.7L1777.6 1254.0L1778.4 1254.3L1779.2 1254.1L1780.0 1253.7L1780.8 1253.5L1781.6 1253.4L1782.4 1253.8L1783.2 1253.8L1784.0 1254.0L1784.8 1253.8L1785.6 1253.7L1786.4 1253.5L1787.2 1253.5L1788.0 1253.6L1788.8 1253.6L1789.6 1253.6L1790.4 1253.6L1791.2 1253.6L1792.0 1253.5L1792.8 1253.4L1793.6 1253.6L1794.4 1253.6L1795.2 1254.0L1796.0 1253.9L1796.8 1254.0L1797.6 1253.9L1798.4 1253.7L1799.2 1253.5L1800.0 1253.5L1800.8 1253.6L1801.6 1253.7L1802.4 1253.7L1803.2 1253.6L1804.0 1253.5L1804.8 1253.4L1805.6 1253.6L1806.4 1253.7L1807.2 1254.0L1808.0 1254.0L1808.8 1253.9L1809.6 1253.9L1810.4 1253.8L1811.2 1254.1L1812.0 1253.9L1812.8 1253.6L1813.6 1253.7L1814.4 1253.8L1815.2 1253.8L1816.0 1253.4L1816.8 1253.3L1817.6 1253.5L1818.4 1253.5L1819.2 1253.7L1820.0 1253.5L1820.8 1253.7L1821.6 1253.8L1822.4 1254.0L1823.2 1254.0L1824.0 1253.8L1824.8 1253.7L1825.6 1253.9L1826.4 1253.6L1827.2 1253.6L1828.0 1253.4L1828.8 1253.6L1829.6 1253.7L1830.4 1253.9L1831.2 1253.9L1832.0 1253.8L1832.8 1253.6L1833.6 1253.6L1834.4 1253.4L1835.2 1253.5L1836.0 1253.4L1836.8 1253.6L1837.6 1253.3L1838.4 1253.6L1839.2 1253.7L1840.0 1254.0L1840.8 1254.2L1841.6 1253.9L1842.4 1253.8L1843.2 1253.6L1844.0 1253.5L1844.8 1253.4L1845.6 1253.3L1846.4 1253.4L1847.2 1253.4L1848.0 1253.6L1848.8 1253.6L1849.6 1253.9L1850.4 1253.8L1851.2 1253.8L1852.0 1253.8L1852.8 1253.7L1853.6 1253.8L1854.4 1253.6L1855.2 1253.7L1856.0 1253.7L1856.8 1253.8L1857.6 1254.0L1858.4 1254.0L1859.2 1254.1L1860.0 1253.8L1860.8 1253.7L1861.6 1253.3L1862.4 1253.6L1863.2 1253.5L1864.0 1254.0L1864.8 1253.9L1865.6 1253.8L1866.4 1253.9L1867.2 1253.9L1868.0 1253.8L1868.8 1253.7L1869.6 1253.9L1870.4 1254.0L1871.2 1253.9L1872.0 1253.8L1872.8 1253.9L1873.6 1253.6L1874.4 1253.3L1875.2 1253.3L1876.0 1253.6L1876.8 1253.9L1877.6 1254.1L1878.4 1253.9L1879.2 1253.8L1880.0 1253.6L1880.8 1253.4L1881.6 1253.4L1882.4 1253.7L1883.2 1253.9L1884.0 1253.7L1884.8 1253.5L1885.6 1253.4L1886.4 1253.4L1887.2 1253.5L1888.0 1253.6L1888.8 1253.8L1889.6 1253.7L1890.4 1253.5L1891.2 1253.2L1892.0 1253.1L1892.8 1253.3L1893.6 1253.4L1894.4 1253.5L1895.2 1253.6L1896.0 1253.4L1896.8 1253.3L1897.6 1253.5L1898.4 1253.7L1899.2 1254.0L1900.0 1253.8L1900.8 1253.9L1901.6 1253.6L1902.4 1253.9L1903.2 1253.8L1904.0 1253.8L1904.8 1253.4L1905.6 1253.3L1906.4 1253.3L1907.2 1253.4L1908.0 1253.5L1908.8 1253.4L1909.6 1253.5L1910.4 1253.8L1911.2 1254.0L1912.0 1254.0L1912.8 1253.7L1913.6 1253.6L1914.4 1253.4L1915.2 1253.4L1916.0 1253.6L1916.8 1253.8L1917.6 1253.9L1918.4 1253.7L1919.2 1253.6L1920.0 1253.6L1920.8 1253.6L1921.6 1253.8L1922.4 1253.6L1923.2 1253.6L1924.0 1253.7L1924.8 1253.7L1925.6 1253.9L1926.4 1253.9L1927.2 1253.8L1928.0 1253.6L1928.8 1253.4L1929.6 1253.5L1930.4 1253.2L1931.2 1253.1L1932.0 1253.2L1932.8 1253.5L1933.6 1253.6L1934.4 1253.6L1935.2 1253.3L1936.0 1253.3L1936.8 1253.5L1937.6 1253.7L1938.4 1253.8L1939.2 1253.6L1940.0 1253.7L1940.8 1253.8L1941.6 1253.8L1942.4 1253.9L1943.2 1253.7L1944.0 1253.8L1944.8 1253.6L1945.6 1253.7L1946.4 1253.4L1947.2 1253.5L1948.0 1253.1L1948.8 1253.1L1949.6 1253.1L1950.4 1253.4L1951.2 1253.8L1952.0 1253.6L1952.8 1253.8L1953.6 1253.6L1954.4 1253.6L1955.2 1253.6L1956.0 1253.6L1956.8 1253.6L1957.6 1253.4L1958.4 1253.4L1959.2 1253.6L1960.0 1253.7L1960.8 1253.5L1961.6 1253.7L1962.4 1253.8L1963.2 1254.0L1964.0 1253.9L1964.8 1253.7L1965.6 1253.7L1966.4 1253.5L1967.2 1253.7L1968.0 1253.5L1968.8 1253.5L1969.6 1253.0L1970.4 1253.2L1971.2 1253.3L1972.0 1253.8L1972.8 1253.8L1973.6 1253.6L1974.4 1253.5L1975.2 1253.2L1976.0 1253.4L1976.8 1253.5L1977.6 1253.8L1978.4 1253.5L1979.2 1253.3L1980.0 1253.0L1980.8 1253.2L1981.6 1253.1L1982.4 1253.1L1983.2 1253.0L1984.0 1252.8L1984.8 1252.9L1985.6 1253.2L1986.4 1253.3L1987.2 1253.3L1988.0 1253.1L1988.1 1253.1L1988.5 1253.2L1988.8 1253.2L1988.9 1253.2L1989.3 1253.2L1989.6 1253.2L1989.7 1253.1L1990.1 1253.1L1990.4 1253.0L1990.5 1253.0L1990.9 1252.9L1991.2 1252.8L1991.3 1252.8L1991.7 1252.7L1992.0 1252.6L1992.1 1252.6L1992.5 1252.8L1992.8 1252.9L1992.9 1252.9L1993.3 1252.8L1993.6 1252.8L1993.7 1252.8L1994.1 1252.8L1994.4 1252.8L1994.5 1252.8L1994.9 1252.6L1995.2 1252.4L1995.3 1252.5L1995.7 1252.5L1996.0 1252.6L1996.1 1252.6L1996.5 1252.7L1996.8 1252.8L1996.9 1252.8L1997.3 1252.8L1997.6 1252.9L1997.7 1252.9L1998.1 1252.8L1998.4 1252.7L1998.5 1252.7L1998.9 1252.5L1999.2 1252.4L1999.3 1252.4L1999.7 1252.2L2000.0 1252.1L2000.1 1252.1L2000.5 1252.1L2000.8 1252.0L2000.9 1252.0L2001.3 1251.8L2001.6 1251.6L2001.7 1251.5L2002.1 1250.9L2002.4 1250.4L2002.5 1250.2L2002.9 1249.3L2003.2 1248.5L2003.3 1248.2L2003.7 1246.9L2004.0 1245.7L2004.1 1245.4L2004.5 1243.7L2004.8 1242.2L2004.9 1241.7L2005.3 1239.3L2005.6 1237.3L2005.7 1236.6L2006.1 1233.5L2006.4 1231.1L2006.5 1230.3L2006.9 1226.8L2007.2 1224.2L2007.3 1223.4L2007.7 1220.0L2008.0 1217.6L2008.1 1216.8L2008.5 1213.7L2008.8 1211.7L2008.9 1211.0L2009.3 1208.8L2009.6 1207.6L2009.7 1207.2L2010.1 1206.0L2010.4 1205.5L2010.5 1205.4L2010.9 1205.5L2011.2 1206.0L2011.3 1206.2L2011.7 1207.6L2012.0 1208.9L2012.1 1209.3L2012.5 1211.3L2012.8 1212.8L2012.9 1213.4L2013.3 1215.5L2013.6 1217.0L2013.7 1217.4L2014.1 1219.1L2014.4 1220.3L2014.5 1220.6L2014.9 1222.0L2015.2 1222.9L2015.3 1223.1L2015.7 1224.0L2016.0 1224.5L2016.1 1224.7L2016.5 1225.2L2016.8 1225.5L2016.9 1225.6L2017.3 1226.0L2017.6 1226.4L2017.7 1226.5L2018.1 1227.2L2018.4 1227.9L2018.5 1228.1L2018.9 1229.1L2019.2 1230.0L2019.3 1230.3L2019.7 1231.6L2020.0 1232.7L2020.1 1233.2L2020.5 1234.9L2020.8 1236.3L2020.9 1236.7L2021.3 1238.6L2021.6 1240.0L2021.7 1240.4L2022.1 1242.2L2022.4 1243.5L2022.5 1243.9L2022.9 1245.2L2023.2 1246.1L2023.3 1246.4L2023.7 1247.6L2024.0 1248.3L2024.1 1248.5L2024.5 1249.3L2024.8 1249.9L2024.9 1250.1L2025.3 1250.7L2025.6 1251.2L2025.7 1251.3L2026.1 1251.6L2026.4 1251.9L2026.5 1251.9L2026.9 1252.1L2027.2 1252.3L2027.3 1252.3L2027.7 1252.3L2028.0 1252.3L2028.1 1252.3L2028.5 1252.4L2028.8 1252.4L2028.9 1252.4L2029.3 1252.5L2029.6 1252.5L2029.7 1252.5L2030.1 1252.6L2030.4 1252.6L2030.5 1252.6L2030.9 1252.7L2031.2 1252.7L2031.3 1252.7L2031.7 1252.9L2032.0 1253.0L2032.1 1253.1L2032.5 1253.2L2032.8 1253.3L2032.9 1253.3L2033.3 1253.3L2033.6 1253.3L2033.7 1253.3L2034.1 1253.1L2034.4 1253.0L2034.5 1253.0L2034.9 1253.0L2035.2 1253.0L2035.3 1253.0L2035.7 1253.0L2036.0 1253.0L2036.1 1253.0L2036.5 1253.2L2036.8 1253.3L2036.9 1253.3L2037.3 1253.2L2037.6 1253.2L2037.7 1253.2L2038.1 1253.2L2038.4 1253.3L2038.5 1253.3L2038.9 1253.2L2039.2 1253.2L2039.3 1253.2L2039.7 1253.4L2040.0 1253.4L2040.1 1253.4L2040.5 1253.4L2040.8 1253.4L2041.6 1253.5L2042.4 1253.4L2043.2 1253.3L2044.0 1253.2L2044.8 1253.3L2045.6 1253.4L2046.4 1253.3L2047.2 1253.2L2048.0 1253.4L2048.8 1253.4L2049.6 1253.2L2050.4 1253.1L2051.2 1253.0L2052.0 1253.1L2052.8 1253.0L2053.6 1253.1L2054.4 1253.1L2055.2 1253.1L2056.0 1253.2L2056.8 1253.3L2057.6 1253.7L2058.4 1253.6L2059.2 1253.7L2060.0 1253.8L2060.8 1253.9L2061.6 1253.8L2062.4 1253.6L2063.2 1253.5L2064.0 1253.4L2064.8 1253.4L2065.6 1253.5L2066.4 1253.6L2067.2 1253.5L2068.0 1253.3L2068.8 1253.4L2069.6 1253.4L2070.4 1253.5L2071.2 1253.2L2072.0 1253.0L2072.8 1252.9L2073.6 1253.1L2074.4 1253.5L2075.2 1253.7L2076.0 1253.6L2076.8 1253.4L2077.6 1253.4L2078.4 1253.6L2079.2 1253.9L2080.0 1253.9L2080.8 1254.1L2081.6 1253.9L2082.4 1253.8L2083.2 1253.4L2084.0 1253.6L2084.8 1253.5L2085.6 1253.7L2086.4 1253.2L2087.2 1253.4L2088.0 1253.1L2088.8 1253.4L2089.6 1253.3L2090.4 1253.2L2091.2 1253.4L2092.0 1253.6L2092.8 1254.0L2093.6 1254.0L2094.4 1253.7L2095.2 1253.7L2096.0 1253.6L2096.8 1254.0L2097.6 1253.8L2098.4 1253.6L2099.2 1253.6L2100.0 1253.7L2100.8 1253.5L2101.6 1253.4L2102.4 1253.2L2103.2 1253.5L2104.0 1253.7L2104.8 1253.7L2105.6 1253.6L2106.4 1253.5L2107.2 1253.3L2108.0 1253.2L2108.8 1253.4L2109.6 1253.8L2110.4 1253.9L2111.2 1253.7L2112.0 1253.6L2112.8 1253.9L2113.6 1254.2L2114.4 1254.3L2115.2 1254.0L2116.0 1253.8L2116.8 1253.6L2117.6 1253.4L2118.4 1253.4L2119.2 1253.4L2120.0 1253.4L2120.8 1253.4L2121.6 1253.2L2122.4 1253.5L2123.2 1253.4L2124.0 1253.8L2124.8 1253.7L2125.6 1253.7L2126.4 1253.8L2127.2 1253.6L2127.3 1253.6L2127.7 1253.7L2128.0 1253.7L2128.1 1253.7L2128.5 1253.6L2128.8 1253.5L2128.9 1253.5L2129.3 1253.5L2129.6 1253.5L2129.7 1253.5L2130.1 1253.5L2130.4 1253.5L2130.5 1253.5L2130.9 1253.5L2131.2 1253.6L2131.3 1253.6L2131.7 1253.6L2132.0 1253.6L2132.1 1253.6L2132.5 1253.6L2132.8 1253.6L2132.9 1253.5L2133.3 1253.4L2133.6 1253.3L2133.7 1253.2L2134.1 1253.0L2134.4 1252.8L2134.5 1252.8L2134.9 1252.7L2135.2 1252.7L2135.3 1252.8L2135.7 1252.9L2136.0 1253.0L2136.1 1253.0L2136.5 1253.1L2136.8 1253.2L2136.9 1253.2L2137.3 1253.2L2137.6 1253.2L2137.7 1253.1L2138.1 1253.0L2138.4 1252.8L2138.5 1252.8L2138.9 1252.8L2139.2 1252.8L2139.3 1252.8L2139.7 1252.6L2140.0 1252.5L2140.1 1252.5L2140.5 1252.4L2140.8 1252.4L2140.9 1252.4L2141.3 1252.3L2141.6 1252.1L2141.7 1252.1L2142.1 1251.8L2142.4 1251.6L2142.5 1251.4L2142.9 1250.8L2143.2 1250.2L2143.3 1249.9L2143.7 1248.8L2144.0 1247.9L2144.1 1247.6L2144.5 1246.3L2144.8 1245.3L2144.9 1244.9L2145.3 1243.5L2145.6 1242.3L2145.7 1241.9L2146.1 1240.2L2146.4 1238.8L2146.5 1238.3L2146.9 1236.5L2147.2 1235.1L2147.3 1234.6L2147.7 1232.7L2148.0 1231.3L2148.1 1230.9L2148.5 1229.5L2148.8 1228.5L2148.9 1228.3L2149.3 1227.4L2149.6 1226.9L2149.7 1226.9L2150.1 1226.7L2150.4 1226.9L2150.5 1226.9L2150.9 1227.4L2151.2 1227.9L2151.3 1228.1L2151.7 1229.1L2152.0 1230.0L2152.1 1230.3L2152.5 1231.8L2152.8 1232.9L2152.9 1233.3L2153.3 1234.7L2153.6 1235.7L2153.7 1236.0L2154.1 1237.0L2154.4 1237.7L2154.5 1237.9L2154.9 1238.4L2155.2 1238.7L2155.3 1238.9L2155.7 1239.2L2156.0 1239.4L2156.1 1239.5L2156.5 1239.5L2156.8 1239.5L2156.9 1239.5L2157.3 1239.3L2157.6 1239.3L2157.7 1239.2L2158.1 1239.1L2158.4 1239.1L2158.5 1239.1L2158.9 1239.3L2159.2 1239.5L2159.3 1239.6L2159.7 1240.2L2160.0 1240.8L2160.1 1240.9L2160.5 1241.7L2160.8 1242.3L2160.9 1242.5L2161.3 1243.4L2161.6 1244.1L2161.7 1244.3L2162.1 1245.2L2162.4 1245.8L2162.5 1246.1L2162.9 1247.1L2163.2 1247.8L2163.3 1248.1L2163.7 1248.9L2164.0 1249.5L2164.1 1249.7L2164.5 1250.3L2164.8 1250.7L2164.9 1250.9L2165.3 1251.3L2165.6 1251.6L2165.7 1251.7L2166.1 1251.9L2166.4 1252.1L2166.5 1252.2L2166.9 1252.5L2167.2 1252.7L2167.3 1252.7L2167.7 1252.8L2168.0 1252.9L2168.1 1252.9L2168.5 1253.1L2168.8 1253.2L2168.9 1253.2L2169.3 1253.2L2169.6 1253.2L2169.7 1253.2L2170.1 1253.3L2170.4 1253.3L2170.5 1253.3L2170.9 1253.4L2171.2 1253.5L2171.3 1253.4L2171.7 1253.4L2172.0 1253.3L2172.1 1253.3L2172.5 1253.4L2172.8 1253.4L2172.9 1253.4L2173.3 1253.4L2173.6 1253.3L2173.7 1253.3L2174.1 1253.2L2174.4 1253.2L2174.5 1253.2L2174.9 1253.3L2175.2 1253.3L2175.3 1253.3L2175.7 1253.4L2176.0 1253.5L2176.1 1253.5L2176.5 1253.7L2176.8 1253.8L2176.9 1253.8L2177.3 1253.6L2177.6 1253.5L2177.7 1253.5L2178.1 1253.6L2178.4 1253.6L2178.5 1253.6L2178.9 1253.4L2179.2 1253.3L2179.3 1253.3L2179.7 1253.3L2180.0 1253.3L2180.1 1253.2L2180.5 1253.2L2180.8 1253.1L2180.9 1253.1L2181.3 1253.2L2181.6 1253.2L2182.4 1253.5L2183.2 1253.4L2184.0 1253.6L2184.8 1253.3L2185.6 1253.4L2186.4 1253.3L2187.2 1253.6L2188.0 1253.8L2188.8 1253.8L2189.6 1253.6L2190.4 1253.4L2191.2 1253.5L2192.0 1253.3L2192.8 1253.3L2193.6 1252.9L2194.4 1253.4L2195.2 1253.7L2196.0 1254.3L2196.8 1254.0L2197.6 1253.9L2198.4 1253.5L2199.2 1253.9L2200.0 1253.9L2200.8 1253.7L2201.6 1253.6L2202.4 1253.6L2203.2 1253.6L2204.0 1253.5L2204.8 1253.3L2205.6 1253.2L2206.4 1253.3L2207.2 1253.5L2208.0 1254.0L2208.8 1253.8L2209.6 1253.7L2210.4 1253.4L2211.2 1253.7L2212.0 1253.9L2212.8 1254.2L2213.6 1254.0L2214.4 1253.6L2215.2 1253.3L2216.0 1253.3L2216.8 1253.6L2217.6 1253.7L2218.4 1253.9L2219.2 1253.8L2220.0 1253.6L2220.8 1253.5L2221.6 1253.6L2222.4 1253.7L2223.2 1253.4L2224.0 1253.3L2224.8 1253.5L2225.6 1253.7L2226.4 1253.6L2227.2 1253.6L2228.0 1253.6L2228.8 1253.8L2229.6 1253.7L2230.4 1253.6L2231.2 1253.4L2232.0 1253.4L2232.8 1253.2L2233.6 1253.2L2234.4 1253.5L2235.2 1253.6L2236.0 1253.7L2236.8 1253.5L2237.6 1253.7L2238.4 1253.7L2239.2 1253.8L2240.0 1253.4L2240.8 1253.2L2241.6 1253.3L2242.4 1253.5L2243.2 1253.6L2244.0 1253.4L2244.8 1253.4L2245.6 1253.4L2246.4 1253.5L2247.2 1253.9L2248.0 1253.9L2248.8 1253.8L2249.6 1253.3L2250.4 1253.3L2251.2 1253.4L2252.0 1253.7L2252.8 1253.8L2253.6 1253.6L2254.4 1253.5L2255.2 1253.4L2256.0 1253.5L2256.8 1253.8L2257.6 1254.0L2258.4 1253.9L2259.2 1253.9L2260.0 1253.8L2260.8 1253.7L2261.6 1253.4L2262.4 1253.5L2263.2 1253.5L2264.0 1253.7L2264.8 1253.9L2265.6 1253.9L2266.4 1253.9L2267.2 1253.8L2268.0 1253.9L2268.8 1253.9L2269.6 1253.9L2270.4 1253.6L2271.2 1253.6L2272.0 1253.5L2272.8 1253.7L2273.6 1253.9L2274.4 1254.0L2275.2 1254.1L2276.0 1253.6L2276.8 1253.5L2277.6 1253.3L2278.4 1253.5L2279.2 1253.6L2280.0 1253.6L2280.8 1253.6L2281.6 1253.6L2282.4 1253.7L2283.2 1253.5L2284.0 1253.4L2284.8 1253.3L2285.6 1253.6L2286.4 1253.7L2287.2 1253.9L2287.8 1253.9"/>
<g fill="#000">
<path d="M674.1 211.0 Q677.6 226.9 682.4 242.8 Q702.6 247.1 722.7 250.0 Q702.6 252.9 682.4 257.2 Q677.6 273.1 674.1 289.0 Q670.6 273.1 665.8 257.2 Q645.6 252.9 625.5 250.0 Q645.6 247.1 665.8 242.8 Q670.6 226.9 674.1 211.0Z"/>
<path d="M858.8 202.5 Q862.2 218.4 867.1 234.3 Q887.2 238.6 907.4 241.5 Q887.2 244.4 867.1 248.7 Q862.2 264.6 858.8 280.5 Q855.3 264.6 850.5 248.7 Q830.3 244.4 810.2 241.5 Q830.3 238.6 850.5 234.3 Q855.3 218.4 858.8 202.5Z"/>
<path d="M1563.5 307.9 Q1567.0 323.8 1571.8 339.7 Q1592.0 344.0 1612.1 346.9 Q1592.0 349.8 1571.8 354.1 Q1567.0 370.0 1563.5 385.9 Q1560.0 370.0 1555.2 354.1 Q1535.0 349.8 1514.9 346.9 Q1535.0 344.0 1555.2 339.7 Q1560.0 323.8 1563.5 307.9Z"/>
<path d="M2024.4 355.0 Q2027.9 370.9 2032.7 386.8 Q2052.8 391.1 2073.0 394.0 Q2052.8 396.9 2032.7 401.2 Q2027.9 417.1 2024.4 433.0 Q2021.0 417.1 2016.1 401.2 Q1996.0 396.9 1975.8 394.0 Q1996.0 391.1 2016.1 386.8 Q2021.0 370.9 2024.4 355.0Z"/>
<path d="M2140.3 355.8 Q2143.8 371.7 2148.6 387.6 Q2168.8 391.9 2188.9 394.8 Q2168.8 397.7 2148.6 402.0 Q2143.8 417.9 2140.3 433.8 Q2136.9 417.9 2132.0 402.0 Q2111.9 397.7 2091.7 394.8 Q2111.9 391.9 2132.0 387.6 Q2136.9 371.7 2140.3 355.8Z"/>
<path d="M1943.8 99.4 Q1947.2 115.3 1952.1 131.2 Q1972.2 135.5 1992.4 138.4 Q1972.2 141.3 1952.1 145.6 Q1947.2 161.5 1943.8 177.4 Q1940.3 161.5 1935.5 145.6 Q1915.3 141.3 1895.2 138.4 Q1915.3 135.5 1935.5 131.2 Q1940.3 115.3 1943.8 99.4Z"/>
<path d="M598.2 478.4 C593.8 473.1 589.3 467.8 584.8 462.4 C583.1 460.2 581.4 456.4 581.4 450.8 C581.4 442.0 583.8 438.4 589.8 438.4 C593.5 438.4 596.9 440.0 598.2 443.4 C599.5 440.0 602.9 438.4 606.6 438.4 C612.6 438.4 615.0 442.0 615.0 450.8 C615.0 456.4 613.3 460.2 611.6 462.4 C607.1 467.8 602.6 473.1 598.2 478.4Z"/>
<path d="M958.8 478.4 C954.4 473.1 949.9 467.8 945.4 462.4 C943.7 460.2 942.0 456.4 942.0 450.8 C942.0 442.0 944.4 438.4 950.4 438.4 C954.1 438.4 957.5 440.0 958.8 443.4 C960.1 440.0 963.5 438.4 967.2 438.4 C973.2 438.4 975.6 442.0 975.6 450.8 C975.6 456.4 973.9 460.2 972.2 462.4 C967.7 467.8 963.2 473.1 958.8 478.4Z"/>
<path d="M1613.4 167.8 C1609.0 162.5 1604.5 157.2 1600.0 151.8 C1598.3 149.6 1596.6 145.8 1596.6 140.2 C1596.6 131.4 1599.0 127.8 1605.0 127.8 C1608.7 127.8 1612.1 129.4 1613.4 132.8 C1614.7 129.4 1618.1 127.8 1621.8 127.8 C1627.8 127.8 1630.2 131.4 1630.2 140.2 C1630.2 145.8 1628.5 149.6 1626.8 151.8 C1622.3 157.2 1617.8 162.5 1613.4 167.8Z"/>
</g>
<text transform="translate(354.06 1674.90) scale(1.0000 1)" font-size="106.00">30</text>
<text transform="translate(722.89 1674.90) scale(1.0000 1)" font-size="106.00">40</text>
<text transform="translate(1091.73 1674.90) scale(1.0000 1)" font-size="106.00">50</text>
<text transform="translate(1460.56 1674.90) scale(1.0000 1)" font-size="106.00">60</text>
<text transform="translate(1829.40 1674.90) scale(1.0000 1)" font-size="106.00">70</text>
<text transform="translate(2198.24 1674.90) scale(1.0000 1)" font-size="106.00">80</text>
<text xml:space="preserve"><tspan x="1116.89" y="1852.90" font-size="133.70">2</tspan><tspan x="1185.25" y="1853.96" font-size="128.10">θ</tspan><tspan x="1253.93" y="1853.98" font-size="133.00"> (</tspan><tspan x="1325.69" y="1865.84" font-size="151.70">°</tspan><tspan x="1380.43" y="1853.98" font-size="133.00">)</tspan></text>
<text transform="translate(121.30 1152.51) rotate(-90) scale(0.9841 1)" font-size="133.00" xml:space="preserve">Intensity (a.u.)</text>
<text x="301.5 355.1 377.0 434.6 498.3 524.3 566.0" y="412.1" font-size="84.0">TiCO-10</text>
<text x="301.5 355.1 377.0 434.6 498.3 525.9" y="786.0" font-size="84.0">TiCO-5</text>
<text x="325.0 378.6 400.5 459.6 522.9 549.9" y="1181.0" font-size="84.0">TiCO-0</text>
<text x="1693.8 1747.4 1769.1" y="169.4" font-size="84.0">TiO</text>
<text x="1999.0 2053.0 2075.1" y="168.4" font-size="84.0">TiC</text>
</svg></body></html>
